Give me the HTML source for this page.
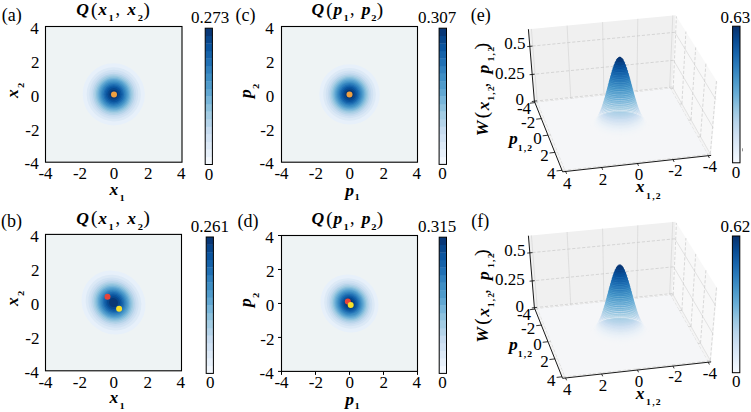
<!DOCTYPE html>
<html><head><meta charset="utf-8"><style>html,body{margin:0;padding:0;background:#fff;width:751px;height:412px;overflow:hidden}svg{display:block}</style></head><body>
<svg width="751" height="412" viewBox="0 0 751 412">
<rect width="751" height="412" fill="#fff"/>
<clipPath id="c45_26"><rect x="45.5" y="26.5" width="136.5" height="135.7"/></clipPath>
<rect x="45.5" y="26.5" width="136.5" height="135.7" fill="#eef3f4"/>
<g clip-path="url(#c45_26)">
<ellipse cx="113.75" cy="94.35" rx="31.18" ry="31" fill="#e7f0fa" transform="rotate(45 113.75 94.35)"/>
<ellipse cx="113.75" cy="94.35" rx="27.18" ry="27.02" fill="#dce9f6" transform="rotate(45 113.75 94.35)"/>
<ellipse cx="113.75" cy="94.35" rx="24.55" ry="24.4" fill="#d1e2f3" transform="rotate(45 113.75 94.35)"/>
<ellipse cx="113.75" cy="94.35" rx="22.49" ry="22.36" fill="#c6dbef" transform="rotate(45 113.75 94.35)"/>
<ellipse cx="113.75" cy="94.35" rx="20.76" ry="20.63" fill="#b4d3e9" transform="rotate(45 113.75 94.35)"/>
<ellipse cx="113.75" cy="94.35" rx="19.22" ry="19.11" fill="#a3cce3" transform="rotate(45 113.75 94.35)"/>
<ellipse cx="113.75" cy="94.35" rx="17.82" ry="17.72" fill="#8dc1dd" transform="rotate(45 113.75 94.35)"/>
<ellipse cx="113.75" cy="94.35" rx="16.51" ry="16.42" fill="#77b5d9" transform="rotate(45 113.75 94.35)"/>
<ellipse cx="113.75" cy="94.35" rx="15.27" ry="15.18" fill="#61a7d2" transform="rotate(45 113.75 94.35)"/>
<ellipse cx="113.75" cy="94.35" rx="14.06" ry="13.98" fill="#4f9bcb" transform="rotate(45 113.75 94.35)"/>
<ellipse cx="113.75" cy="94.35" rx="12.87" ry="12.79" fill="#3e8ec4" transform="rotate(45 113.75 94.35)"/>
<ellipse cx="113.75" cy="94.35" rx="11.68" ry="11.61" fill="#3080bd" transform="rotate(45 113.75 94.35)"/>
<ellipse cx="113.75" cy="94.35" rx="10.46" ry="10.4" fill="#2070b4" transform="rotate(45 113.75 94.35)"/>
<ellipse cx="113.75" cy="94.35" rx="9.19" ry="9.14" fill="#1562a9" transform="rotate(45 113.75 94.35)"/>
<ellipse cx="113.75" cy="94.35" rx="7.83" ry="7.78" fill="#0a549e" transform="rotate(45 113.75 94.35)"/>
<ellipse cx="113.75" cy="94.35" rx="6.29" ry="6.26" fill="#08468b" transform="rotate(45 113.75 94.35)"/>
<ellipse cx="113.75" cy="94.35" rx="4.38" ry="4.36" fill="#083776" transform="rotate(45 113.75 94.35)"/>
</g>
<circle cx="114" cy="94.6" r="3.0" fill="#f0a040"/>
<rect x="45.5" y="26.5" width="136.5" height="135.7" fill="none" stroke="#000" stroke-width="1.1"/>
<rect x="205.2" y="156.93" width="7.2" height="7.87" fill="#f2f7fd"/>
<rect x="205.2" y="149.36" width="7.2" height="7.87" fill="#e7f0fa"/>
<rect x="205.2" y="141.78" width="7.2" height="7.87" fill="#dce9f6"/>
<rect x="205.2" y="134.21" width="7.2" height="7.87" fill="#d1e2f3"/>
<rect x="205.2" y="126.64" width="7.2" height="7.87" fill="#c6dbef"/>
<rect x="205.2" y="119.07" width="7.2" height="7.87" fill="#b4d3e9"/>
<rect x="205.2" y="111.49" width="7.2" height="7.87" fill="#a3cce3"/>
<rect x="205.2" y="103.92" width="7.2" height="7.87" fill="#8dc1dd"/>
<rect x="205.2" y="96.35" width="7.2" height="7.87" fill="#77b5d9"/>
<rect x="205.2" y="88.78" width="7.2" height="7.87" fill="#61a7d2"/>
<rect x="205.2" y="81.21" width="7.2" height="7.87" fill="#4f9bcb"/>
<rect x="205.2" y="73.63" width="7.2" height="7.87" fill="#3e8ec4"/>
<rect x="205.2" y="66.06" width="7.2" height="7.87" fill="#3080bd"/>
<rect x="205.2" y="58.49" width="7.2" height="7.87" fill="#2070b4"/>
<rect x="205.2" y="50.92" width="7.2" height="7.87" fill="#1562a9"/>
<rect x="205.2" y="43.34" width="7.2" height="7.87" fill="#0a549e"/>
<rect x="205.2" y="35.77" width="7.2" height="7.87" fill="#08468b"/>
<rect x="205.2" y="28.2" width="7.2" height="7.87" fill="#083776"/>
<rect x="205.2" y="28.2" width="7.2" height="136.3" fill="none" stroke="#000" stroke-width="1"/>
<clipPath id="c45_234"><rect x="45.5" y="234.4" width="136" height="136.4"/></clipPath>
<rect x="45.5" y="234.4" width="136" height="136.4" fill="#eef3f4"/>
<g clip-path="url(#c45_234)">
<ellipse cx="113.5" cy="302.6" rx="33.16" ry="30.75" fill="#e7f0fa" transform="rotate(45 113.5 302.6)"/>
<ellipse cx="113.5" cy="302.6" rx="28.91" ry="26.81" fill="#dce9f6" transform="rotate(45 113.5 302.6)"/>
<ellipse cx="113.5" cy="302.6" rx="26.11" ry="24.21" fill="#d1e2f3" transform="rotate(45 113.5 302.6)"/>
<ellipse cx="113.5" cy="302.6" rx="23.92" ry="22.18" fill="#c6dbef" transform="rotate(45 113.5 302.6)"/>
<ellipse cx="113.5" cy="302.6" rx="22.07" ry="20.47" fill="#b4d3e9" transform="rotate(45 113.5 302.6)"/>
<ellipse cx="113.5" cy="302.6" rx="20.44" ry="18.95" fill="#a3cce3" transform="rotate(45 113.5 302.6)"/>
<ellipse cx="113.5" cy="302.6" rx="18.95" ry="17.57" fill="#8dc1dd" transform="rotate(45 113.5 302.6)"/>
<ellipse cx="113.5" cy="302.6" rx="17.56" ry="16.29" fill="#77b5d9" transform="rotate(45 113.5 302.6)"/>
<ellipse cx="113.5" cy="302.6" rx="16.24" ry="15.06" fill="#61a7d2" transform="rotate(45 113.5 302.6)"/>
<ellipse cx="113.5" cy="302.6" rx="14.95" ry="13.86" fill="#4f9bcb" transform="rotate(45 113.5 302.6)"/>
<ellipse cx="113.5" cy="302.6" rx="13.69" ry="12.69" fill="#3e8ec4" transform="rotate(45 113.5 302.6)"/>
<ellipse cx="113.5" cy="302.6" rx="12.42" ry="11.52" fill="#3080bd" transform="rotate(45 113.5 302.6)"/>
<ellipse cx="113.5" cy="302.6" rx="11.13" ry="10.32" fill="#2070b4" transform="rotate(45 113.5 302.6)"/>
<ellipse cx="113.5" cy="302.6" rx="9.78" ry="9.07" fill="#1562a9" transform="rotate(45 113.5 302.6)"/>
<ellipse cx="113.5" cy="302.6" rx="8.33" ry="7.72" fill="#0a549e" transform="rotate(45 113.5 302.6)"/>
<ellipse cx="113.5" cy="302.6" rx="6.69" ry="6.21" fill="#08468b" transform="rotate(45 113.5 302.6)"/>
<ellipse cx="113.5" cy="302.6" rx="4.66" ry="4.32" fill="#083776" transform="rotate(45 113.5 302.6)"/>
</g>
<circle cx="107.5" cy="296.7" r="3.0" fill="#e8443a"/>
<circle cx="119.1" cy="308.8" r="3.0" fill="#f7e02a"/>
<rect x="45.5" y="234.4" width="136" height="136.4" fill="none" stroke="#000" stroke-width="1.1"/>
<rect x="206.2" y="365.82" width="7.2" height="7.88" fill="#f2f7fd"/>
<rect x="206.2" y="358.24" width="7.2" height="7.88" fill="#e7f0fa"/>
<rect x="206.2" y="350.67" width="7.2" height="7.88" fill="#dce9f6"/>
<rect x="206.2" y="343.09" width="7.2" height="7.88" fill="#d1e2f3"/>
<rect x="206.2" y="335.51" width="7.2" height="7.88" fill="#c6dbef"/>
<rect x="206.2" y="327.93" width="7.2" height="7.88" fill="#b4d3e9"/>
<rect x="206.2" y="320.36" width="7.2" height="7.88" fill="#a3cce3"/>
<rect x="206.2" y="312.78" width="7.2" height="7.88" fill="#8dc1dd"/>
<rect x="206.2" y="305.2" width="7.2" height="7.88" fill="#77b5d9"/>
<rect x="206.2" y="297.62" width="7.2" height="7.88" fill="#61a7d2"/>
<rect x="206.2" y="290.04" width="7.2" height="7.88" fill="#4f9bcb"/>
<rect x="206.2" y="282.47" width="7.2" height="7.88" fill="#3e8ec4"/>
<rect x="206.2" y="274.89" width="7.2" height="7.88" fill="#3080bd"/>
<rect x="206.2" y="267.31" width="7.2" height="7.88" fill="#2070b4"/>
<rect x="206.2" y="259.73" width="7.2" height="7.88" fill="#1562a9"/>
<rect x="206.2" y="252.16" width="7.2" height="7.88" fill="#0a549e"/>
<rect x="206.2" y="244.58" width="7.2" height="7.88" fill="#08468b"/>
<rect x="206.2" y="237" width="7.2" height="7.88" fill="#083776"/>
<rect x="206.2" y="237" width="7.2" height="136.4" fill="none" stroke="#000" stroke-width="1"/>
<clipPath id="c281_26"><rect x="281.5" y="26.5" width="136" height="135.7"/></clipPath>
<rect x="281.5" y="26.5" width="136" height="135.7" fill="#eef3f4"/>
<g clip-path="url(#c281_26)">
<ellipse cx="349.5" cy="94.35" rx="30.25" ry="30.18" fill="#e7f0fa" transform="rotate(45 349.5 94.35)"/>
<ellipse cx="349.5" cy="94.35" rx="26.37" ry="26.31" fill="#dce9f6" transform="rotate(45 349.5 94.35)"/>
<ellipse cx="349.5" cy="94.35" rx="23.81" ry="23.76" fill="#d1e2f3" transform="rotate(45 349.5 94.35)"/>
<ellipse cx="349.5" cy="94.35" rx="21.82" ry="21.77" fill="#c6dbef" transform="rotate(45 349.5 94.35)"/>
<ellipse cx="349.5" cy="94.35" rx="20.14" ry="20.09" fill="#b4d3e9" transform="rotate(45 349.5 94.35)"/>
<ellipse cx="349.5" cy="94.35" rx="18.65" ry="18.61" fill="#a3cce3" transform="rotate(45 349.5 94.35)"/>
<ellipse cx="349.5" cy="94.35" rx="17.29" ry="17.25" fill="#8dc1dd" transform="rotate(45 349.5 94.35)"/>
<ellipse cx="349.5" cy="94.35" rx="16.02" ry="15.99" fill="#77b5d9" transform="rotate(45 349.5 94.35)"/>
<ellipse cx="349.5" cy="94.35" rx="14.81" ry="14.78" fill="#61a7d2" transform="rotate(45 349.5 94.35)"/>
<ellipse cx="349.5" cy="94.35" rx="13.64" ry="13.61" fill="#4f9bcb" transform="rotate(45 349.5 94.35)"/>
<ellipse cx="349.5" cy="94.35" rx="12.48" ry="12.46" fill="#3e8ec4" transform="rotate(45 349.5 94.35)"/>
<ellipse cx="349.5" cy="94.35" rx="11.33" ry="11.3" fill="#3080bd" transform="rotate(45 349.5 94.35)"/>
<ellipse cx="349.5" cy="94.35" rx="10.15" ry="10.13" fill="#2070b4" transform="rotate(45 349.5 94.35)"/>
<ellipse cx="349.5" cy="94.35" rx="8.92" ry="8.9" fill="#1562a9" transform="rotate(45 349.5 94.35)"/>
<ellipse cx="349.5" cy="94.35" rx="7.6" ry="7.58" fill="#0a549e" transform="rotate(45 349.5 94.35)"/>
<ellipse cx="349.5" cy="94.35" rx="6.11" ry="6.09" fill="#08468b" transform="rotate(45 349.5 94.35)"/>
<ellipse cx="349.5" cy="94.35" rx="4.25" ry="4.24" fill="#083776" transform="rotate(45 349.5 94.35)"/>
</g>
<circle cx="349.5" cy="94.6" r="3.0" fill="#f0a040"/>
<rect x="281.5" y="26.5" width="136" height="135.7" fill="none" stroke="#000" stroke-width="1.1"/>
<rect x="439.1" y="156.83" width="7.4" height="7.87" fill="#f2f7fd"/>
<rect x="439.1" y="149.27" width="7.4" height="7.87" fill="#e7f0fa"/>
<rect x="439.1" y="141.7" width="7.4" height="7.87" fill="#dce9f6"/>
<rect x="439.1" y="134.13" width="7.4" height="7.87" fill="#d1e2f3"/>
<rect x="439.1" y="126.57" width="7.4" height="7.87" fill="#c6dbef"/>
<rect x="439.1" y="119" width="7.4" height="7.87" fill="#b4d3e9"/>
<rect x="439.1" y="111.43" width="7.4" height="7.87" fill="#a3cce3"/>
<rect x="439.1" y="103.87" width="7.4" height="7.87" fill="#8dc1dd"/>
<rect x="439.1" y="96.3" width="7.4" height="7.87" fill="#77b5d9"/>
<rect x="439.1" y="88.73" width="7.4" height="7.87" fill="#61a7d2"/>
<rect x="439.1" y="81.17" width="7.4" height="7.87" fill="#4f9bcb"/>
<rect x="439.1" y="73.6" width="7.4" height="7.87" fill="#3e8ec4"/>
<rect x="439.1" y="66.03" width="7.4" height="7.87" fill="#3080bd"/>
<rect x="439.1" y="58.47" width="7.4" height="7.87" fill="#2070b4"/>
<rect x="439.1" y="50.9" width="7.4" height="7.87" fill="#1562a9"/>
<rect x="439.1" y="43.33" width="7.4" height="7.87" fill="#0a549e"/>
<rect x="439.1" y="35.77" width="7.4" height="7.87" fill="#08468b"/>
<rect x="439.1" y="28.2" width="7.4" height="7.87" fill="#083776"/>
<rect x="439.1" y="28.2" width="7.4" height="136.2" fill="none" stroke="#000" stroke-width="1"/>
<clipPath id="c281_235"><rect x="281.5" y="235.5" width="136" height="135.9"/></clipPath>
<rect x="281.5" y="235.5" width="136" height="135.9" fill="#eef3f4"/>
<g clip-path="url(#c281_235)">
<ellipse cx="349.5" cy="303.45" rx="29.89" ry="28.15" fill="#e7f0fa" transform="rotate(45 349.5 303.45)"/>
<ellipse cx="349.5" cy="303.45" rx="26.06" ry="24.55" fill="#dce9f6" transform="rotate(45 349.5 303.45)"/>
<ellipse cx="349.5" cy="303.45" rx="23.53" ry="22.17" fill="#d1e2f3" transform="rotate(45 349.5 303.45)"/>
<ellipse cx="349.5" cy="303.45" rx="21.56" ry="20.31" fill="#c6dbef" transform="rotate(45 349.5 303.45)"/>
<ellipse cx="349.5" cy="303.45" rx="19.9" ry="18.74" fill="#b4d3e9" transform="rotate(45 349.5 303.45)"/>
<ellipse cx="349.5" cy="303.45" rx="18.43" ry="17.36" fill="#a3cce3" transform="rotate(45 349.5 303.45)"/>
<ellipse cx="349.5" cy="303.45" rx="17.09" ry="16.09" fill="#8dc1dd" transform="rotate(45 349.5 303.45)"/>
<ellipse cx="349.5" cy="303.45" rx="15.83" ry="14.91" fill="#77b5d9" transform="rotate(45 349.5 303.45)"/>
<ellipse cx="349.5" cy="303.45" rx="14.64" ry="13.79" fill="#61a7d2" transform="rotate(45 349.5 303.45)"/>
<ellipse cx="349.5" cy="303.45" rx="13.48" ry="12.7" fill="#4f9bcb" transform="rotate(45 349.5 303.45)"/>
<ellipse cx="349.5" cy="303.45" rx="12.34" ry="11.62" fill="#3e8ec4" transform="rotate(45 349.5 303.45)"/>
<ellipse cx="349.5" cy="303.45" rx="11.2" ry="10.54" fill="#3080bd" transform="rotate(45 349.5 303.45)"/>
<ellipse cx="349.5" cy="303.45" rx="10.03" ry="9.45" fill="#2070b4" transform="rotate(45 349.5 303.45)"/>
<ellipse cx="349.5" cy="303.45" rx="8.81" ry="8.3" fill="#1562a9" transform="rotate(45 349.5 303.45)"/>
<ellipse cx="349.5" cy="303.45" rx="7.51" ry="7.07" fill="#0a549e" transform="rotate(45 349.5 303.45)"/>
<ellipse cx="349.5" cy="303.45" rx="6.03" ry="5.68" fill="#08468b" transform="rotate(45 349.5 303.45)"/>
<ellipse cx="349.5" cy="303.45" rx="4.2" ry="3.96" fill="#083776" transform="rotate(45 349.5 303.45)"/>
</g>
<circle cx="347.8" cy="301.5" r="3.0" fill="#e8443a"/>
<circle cx="350.7" cy="304.9" r="3.0" fill="#f7e02a"/>
<rect x="281.5" y="235.5" width="136" height="135.9" fill="none" stroke="#000" stroke-width="1.1"/>
<line x1="281.5" y1="371.4" x2="281.5" y2="374.9" stroke="#000" stroke-width="1"/>
<line x1="278" y1="235.5" x2="281.5" y2="235.5" stroke="#000" stroke-width="1"/>
<line x1="315.5" y1="371.4" x2="315.5" y2="374.9" stroke="#000" stroke-width="1"/>
<line x1="278" y1="269.48" x2="281.5" y2="269.48" stroke="#000" stroke-width="1"/>
<line x1="349.5" y1="371.4" x2="349.5" y2="374.9" stroke="#000" stroke-width="1"/>
<line x1="278" y1="303.45" x2="281.5" y2="303.45" stroke="#000" stroke-width="1"/>
<line x1="383.5" y1="371.4" x2="383.5" y2="374.9" stroke="#000" stroke-width="1"/>
<line x1="278" y1="337.42" x2="281.5" y2="337.42" stroke="#000" stroke-width="1"/>
<line x1="417.5" y1="371.4" x2="417.5" y2="374.9" stroke="#000" stroke-width="1"/>
<line x1="278" y1="371.4" x2="281.5" y2="371.4" stroke="#000" stroke-width="1"/>
<rect x="439.2" y="365.83" width="7.3" height="7.87" fill="#f2f7fd"/>
<rect x="439.2" y="358.27" width="7.3" height="7.87" fill="#e7f0fa"/>
<rect x="439.2" y="350.7" width="7.3" height="7.87" fill="#dce9f6"/>
<rect x="439.2" y="343.13" width="7.3" height="7.87" fill="#d1e2f3"/>
<rect x="439.2" y="335.57" width="7.3" height="7.87" fill="#c6dbef"/>
<rect x="439.2" y="328" width="7.3" height="7.87" fill="#b4d3e9"/>
<rect x="439.2" y="320.43" width="7.3" height="7.87" fill="#a3cce3"/>
<rect x="439.2" y="312.87" width="7.3" height="7.87" fill="#8dc1dd"/>
<rect x="439.2" y="305.3" width="7.3" height="7.87" fill="#77b5d9"/>
<rect x="439.2" y="297.73" width="7.3" height="7.87" fill="#61a7d2"/>
<rect x="439.2" y="290.17" width="7.3" height="7.87" fill="#4f9bcb"/>
<rect x="439.2" y="282.6" width="7.3" height="7.87" fill="#3e8ec4"/>
<rect x="439.2" y="275.03" width="7.3" height="7.87" fill="#3080bd"/>
<rect x="439.2" y="267.47" width="7.3" height="7.87" fill="#2070b4"/>
<rect x="439.2" y="259.9" width="7.3" height="7.87" fill="#1562a9"/>
<rect x="439.2" y="252.33" width="7.3" height="7.87" fill="#0a549e"/>
<rect x="439.2" y="244.77" width="7.3" height="7.87" fill="#08468b"/>
<rect x="439.2" y="237.2" width="7.3" height="7.87" fill="#083776"/>
<rect x="439.2" y="237.2" width="7.3" height="136.2" fill="none" stroke="#000" stroke-width="1"/>
<polygon points="672.4,87.2 534.4,101.3 528.4,29.2 675.7,15.2" fill="#f0f0f0"/>
<polygon points="672.4,87.2 711.1,155.4 717.4,82.2 675.7,15.2" fill="#f8f8f8"/>
<polygon points="672.4,87.2 534.4,101.3 562.6,171.8 711.1,155.4" fill="#f4f4f4"/>
<line x1="669.7" y1="87.4" x2="672.8" y2="15.4" stroke="#d2d2d2" stroke-width="0.6"/>
<line x1="636.9" y1="90.8" x2="637.8" y2="18.8" stroke="#d2d2d2" stroke-width="0.6"/>
<line x1="603.9" y1="94.2" x2="602.6" y2="22.1" stroke="#d2d2d2" stroke-width="0.6"/>
<line x1="570.7" y1="97.6" x2="567.1" y2="25.5" stroke="#d2d2d2" stroke-width="0.6"/>
<line x1="537.2" y1="101" x2="531.4" y2="28.9" stroke="#d2d2d2" stroke-width="0.6"/>
<line x1="672.4" y1="87" x2="534.4" y2="101.2" stroke="#c6c6c6" stroke-width="0.65" stroke-dasharray="3.2 1.8"/>
<line x1="673.6" y1="60.3" x2="532.2" y2="74.4" stroke="#c6c6c6" stroke-width="0.65" stroke-dasharray="3.2 1.8"/>
<line x1="674.9" y1="32.3" x2="529.8" y2="46.3" stroke="#c6c6c6" stroke-width="0.65" stroke-dasharray="3.2 1.8"/>
<line x1="673.2" y1="88.4" x2="676.4" y2="16.4" stroke="#c6c6c6" stroke-width="0.65" stroke-dasharray="3.2 1.8"/>
<line x1="681.9" y1="103.9" x2="685.9" y2="31.6" stroke="#c6c6c6" stroke-width="0.65" stroke-dasharray="3.2 1.8"/>
<line x1="691" y1="120" x2="695.7" y2="47.4" stroke="#c6c6c6" stroke-width="0.65" stroke-dasharray="3.2 1.8"/>
<line x1="700.5" y1="136.7" x2="705.9" y2="63.7" stroke="#c6c6c6" stroke-width="0.65" stroke-dasharray="3.2 1.8"/>
<line x1="710.3" y1="154" x2="716.5" y2="80.8" stroke="#c6c6c6" stroke-width="0.65" stroke-dasharray="3.2 1.8"/>
<line x1="672.4" y1="87" x2="711.1" y2="155.3" stroke="#d4d4d4" stroke-width="0.6"/>
<line x1="673.6" y1="60.3" x2="713.4" y2="128.2" stroke="#d4d4d4" stroke-width="0.6"/>
<line x1="674.9" y1="32.3" x2="715.9" y2="99.7" stroke="#d4d4d4" stroke-width="0.6"/>
<line x1="669.7" y1="87.4" x2="708.2" y2="155.7" stroke="#c6c6c6" stroke-width="0.65" stroke-dasharray="3.2 1.8"/>
<line x1="636.9" y1="90.8" x2="673" y2="159.6" stroke="#c6c6c6" stroke-width="0.65" stroke-dasharray="3.2 1.8"/>
<line x1="603.9" y1="94.2" x2="637.5" y2="163.6" stroke="#c6c6c6" stroke-width="0.65" stroke-dasharray="3.2 1.8"/>
<line x1="570.7" y1="97.6" x2="601.7" y2="167.5" stroke="#c6c6c6" stroke-width="0.65" stroke-dasharray="3.2 1.8"/>
<line x1="537.2" y1="101" x2="565.6" y2="171.5" stroke="#c6c6c6" stroke-width="0.65" stroke-dasharray="3.2 1.8"/>
<line x1="673.2" y1="88.4" x2="534.9" y2="102.6" stroke="#c6c6c6" stroke-width="0.65" stroke-dasharray="3.2 1.8"/>
<line x1="681.9" y1="103.9" x2="541.3" y2="118.6" stroke="#c6c6c6" stroke-width="0.65" stroke-dasharray="3.2 1.8"/>
<line x1="691" y1="120" x2="548" y2="135.2" stroke="#c6c6c6" stroke-width="0.65" stroke-dasharray="3.2 1.8"/>
<line x1="700.5" y1="136.7" x2="554.9" y2="152.4" stroke="#c6c6c6" stroke-width="0.65" stroke-dasharray="3.2 1.8"/>
<line x1="710.3" y1="154" x2="562" y2="170.3" stroke="#c6c6c6" stroke-width="0.65" stroke-dasharray="3.2 1.8"/>
<polygon points="670.4,88.6 537.7,102.2 565,169.8 707.4,154.1" fill="#f5f6f8"/>
<polygon points="585.9,130.5 586.7,131.9 587.7,133.3 589,134.7 590.5,136 592.3,137.2 594.2,138.4 596.4,139.4 598.8,140.4 601.3,141.3 604,142 606.8,142.7 609.7,143.2 612.8,143.6 615.8,143.9 618.9,144 622,144 625.1,143.9 628.2,143.6 631.1,143.2 634,142.7 636.8,142.1 639.5,141.3 642,140.5 644.3,139.5 646.4,138.4 648.3,137.3 650,136 651.5,134.7 652.7,133.4 653.7,132 654.4,130.6 654.8,129.1 655,127.6 654.9,126.2 654.6,124.7 653.9,123.3 653.1,121.9 652,120.5 650.6,119.2 649,117.9 647.2,116.7 645.2,115.6 643,114.6 640.7,113.7 638.2,112.9 635.6,112.2 632.8,111.6 630,111.1 627.1,110.7 624.1,110.5 621.1,110.3 618.1,110.3 615.2,110.5 612.2,110.7 609.3,111.1 606.5,111.6 603.8,112.2 601.2,112.9 598.8,113.7 596.5,114.6 594.3,115.6 592.4,116.7 590.7,117.9 589.1,119.1 587.8,120.4 586.8,121.8 586,123.2 585.4,124.6 585.2,126.1 585.1,127.6 585.4,129" fill="#f5f6f8"/>
<polygon points="590,128.9 590.7,130.2 591.6,131.4 592.8,132.6 594.1,133.8 595.7,134.8 597.4,135.8 599.3,136.8 601.4,137.6 603.6,138.4 606,139.1 608.5,139.6 611,140.1 613.6,140.4 616.3,140.7 619,140.8 621.8,140.8 624.5,140.7 627.2,140.4 629.8,140.1 632.3,139.6 634.8,139.1 637.1,138.4 639.3,137.7 641.3,136.8 643.2,135.9 644.9,134.9 646.4,133.8 647.7,132.7 648.7,131.5 649.6,130.3 650.2,129 650.6,127.7 650.8,126.4 650.7,125.1 650.4,123.9 649.8,122.6 649.1,121.4 648.1,120.2 646.9,119 645.5,117.9 643.9,116.9 642.2,115.9 640.3,115 638.2,114.2 636,113.5 633.7,112.8 631.3,112.3 628.8,111.9 626.2,111.6 623.6,111.3 621,111.2 618.4,111.2 615.7,111.3 613.2,111.5 610.6,111.9 608.1,112.3 605.7,112.8 603.5,113.4 601.3,114.2 599.3,115 597.4,115.9 595.7,116.8 594.2,117.9 592.9,119 591.7,120.1 590.8,121.3 590.1,122.5 589.6,123.8 589.4,125.1 589.4,126.4 589.6,127.7" fill="#f5f6f8"/>
<polygon points="592.2,127.6 592.8,128.8 593.7,129.9 594.7,131 596,132.1 597.4,133.1 599,134 600.8,134.9 602.7,135.7 604.8,136.4 607,137 609.3,137.5 611.7,137.9 614.1,138.2 616.6,138.5 619.1,138.6 621.6,138.6 624.2,138.5 626.6,138.3 629.1,137.9 631.4,137.5 633.7,137 635.9,136.4 637.9,135.7 639.8,134.9 641.5,134 643.1,133.1 644.5,132.1 645.7,131.1 646.7,130 647.5,128.8 648.1,127.7 648.4,126.5 648.6,125.3 648.5,124.1 648.2,122.9 647.7,121.7 647,120.6 646.1,119.5 645,118.4 643.7,117.4 642.3,116.4 640.6,115.5 638.9,114.7 636.9,113.9 634.9,113.2 632.7,112.7 630.5,112.2 628.2,111.8 625.8,111.5 623.4,111.3 620.9,111.1 618.5,111.1 616,111.2 613.6,111.4 611.3,111.7 609,112.1 606.7,112.6 604.6,113.2 602.6,113.9 600.7,114.6 599,115.5 597.4,116.4 596,117.3 594.8,118.3 593.7,119.4 592.9,120.5 592.2,121.7 591.8,122.8 591.5,124 591.5,125.2 591.7,126.4" fill="#f5f6f8"/>
<polygon points="593.7,126.3 594.3,127.4 595.1,128.5 596.1,129.6 597.3,130.5 598.6,131.5 600.2,132.4 601.8,133.2 603.7,133.9 605.6,134.6 607.7,135.2 609.9,135.7 612.1,136.1 614.4,136.4 616.8,136.6 619.2,136.7 621.6,136.7 623.9,136.6 626.3,136.4 628.6,136.1 630.8,135.7 632.9,135.2 635,134.6 636.9,134 638.7,133.2 640.4,132.4 641.8,131.5 643.2,130.6 644.3,129.6 645.2,128.6 646,127.5 646.6,126.4 646.9,125.3 647.1,124.1 647,123 646.7,121.9 646.3,120.8 645.6,119.7 644.7,118.6 643.7,117.6 642.5,116.6 641.1,115.7 639.5,114.9 637.9,114.1 636,113.4 634.1,112.7 632.1,112.2 629.9,111.7 627.7,111.3 625.5,111.1 623.2,110.9 620.9,110.8 618.6,110.8 616.2,110.9 614,111 611.7,111.3 609.5,111.7 607.4,112.2 605.4,112.7 603.5,113.4 601.7,114.1 600.1,114.8 598.6,115.7 597.3,116.6 596.1,117.6 595.1,118.6 594.3,119.6 593.7,120.7 593.3,121.8 593.1,123 593.1,124.1 593.3,125.2" fill="#f4f6f8"/>
<polygon points="594.8,125.1 595.4,126.2 596.2,127.2 597.1,128.2 598.3,129.1 599.6,130 601,130.9 602.6,131.6 604.4,132.4 606.3,133 608.2,133.5 610.3,134 612.5,134.4 614.7,134.7 616.9,134.9 619.2,135 621.5,135 623.7,134.9 626,134.7 628.2,134.4 630.3,134 632.4,133.6 634.3,133 636.2,132.4 637.9,131.7 639.4,130.9 640.9,130.1 642.1,129.2 643.2,128.2 644.1,127.2 644.8,126.2 645.4,125.1 645.7,124.1 645.9,123 645.8,121.9 645.5,120.8 645.1,119.8 644.5,118.7 643.6,117.7 642.6,116.8 641.5,115.8 640.2,115 638.7,114.2 637.1,113.4 635.3,112.7 633.5,112.1 631.5,111.6 629.5,111.1 627.4,110.8 625.2,110.5 623.1,110.3 620.8,110.2 618.6,110.2 616.4,110.3 614.2,110.5 612.1,110.8 610,111.1 608,111.6 606.1,112.1 604.2,112.7 602.5,113.4 601,114.1 599.5,114.9 598.3,115.8 597.1,116.7 596.2,117.7 595.4,118.7 594.8,119.7 594.5,120.8 594.3,121.9 594.2,123 594.4,124" fill="#f3f5f8"/>
<polygon points="595.8,123.9 596.4,124.9 597.1,125.9 598,126.8 599.1,127.7 600.4,128.6 601.8,129.4 603.3,130.2 605,130.8 606.8,131.5 608.7,132 610.7,132.4 612.8,132.8 614.9,133.1 617,133.3 619.2,133.4 621.4,133.4 623.6,133.3 625.8,133.1 627.9,132.8 629.9,132.5 631.9,132 633.8,131.5 635.5,130.9 637.2,130.2 638.7,129.4 640.1,128.6 641.3,127.8 642.3,126.9 643.2,125.9 643.9,124.9 644.4,123.9 644.7,122.9 644.9,121.9 644.8,120.8 644.6,119.8 644.1,118.8 643.5,117.8 642.7,116.8 641.8,115.9 640.7,115 639.4,114.2 638,113.4 636.4,112.6 634.7,112 633,111.4 631.1,110.9 629.1,110.5 627.1,110.1 625,109.9 622.9,109.7 620.8,109.6 618.7,109.6 616.5,109.7 614.4,109.8 612.4,110.1 610.4,110.5 608.4,110.9 606.6,111.4 604.8,112 603.2,112.6 601.7,113.3 600.3,114.1 599.1,115 598,115.8 597.1,116.8 596.4,117.7 595.8,118.7 595.4,119.7 595.2,120.8 595.2,121.8 595.4,122.9" fill="#f1f5f8"/>
<polygon points="596.6,122.7 597.2,123.6 597.9,124.6 598.8,125.5 599.8,126.4 601,127.2 602.4,128 603.9,128.7 605.5,129.4 607.3,130 609.1,130.5 611,130.9 613,131.3 615,131.5 617.1,131.7 619.2,131.8 621.4,131.8 623.5,131.7 625.6,131.5 627.6,131.3 629.6,130.9 631.5,130.5 633.3,130 635,129.4 636.6,128.8 638,128 639.4,127.3 640.5,126.4 641.5,125.5 642.4,124.6 643,123.7 643.5,122.7 643.9,121.7 644,120.7 643.9,119.7 643.7,118.7 643.3,117.7 642.7,116.8 641.9,115.9 641,115 639.9,114.1 638.7,113.3 637.3,112.5 635.9,111.8 634.2,111.2 632.5,110.6 630.7,110.2 628.8,109.7 626.9,109.4 624.9,109.1 622.8,109 620.8,108.9 618.7,108.9 616.7,109 614.6,109.1 612.6,109.4 610.7,109.7 608.8,110.1 607.1,110.6 605.4,111.2 603.8,111.8 602.3,112.5 601,113.3 599.8,114.1 598.8,114.9 597.9,115.8 597.2,116.7 596.6,117.7 596.3,118.7 596.1,119.7 596.1,120.7 596.3,121.7" fill="#eff3f8"/>
<polygon points="597.4,121.5 597.9,122.4 598.6,123.3 599.5,124.2 600.5,125.1 601.6,125.9 603,126.6 604.4,127.3 606,128 607.7,128.5 609.4,129 611.3,129.4 613.2,129.8 615.2,130 617.2,130.2 619.3,130.3 621.3,130.3 623.4,130.2 625.4,130 627.3,129.8 629.3,129.5 631.1,129 632.8,128.5 634.5,128 636,127.4 637.5,126.7 638.7,125.9 639.9,125.1 640.8,124.3 641.7,123.4 642.3,122.5 642.8,121.5 643.1,120.6 643.2,119.6 643.2,118.6 643,117.7 642.6,116.7 642,115.8 641.3,114.9 640.4,114 639.3,113.2 638.1,112.4 636.8,111.7 635.4,111 633.8,110.4 632.1,109.8 630.4,109.4 628.5,109 626.7,108.6 624.7,108.4 622.7,108.2 620.7,108.1 618.7,108.1 616.8,108.2 614.8,108.4 612.9,108.6 611,108.9 609.2,109.3 607.5,109.8 605.8,110.4 604.3,111 602.9,111.6 601.6,112.4 600.4,113.1 599.4,114 598.6,114.8 597.9,115.7 597.4,116.7 597,117.6 596.8,118.6 596.8,119.5 597,120.5" fill="#ecf2f8"/>
<polygon points="598,120.3 598.5,121.2 599.2,122.1 600.1,122.9 601.1,123.8 602.2,124.5 603.5,125.3 604.9,125.9 606.4,126.6 608,127.1 609.7,127.6 611.6,128 613.4,128.3 615.3,128.6 617.3,128.7 619.3,128.8 621.3,128.8 623.3,128.8 625.2,128.6 627.1,128.3 629,128 630.8,127.6 632.5,127.1 634.1,126.6 635.6,126 636.9,125.3 638.2,124.6 639.3,123.8 640.2,123 641,122.1 641.6,121.2 642.1,120.3 642.4,119.4 642.5,118.5 642.5,117.5 642.3,116.6 641.9,115.7 641.3,114.8 640.6,113.9 639.8,113 638.7,112.2 637.6,111.5 636.3,110.8 634.9,110.1 633.4,109.5 631.8,109 630.1,108.5 628.3,108.1 626.5,107.8 624.6,107.6 622.7,107.4 620.7,107.3 618.8,107.3 616.8,107.4 614.9,107.6 613.1,107.8 611.2,108.1 609.5,108.5 607.8,109 606.2,109.5 604.7,110.1 603.4,110.7 602.1,111.5 601,112.2 600,113 599.2,113.9 598.5,114.7 598,115.6 597.7,116.5 597.5,117.5 597.5,118.4 597.7,119.4" fill="#e9f0f7"/>
<polygon points="598.6,119.1 599.1,120 599.8,120.8 600.6,121.7 601.6,122.5 602.7,123.2 603.9,123.9 605.3,124.6 606.8,125.2 608.4,125.7 610,126.2 611.8,126.6 613.6,126.9 615.5,127.1 617.4,127.3 619.3,127.4 621.2,127.4 623.2,127.3 625.1,127.2 626.9,126.9 628.7,126.6 630.5,126.2 632.1,125.7 633.7,125.2 635.1,124.6 636.5,124 637.7,123.3 638.7,122.5 639.7,121.7 640.4,120.9 641,120 641.5,119.1 641.8,118.2 641.9,117.3 641.9,116.4 641.6,115.5 641.3,114.6 640.7,113.7 640,112.9 639.2,112.1 638.2,111.3 637.1,110.5 635.8,109.9 634.5,109.2 633,108.6 631.4,108.1 629.8,107.7 628.1,107.3 626.3,107 624.4,106.8 622.6,106.6 620.7,106.5 618.8,106.5 616.9,106.6 615.1,106.8 613.3,107 611.5,107.3 609.8,107.7 608.1,108.1 606.6,108.6 605.2,109.2 603.8,109.8 602.6,110.5 601.5,111.3 600.6,112 599.8,112.8 599.1,113.7 598.6,114.6 598.3,115.5 598.1,116.4 598.1,117.3 598.3,118.2" fill="#e5eef6"/>
<polygon points="599.2,117.9 599.7,118.8 600.3,119.6 601.1,120.4 602.1,121.2 603.1,121.9 604.3,122.6 605.7,123.2 607.1,123.8 608.7,124.3 610.3,124.8 612,125.2 613.8,125.5 615.6,125.7 617.4,125.9 619.3,126 621.2,126 623.1,125.9 624.9,125.7 626.7,125.5 628.5,125.2 630.2,124.8 631.8,124.4 633.3,123.8 634.7,123.3 636,122.6 637.2,121.9 638.2,121.2 639.1,120.4 639.9,119.6 640.5,118.8 640.9,117.9 641.2,117.1 641.3,116.2 641.3,115.3 641.1,114.4 640.7,113.5 640.2,112.7 639.5,111.9 638.7,111.1 637.7,110.3 636.6,109.6 635.4,108.9 634.1,108.3 632.7,107.7 631.1,107.2 629.5,106.8 627.8,106.4 626.1,106.1 624.3,105.9 622.5,105.8 620.7,105.7 618.8,105.7 617,105.8 615.2,105.9 613.4,106.1 611.7,106.4 610,106.8 608.5,107.2 607,107.7 605.5,108.3 604.2,108.9 603.1,109.6 602,110.3 601.1,111 600.3,111.8 599.7,112.7 599.2,113.5 598.9,114.4 598.7,115.3 598.7,116.1 598.9,117" fill="#e1ebf5"/>
<polygon points="599.7,116.7 600.2,117.5 600.8,118.4 601.6,119.2 602.5,119.9 603.6,120.6 604.7,121.3 606,121.9 607.4,122.5 608.9,123 610.5,123.4 612.2,123.8 613.9,124.1 615.7,124.3 617.5,124.5 619.3,124.6 621.2,124.6 623,124.5 624.8,124.3 626.5,124.1 628.3,123.8 629.9,123.4 631.5,123 633,122.5 634.3,121.9 635.6,121.3 636.7,120.7 637.8,119.9 638.6,119.2 639.4,118.4 639.9,117.6 640.4,116.7 640.7,115.9 640.8,115 640.7,114.2 640.5,113.3 640.2,112.5 639.7,111.6 639,110.8 638.2,110.1 637.3,109.3 636.2,108.6 635,108 633.7,107.4 632.3,106.8 630.9,106.3 629.3,105.9 627.6,105.6 625.9,105.3 624.2,105 622.4,104.9 620.7,104.8 618.9,104.8 617.1,104.9 615.3,105 613.6,105.3 611.9,105.5 610.3,105.9 608.7,106.3 607.3,106.8 605.9,107.3 604.6,107.9 603.5,108.6 602.5,109.3 601.6,110 600.8,110.8 600.2,111.6 599.7,112.4 599.4,113.3 599.3,114.1 599.3,115 599.4,115.9" fill="#dce8f4"/>
<polygon points="600.2,115.5 600.7,116.3 601.3,117.1 602.1,117.9 602.9,118.6 604,119.3 605.1,120 606.4,120.6 607.8,121.1 609.2,121.6 610.8,122.1 612.4,122.4 614.1,122.7 615.8,122.9 617.6,123.1 619.3,123.2 621.1,123.2 622.9,123.1 624.7,123 626.4,122.7 628,122.4 629.7,122.1 631.2,121.7 632.6,121.2 634,120.6 635.2,120 636.3,119.4 637.3,118.7 638.2,117.9 638.9,117.2 639.5,116.4 639.9,115.6 640.1,114.7 640.3,113.9 640.2,113 640,112.2 639.7,111.4 639.2,110.6 638.5,109.8 637.8,109 636.9,108.3 635.8,107.6 634.7,107 633.4,106.4 632,105.9 630.6,105.4 629.1,105 627.5,104.7 625.8,104.4 624.1,104.2 622.4,104 620.6,103.9 618.9,103.9 617.1,104 615.4,104.2 613.7,104.4 612.1,104.6 610.5,105 609,105.4 607.6,105.9 606.2,106.4 605,107 603.9,107.6 602.9,108.3 602,109 601.3,109.8 600.7,110.6 600.2,111.4 599.9,112.2 599.8,113 599.8,113.9 599.9,114.7" fill="#d7e5f3"/>
<polygon points="600.7,114.3 601.1,115.1 601.7,115.9 602.5,116.7 603.4,117.4 604.4,118.1 605.5,118.7 606.7,119.3 608,119.8 609.5,120.3 611,120.7 612.6,121.1 614.2,121.4 615.9,121.6 617.6,121.7 619.4,121.8 621.1,121.8 622.8,121.7 624.5,121.6 626.2,121.4 627.9,121.1 629.4,120.7 630.9,120.3 632.3,119.8 633.6,119.3 634.8,118.7 635.9,118.1 636.9,117.4 637.7,116.7 638.4,115.9 639,115.2 639.4,114.4 639.7,113.6 639.8,112.7 639.7,111.9 639.5,111.1 639.2,110.3 638.7,109.5 638.1,108.8 637.3,108 636.5,107.3 635.4,106.7 634.3,106 633.1,105.5 631.7,104.9 630.3,104.5 628.8,104.1 627.3,103.7 625.7,103.5 624,103.3 622.3,103.1 620.6,103 618.9,103 617.2,103.1 615.5,103.2 613.9,103.5 612.3,103.7 610.7,104.1 609.3,104.5 607.9,104.9 606.6,105.4 605.4,106 604.3,106.6 603.3,107.3 602.4,108 601.7,108.7 601.1,109.5 600.7,110.3 600.4,111.1 600.2,111.9 600.2,112.7 600.4,113.5" fill="#d2e2f2"/>
<polygon points="601.1,113.2 601.6,113.9 602.2,114.7 602.9,115.4 603.7,116.1 604.7,116.8 605.8,117.4 607,118 608.3,118.5 609.7,119 611.2,119.4 612.7,119.7 614.3,120 616,120.2 617.7,120.4 619.4,120.4 621.1,120.4 622.8,120.4 624.4,120.2 626.1,120 627.7,119.7 629.2,119.4 630.7,119 632,118.5 633.3,118 634.5,117.4 635.6,116.8 636.5,116.1 637.3,115.4 638,114.7 638.5,114 638.9,113.2 639.2,112.4 639.3,111.6 639.3,110.8 639.1,110 638.8,109.2 638.3,108.5 637.7,107.7 636.9,107 636.1,106.3 635.1,105.7 634,105.1 632.8,104.5 631.5,104 630.1,103.5 628.6,103.1 627.1,102.8 625.5,102.5 623.9,102.3 622.3,102.2 620.6,102.1 618.9,102.1 617.3,102.2 615.6,102.3 614,102.5 612.5,102.8 611,103.1 609.5,103.5 608.1,104 606.9,104.5 605.7,105 604.6,105.6 603.7,106.3 602.8,107 602.1,107.7 601.6,108.4 601.1,109.2 600.8,110 600.7,110.8 600.7,111.6 600.8,112.4" fill="#cddff1"/>
<polygon points="601.6,112 602,112.7 602.6,113.5 603.3,114.2 604.1,114.9 605.1,115.5 606.1,116.1 607.3,116.7 608.6,117.2 609.9,117.6 611.4,118 612.9,118.4 614.5,118.6 616.1,118.9 617.7,119 619.4,119.1 621,119.1 622.7,119 624.3,118.9 625.9,118.7 627.5,118.4 629,118 630.4,117.7 631.7,117.2 633,116.7 634.2,116.1 635.2,115.5 636.1,114.9 636.9,114.2 637.6,113.5 638.1,112.8 638.5,112 638.8,111.2 638.9,110.4 638.8,109.7 638.7,108.9 638.3,108.1 637.9,107.4 637.3,106.7 636.6,106 635.7,105.3 634.7,104.6 633.7,104.1 632.5,103.5 631.2,103 629.9,102.6 628.4,102.2 626.9,101.9 625.4,101.6 623.8,101.4 622.2,101.3 620.6,101.2 618.9,101.2 617.3,101.3 615.7,101.4 614.2,101.6 612.6,101.9 611.2,102.2 609.7,102.6 608.4,103 607.2,103.5 606,104 605,104.6 604,105.3 603.2,105.9 602.5,106.6 602,107.4 601.6,108.1 601.3,108.9 601.1,109.6 601.1,110.4 601.3,111.2" fill="#c6dbef"/>
<polygon points="602,110.8 602.4,111.5 603,112.2 603.6,112.9 604.5,113.6 605.4,114.2 606.4,114.8 607.6,115.4 608.8,115.9 610.2,116.3 611.6,116.7 613.1,117 614.6,117.3 616.2,117.5 617.8,117.6 619.4,117.7 621,117.7 622.6,117.6 624.2,117.5 625.8,117.3 627.3,117 628.8,116.7 630.2,116.3 631.5,115.9 632.7,115.4 633.8,114.8 634.8,114.3 635.7,113.6 636.5,113 637.2,112.3 637.7,111.5 638.1,110.8 638.3,110.1 638.4,109.3 638.4,108.5 638.2,107.8 637.9,107 637.5,106.3 636.9,105.6 636.2,104.9 635.4,104.3 634.4,103.6 633.4,103.1 632.2,102.5 631,102 629.6,101.6 628.2,101.2 626.8,100.9 625.3,100.7 623.7,100.5 622.2,100.3 620.6,100.3 619,100.3 617.4,100.3 615.8,100.5 614.3,100.7 612.8,100.9 611.3,101.2 610,101.6 608.7,102 607.4,102.5 606.3,103 605.3,103.6 604.4,104.2 603.6,104.9 602.9,105.6 602.4,106.3 602,107 601.7,107.8 601.5,108.5 601.6,109.3 601.7,110" fill="#bfd8ec"/>
<polygon points="602.4,109.6 602.8,110.3 603.3,111 604,111.7 604.8,112.4 605.7,113 606.7,113.5 607.9,114.1 609.1,114.6 610.4,115 611.8,115.4 613.2,115.7 614.7,116 616.2,116.2 617.8,116.3 619.4,116.4 621,116.4 622.6,116.3 624.1,116.2 625.7,116 627.1,115.7 628.6,115.4 629.9,115 631.2,114.6 632.4,114.1 633.5,113.6 634.5,113 635.4,112.4 636.2,111.7 636.8,111 637.3,110.3 637.7,109.6 637.9,108.9 638,108.1 638,107.4 637.8,106.7 637.5,105.9 637.1,105.2 636.5,104.5 635.8,103.9 635,103.2 634.1,102.6 633.1,102.1 631.9,101.5 630.7,101.1 629.4,100.6 628.1,100.3 626.6,100 625.2,99.7 623.6,99.5 622.1,99.4 620.5,99.3 619,99.3 617.4,99.4 615.9,99.5 614.4,99.7 612.9,100 611.5,100.3 610.2,100.6 608.9,101 607.7,101.5 606.6,102 605.6,102.6 604.7,103.2 603.9,103.8 603.3,104.5 602.8,105.2 602.4,105.9 602.1,106.6 601.9,107.4 602,108.1 602.1,108.9" fill="#b9d6eb"/>
<polygon points="602.8,108.4 603.2,109.1 603.7,109.8 604.3,110.5 605.1,111.1 606,111.7 607,112.3 608.1,112.8 609.3,113.3 610.6,113.7 611.9,114.1 613.4,114.4 614.8,114.6 616.3,114.8 617.9,114.9 619.4,115 621,115 622.5,115 624,114.8 625.5,114.6 627,114.4 628.4,114.1 629.7,113.7 631,113.3 632.1,112.8 633.2,112.3 634.2,111.7 635.1,111.1 635.8,110.5 636.4,109.8 636.9,109.1 637.3,108.4 637.5,107.7 637.6,107 637.6,106.3 637.4,105.5 637.1,104.8 636.7,104.1 636.2,103.5 635.5,102.8 634.7,102.2 633.8,101.6 632.8,101 631.7,100.5 630.5,100.1 629.2,99.7 627.9,99.3 626.5,99 625,98.8 623.6,98.6 622.1,98.4 620.5,98.4 619,98.4 617.5,98.4 616,98.6 614.5,98.7 613.1,99 611.7,99.3 610.4,99.6 609.1,100.1 608,100.5 606.9,101 605.9,101.6 605,102.2 604.3,102.8 603.6,103.4 603.1,104.1 602.7,104.8 602.5,105.5 602.3,106.2 602.3,107 602.5,107.7" fill="#b4d3e9"/>
<polygon points="603.1,107.2 603.5,107.9 604,108.6 604.7,109.2 605.4,109.9 606.3,110.4 607.3,111 608.4,111.5 609.5,112 610.8,112.4 612.1,112.7 613.5,113 614.9,113.3 616.4,113.5 617.9,113.6 619.4,113.7 620.9,113.7 622.4,113.6 623.9,113.5 625.4,113.3 626.8,113.1 628.2,112.8 629.5,112.4 630.7,112 631.9,111.5 632.9,111 633.9,110.5 634.7,109.9 635.5,109.3 636.1,108.6 636.6,107.9 636.9,107.2 637.1,106.5 637.2,105.8 637.2,105.1 637.1,104.4 636.8,103.7 636.3,103 635.8,102.4 635.1,101.7 634.4,101.1 633.5,100.6 632.5,100 631.4,99.5 630.3,99.1 629,98.7 627.7,98.3 626.3,98 624.9,97.8 623.5,97.6 622,97.5 620.5,97.4 619,97.4 617.5,97.5 616.1,97.6 614.6,97.8 613.2,98 611.9,98.3 610.6,98.7 609.4,99.1 608.2,99.5 607.2,100 606.2,100.5 605.4,101.1 604.6,101.7 604,102.4 603.5,103 603.1,103.7 602.8,104.4 602.7,105.1 602.7,105.8 602.9,106.5" fill="#aed1e7"/>
<polygon points="603.5,106 603.9,106.7 604.4,107.4 605,108 605.7,108.6 606.6,109.2 607.6,109.7 608.6,110.2 609.8,110.7 611,111.1 612.3,111.4 613.6,111.7 615,112 616.5,112.1 617.9,112.3 619.4,112.3 620.9,112.3 622.4,112.3 623.9,112.2 625.3,112 626.7,111.7 628,111.4 629.3,111.1 630.5,110.7 631.6,110.2 632.6,109.7 633.6,109.2 634.4,108.6 635.1,108 635.7,107.4 636.2,106.7 636.5,106.1 636.8,105.4 636.9,104.7 636.8,104 636.7,103.3 636.4,102.6 636,101.9 635.5,101.3 634.8,100.7 634,100.1 633.2,99.5 632.2,99 631.2,98.5 630,98.1 628.8,97.7 627.5,97.3 626.2,97 624.8,96.8 623.4,96.6 622,96.5 620.5,96.4 619,96.4 617.6,96.5 616.1,96.6 614.7,96.8 613.4,97 612,97.3 610.8,97.7 609.6,98.1 608.5,98.5 607.4,99 606.5,99.5 605.7,100.1 604.9,100.7 604.3,101.3 603.8,101.9 603.5,102.6 603.2,103.3 603.1,104 603.1,104.7 603.2,105.3" fill="#a9cfe5"/>
<polygon points="603.8,104.8 604.2,105.5 604.7,106.1 605.3,106.8 606.1,107.4 606.9,107.9 607.8,108.4 608.9,108.9 610,109.4 611.2,109.8 612.4,110.1 613.8,110.4 615.1,110.6 616.5,110.8 618,110.9 619.4,111 620.9,111 622.3,110.9 623.8,110.8 625.2,110.6 626.5,110.4 627.8,110.1 629.1,109.8 630.3,109.4 631.4,108.9 632.4,108.5 633.3,107.9 634.1,107.4 634.8,106.8 635.4,106.2 635.8,105.5 636.2,104.9 636.4,104.2 636.5,103.5 636.5,102.8 636.3,102.2 636,101.5 635.6,100.8 635.1,100.2 634.5,99.6 633.7,99 632.9,98.5 632,98 630.9,97.5 629.8,97 628.6,96.7 627.4,96.3 626.1,96 624.7,95.8 623.3,95.6 621.9,95.5 620.5,95.5 619.1,95.5 617.6,95.5 616.2,95.6 614.8,95.8 613.5,96 612.2,96.3 611,96.7 609.8,97 608.7,97.5 607.7,97.9 606.8,98.5 606,99 605.3,99.6 604.7,100.2 604.2,100.8 603.8,101.5 603.6,102.1 603.4,102.8 603.4,103.5 603.6,104.2" fill="#a4cce3"/>
<polygon points="604.2,103.6 604.5,104.3 605,104.9 605.6,105.5 606.3,106.1 607.2,106.6 608.1,107.2 609.1,107.6 610.2,108.1 611.4,108.5 612.6,108.8 613.9,109.1 615.2,109.3 616.6,109.5 618,109.6 619.4,109.7 620.9,109.7 622.3,109.6 623.7,109.5 625,109.3 626.4,109.1 627.7,108.8 628.9,108.5 630,108.1 631.1,107.7 632.1,107.2 633,106.7 633.8,106.1 634.5,105.5 635,104.9 635.5,104.3 635.8,103.7 636.1,103 636.1,102.4 636.1,101.7 636,101 635.7,100.4 635.3,99.7 634.8,99.1 634.2,98.5 633.4,98 632.6,97.4 631.7,96.9 630.7,96.5 629.6,96 628.4,95.7 627.2,95.3 625.9,95.1 624.6,94.8 623.2,94.7 621.9,94.5 620.5,94.5 619.1,94.5 617.7,94.5 616.3,94.7 614.9,94.8 613.6,95 612.4,95.3 611.2,95.6 610,96 609,96.4 608,96.9 607.1,97.4 606.3,97.9 605.6,98.5 605,99.1 604.5,99.7 604.1,100.4 603.9,101 603.8,101.7 603.8,102.3 603.9,103" fill="#9dcae1"/>
<polygon points="604.5,102.5 604.9,103.1 605.3,103.7 605.9,104.3 606.6,104.9 607.4,105.4 608.3,105.9 609.3,106.4 610.4,106.8 611.5,107.2 612.7,107.5 614,107.8 615.3,108 616.7,108.2 618.1,108.3 619.4,108.3 620.8,108.3 622.2,108.3 623.6,108.2 624.9,108 626.2,107.8 627.5,107.5 628.7,107.2 629.8,106.8 630.9,106.4 631.8,105.9 632.7,105.4 633.5,104.9 634.1,104.3 634.7,103.7 635.2,103.1 635.5,102.5 635.7,101.8 635.8,101.2 635.8,100.5 635.6,99.9 635.4,99.3 635,98.6 634.5,98 633.9,97.4 633.2,96.9 632.3,96.4 631.4,95.9 630.5,95.4 629.4,95 628.3,94.6 627.1,94.3 625.8,94.1 624.5,93.8 623.2,93.7 621.8,93.6 620.5,93.5 619.1,93.5 617.7,93.6 616.4,93.7 615.1,93.8 613.8,94 612.5,94.3 611.3,94.6 610.2,95 609.2,95.4 608.2,95.9 607.3,96.4 606.6,96.9 605.9,97.4 605.3,98 604.8,98.6 604.5,99.2 604.2,99.9 604.1,100.5 604.1,101.2 604.3,101.8" fill="#97c6df"/>
<polygon points="604.8,101.3 605.2,101.9 605.7,102.5 606.2,103 606.9,103.6 607.7,104.1 608.6,104.6 609.5,105.1 610.6,105.5 611.7,105.8 612.9,106.2 614.1,106.4 615.4,106.7 616.7,106.8 618.1,106.9 619.5,107 620.8,107 622.2,106.9 623.5,106.8 624.8,106.7 626.1,106.4 627.3,106.2 628.5,105.9 629.6,105.5 630.6,105.1 631.6,104.6 632.4,104.1 633.2,103.6 633.8,103.1 634.4,102.5 634.8,101.9 635.2,101.3 635.4,100.6 635.5,100 635.4,99.4 635.3,98.8 635,98.1 634.6,97.5 634.2,96.9 633.6,96.4 632.9,95.8 632.1,95.3 631.2,94.8 630.2,94.4 629.2,94 628.1,93.6 626.9,93.3 625.7,93 624.4,92.8 623.1,92.7 621.8,92.6 620.4,92.5 619.1,92.5 617.8,92.6 616.4,92.7 615.2,92.8 613.9,93 612.7,93.3 611.5,93.6 610.4,94 609.4,94.4 608.5,94.8 607.6,95.3 606.8,95.8 606.2,96.3 605.6,96.9 605.1,97.5 604.8,98.1 604.6,98.7 604.5,99.4 604.5,100 604.6,100.6" fill="#91c3de"/>
<polygon points="605.2,100.1 605.5,100.7 606,101.2 606.5,101.8 607.2,102.3 608,102.9 608.8,103.3 609.8,103.8 610.8,104.2 611.9,104.5 613.1,104.9 614.3,105.1 615.5,105.3 616.8,105.5 618.1,105.6 619.5,105.7 620.8,105.7 622.1,105.6 623.4,105.5 624.7,105.3 626,105.1 627.2,104.9 628.3,104.6 629.4,104.2 630.4,103.8 631.3,103.4 632.2,102.9 632.9,102.4 633.5,101.8 634.1,101.3 634.5,100.7 634.8,100.1 635,99.5 635.1,98.8 635.1,98.2 634.9,97.6 634.7,97 634.3,96.4 633.9,95.8 633.3,95.3 632.6,94.7 631.8,94.2 631,93.8 630,93.3 629,92.9 627.9,92.6 626.7,92.3 625.5,92 624.3,91.8 623,91.7 621.7,91.6 620.4,91.5 619.1,91.5 617.8,91.6 616.5,91.7 615.2,91.8 614,92 612.8,92.3 611.7,92.6 610.6,92.9 609.6,93.3 608.7,93.8 607.9,94.2 607.1,94.7 606.5,95.3 605.9,95.8 605.5,96.4 605.1,97 604.9,97.6 604.8,98.2 604.8,98.8 604.9,99.4" fill="#8abfdd"/>
<polygon points="605.5,98.9 605.8,99.4 606.3,100 606.8,100.6 607.5,101.1 608.2,101.6 609.1,102.1 610,102.5 611,102.9 612.1,103.2 613.2,103.5 614.4,103.8 615.6,104 616.9,104.2 618.2,104.3 619.5,104.3 620.8,104.3 622.1,104.3 623.3,104.2 624.6,104 625.8,103.8 627,103.6 628.1,103.2 629.2,102.9 630.2,102.5 631.1,102.1 631.9,101.6 632.6,101.1 633.2,100.6 633.8,100 634.2,99.5 634.5,98.9 634.7,98.3 634.8,97.7 634.8,97.1 634.6,96.5 634.4,95.9 634,95.3 633.5,94.7 633,94.2 632.3,93.7 631.6,93.2 630.7,92.7 629.8,92.3 628.8,91.9 627.7,91.6 626.6,91.3 625.4,91 624.2,90.8 623,90.7 621.7,90.6 620.4,90.5 619.1,90.5 617.8,90.6 616.6,90.7 615.3,90.8 614.1,91 613,91.3 611.9,91.6 610.8,91.9 609.8,92.3 608.9,92.7 608.1,93.2 607.4,93.7 606.7,94.2 606.2,94.7 605.8,95.3 605.4,95.9 605.2,96.5 605.1,97.1 605.1,97.7 605.2,98.3" fill="#82bbdb"/>
<polygon points="605.8,97.7 606.1,98.2 606.6,98.8 607.1,99.3 607.7,99.8 608.5,100.3 609.3,100.8 610.2,101.2 611.2,101.6 612.2,101.9 613.3,102.2 614.5,102.5 615.7,102.7 616.9,102.8 618.2,103 619.5,103 620.7,103 622,103 623.3,102.9 624.5,102.7 625.7,102.5 626.8,102.2 627.9,101.9 629,101.6 629.9,101.2 630.8,100.8 631.6,100.3 632.3,99.9 632.9,99.3 633.5,98.8 633.9,98.2 634.2,97.7 634.4,97.1 634.5,96.5 634.4,95.9 634.3,95.3 634.1,94.7 633.7,94.2 633.2,93.6 632.7,93.1 632,92.6 631.3,92.1 630.5,91.7 629.6,91.2 628.6,90.9 627.5,90.5 626.4,90.2 625.3,90 624.1,89.8 622.9,89.6 621.6,89.5 620.4,89.5 619.1,89.5 617.9,89.5 616.7,89.6 615.4,89.8 614.3,90 613.1,90.2 612,90.5 611,90.9 610.1,91.2 609.2,91.6 608.4,92.1 607.7,92.6 607,93.1 606.5,93.6 606.1,94.2 605.8,94.7 605.5,95.3 605.4,95.9 605.4,96.5 605.6,97.1" fill="#7cb7da"/>
<polygon points="606.1,96.5 606.4,97 606.8,97.6 607.4,98.1 608,98.6 608.7,99.1 609.5,99.5 610.4,99.9 611.4,100.3 612.4,100.6 613.5,100.9 614.6,101.2 615.8,101.4 617,101.5 618.2,101.6 619.5,101.7 620.7,101.7 622,101.6 623.2,101.5 624.4,101.4 625.6,101.2 626.7,100.9 627.8,100.6 628.8,100.3 629.7,99.9 630.6,99.5 631.4,99.1 632,98.6 632.6,98.1 633.2,97.6 633.6,97 633.9,96.5 634,95.9 634.1,95.3 634.1,94.7 634,94.2 633.7,93.6 633.4,93.1 632.9,92.5 632.4,92 631.8,91.5 631,91 630.2,90.6 629.3,90.2 628.4,89.8 627.4,89.5 626.3,89.2 625.2,89 624,88.8 622.8,88.6 621.6,88.5 620.4,88.5 619.2,88.5 617.9,88.5 616.7,88.6 615.5,88.8 614.4,89 613.3,89.2 612.2,89.5 611.2,89.8 610.3,90.2 609.4,90.6 608.6,91 607.9,91.5 607.3,92 606.8,92.5 606.4,93 606.1,93.6 605.9,94.2 605.8,94.7 605.8,95.3 605.9,95.9" fill="#75b4d8"/>
<polygon points="606.4,95.2 606.7,95.8 607.1,96.3 607.7,96.8 608.3,97.3 609,97.8 609.8,98.2 610.6,98.6 611.6,99 612.6,99.3 613.6,99.6 614.7,99.9 615.9,100 617.1,100.2 618.3,100.3 619.5,100.3 620.7,100.3 621.9,100.3 623.1,100.2 624.3,100.1 625.4,99.9 626.5,99.6 627.6,99.3 628.6,99 629.5,98.6 630.3,98.2 631.1,97.8 631.8,97.3 632.4,96.8 632.9,96.3 633.2,95.8 633.5,95.3 633.7,94.7 633.8,94.1 633.8,93.6 633.7,93 633.4,92.5 633.1,91.9 632.7,91.4 632.1,90.9 631.5,90.4 630.8,89.9 630,89.5 629.1,89.1 628.2,88.8 627.2,88.5 626.2,88.2 625.1,87.9 623.9,87.7 622.8,87.6 621.6,87.5 620.4,87.5 619.2,87.5 618,87.5 616.8,87.6 615.6,87.7 614.5,87.9 613.4,88.2 612.4,88.4 611.4,88.8 610.5,89.1 609.6,89.5 608.9,89.9 608.2,90.4 607.6,90.9 607.1,91.4 606.7,91.9 606.4,92.5 606.2,93 606.1,93.6 606.1,94.1 606.2,94.7" fill="#6fb0d7"/>
<polygon points="606.7,94 607,94.6 607.4,95.1 607.9,95.6 608.5,96.1 609.2,96.5 610,96.9 610.8,97.3 611.7,97.7 612.7,98 613.8,98.3 614.8,98.5 616,98.7 617.1,98.9 618.3,99 619.5,99 620.7,99 621.9,99 623,98.9 624.2,98.7 625.3,98.5 626.4,98.3 627.4,98 628.4,97.7 629.3,97.3 630.1,97 630.8,96.5 631.5,96.1 632.1,95.6 632.6,95.1 632.9,94.6 633.2,94 633.4,93.5 633.5,93 633.5,92.4 633.3,91.9 633.1,91.3 632.8,90.8 632.4,90.3 631.8,89.8 631.2,89.3 630.5,88.9 629.8,88.4 628.9,88.1 628,87.7 627,87.4 626,87.1 624.9,86.9 623.8,86.7 622.7,86.6 621.5,86.5 620.4,86.4 619.2,86.4 618,86.5 616.9,86.6 615.7,86.7 614.6,86.9 613.6,87.1 612.5,87.4 611.6,87.7 610.7,88.1 609.9,88.4 609.1,88.9 608.4,89.3 607.9,89.8 607.4,90.3 607,90.8 606.7,91.3 606.5,91.9 606.4,92.4 606.4,92.9 606.5,93.5" fill="#68acd5"/>
<polygon points="607,92.8 607.3,93.3 607.7,93.9 608.2,94.3 608.8,94.8 609.5,95.2 610.2,95.7 611,96 611.9,96.4 612.9,96.7 613.9,97 615,97.2 616.1,97.4 617.2,97.5 618.3,97.6 619.5,97.7 620.7,97.7 621.8,97.6 623,97.5 624.1,97.4 625.2,97.2 626.2,97 627.2,96.7 628.2,96.4 629,96.1 629.8,95.7 630.6,95.3 631.2,94.8 631.8,94.4 632.3,93.9 632.6,93.4 632.9,92.8 633.1,92.3 633.2,91.8 633.1,91.2 633,90.7 632.8,90.2 632.5,89.7 632.1,89.2 631.6,88.7 631,88.2 630.3,87.8 629.5,87.4 628.7,87 627.8,86.7 626.9,86.4 625.9,86.1 624.8,85.9 623.7,85.7 622.6,85.5 621.5,85.5 620.3,85.4 619.2,85.4 618,85.5 616.9,85.5 615.8,85.7 614.7,85.9 613.7,86.1 612.7,86.3 611.8,86.7 610.9,87 610.1,87.4 609.4,87.8 608.7,88.2 608.1,88.7 607.7,89.2 607.3,89.7 607,90.2 606.8,90.7 606.7,91.2 606.7,91.8 606.8,92.3" fill="#63a8d3"/>
<polygon points="607.3,91.6 607.6,92.1 608,92.6 608.5,93.1 609,93.5 609.7,94 610.4,94.4 611.2,94.8 612.1,95.1 613.1,95.4 614,95.7 615.1,95.9 616.1,96.1 617.2,96.2 618.4,96.3 619.5,96.3 620.6,96.3 621.8,96.3 622.9,96.2 624,96.1 625,95.9 626.1,95.7 627,95.4 628,95.1 628.8,94.8 629.6,94.4 630.3,94 631,93.6 631.5,93.1 632,92.6 632.3,92.1 632.6,91.6 632.8,91.1 632.9,90.6 632.8,90.1 632.7,89.5 632.5,89 632.2,88.5 631.8,88 631.3,87.6 630.7,87.1 630,86.7 629.3,86.3 628.5,85.9 627.6,85.6 626.7,85.3 625.7,85 624.7,84.8 623.6,84.6 622.6,84.5 621.4,84.4 620.3,84.4 619.2,84.4 618.1,84.4 617,84.5 615.9,84.6 614.9,84.8 613.8,85 612.9,85.3 612,85.6 611.1,85.9 610.3,86.3 609.6,86.7 609,87.1 608.4,87.6 607.9,88 607.6,88.5 607.3,89 607.1,89.5 607,90.1 607,90.6 607.1,91.1" fill="#5da5d1"/>
<polygon points="607.6,90.4 607.9,90.9 608.3,91.4 608.7,91.8 609.3,92.3 609.9,92.7 610.7,93.1 611.4,93.5 612.3,93.8 613.2,94.1 614.2,94.3 615.2,94.6 616.2,94.7 617.3,94.9 618.4,95 619.5,95 620.6,95 621.7,95 622.8,94.9 623.9,94.7 624.9,94.6 625.9,94.3 626.9,94.1 627.8,93.8 628.6,93.5 629.4,93.1 630.1,92.7 630.7,92.3 631.2,91.8 631.7,91.4 632,90.9 632.3,90.4 632.5,89.9 632.5,89.4 632.5,88.9 632.4,88.4 632.2,87.9 631.9,87.4 631.5,86.9 631,86.5 630.4,86 629.8,85.6 629.1,85.2 628.3,84.9 627.4,84.5 626.5,84.2 625.6,84 624.6,83.8 623.5,83.6 622.5,83.5 621.4,83.4 620.3,83.3 619.2,83.3 618.1,83.4 617.1,83.5 616,83.6 615,83.8 614,84 613,84.2 612.1,84.5 611.3,84.8 610.5,85.2 609.8,85.6 609.2,86 608.7,86.4 608.2,86.9 607.8,87.4 607.6,87.9 607.4,88.4 607.3,88.9 607.3,89.4 607.4,89.9" fill="#58a1cf"/>
<polygon points="607.9,89.2 608.2,89.7 608.6,90.1 609,90.6 609.6,91 610.2,91.4 610.9,91.8 611.7,92.2 612.5,92.5 613.4,92.8 614.3,93 615.3,93.2 616.3,93.4 617.4,93.5 618.4,93.6 619.5,93.7 620.6,93.7 621.7,93.6 622.7,93.5 623.8,93.4 624.8,93.2 625.8,93 626.7,92.8 627.6,92.5 628.4,92.2 629.1,91.8 629.8,91.4 630.4,91 630.9,90.6 631.4,90.1 631.7,89.7 632,89.2 632.2,88.7 632.2,88.2 632.2,87.7 632.1,87.2 631.9,86.7 631.6,86.2 631.2,85.8 630.7,85.3 630.2,84.9 629.6,84.5 628.9,84.1 628.1,83.8 627.3,83.5 626.4,83.2 625.4,82.9 624.5,82.7 623.5,82.6 622.4,82.4 621.4,82.3 620.3,82.3 619.2,82.3 618.2,82.3 617.1,82.4 616.1,82.6 615.1,82.7 614.1,82.9 613.2,83.2 612.3,83.5 611.5,83.8 610.8,84.1 610.1,84.5 609.5,84.9 608.9,85.3 608.5,85.8 608.1,86.2 607.9,86.7 607.7,87.2 607.6,87.7 607.6,88.2 607.7,88.7" fill="#529dcc"/>
<polygon points="608.2,88 608.5,88.4 608.8,88.9 609.3,89.3 609.8,89.7 610.4,90.1 611.1,90.5 611.9,90.9 612.7,91.2 613.5,91.5 614.5,91.7 615.4,91.9 616.4,92.1 617.4,92.2 618.5,92.3 619.5,92.3 620.6,92.3 621.6,92.3 622.7,92.2 623.7,92.1 624.7,91.9 625.6,91.7 626.5,91.5 627.4,91.2 628.2,90.9 628.9,90.5 629.6,90.2 630.1,89.8 630.7,89.3 631.1,88.9 631.4,88.4 631.7,88 631.8,87.5 631.9,87 631.9,86.5 631.8,86 631.6,85.6 631.3,85.1 630.9,84.7 630.5,84.2 629.9,83.8 629.3,83.4 628.6,83 627.9,82.7 627.1,82.4 626.2,82.1 625.3,81.9 624.3,81.7 623.4,81.5 622.4,81.4 621.3,81.3 620.3,81.3 619.2,81.3 618.2,81.3 617.2,81.4 616.2,81.5 615.2,81.7 614.3,81.9 613.4,82.1 612.5,82.4 611.7,82.7 611,83 610.3,83.4 609.7,83.8 609.2,84.2 608.8,84.6 608.4,85.1 608.2,85.6 608,86 607.9,86.5 607.9,87 608,87.5" fill="#4d99ca"/>
<polygon points="608.5,86.7 608.8,87.2 609.1,87.6 609.6,88.1 610.1,88.5 610.7,88.9 611.3,89.2 612.1,89.6 612.9,89.9 613.7,90.1 614.6,90.4 615.5,90.6 616.5,90.7 617.5,90.9 618.5,90.9 619.5,91 620.6,91 621.6,90.9 622.6,90.9 623.6,90.7 624.5,90.6 625.5,90.4 626.3,90.1 627.2,89.9 627.9,89.6 628.7,89.2 629.3,88.9 629.9,88.5 630.4,88.1 630.8,87.6 631.1,87.2 631.4,86.7 631.5,86.3 631.6,85.8 631.6,85.3 631.5,84.9 631.3,84.4 631,84 630.6,83.5 630.2,83.1 629.7,82.7 629.1,82.3 628.4,82 627.7,81.6 626.9,81.3 626,81.1 625.2,80.8 624.2,80.6 623.3,80.5 622.3,80.3 621.3,80.3 620.3,80.2 619.3,80.2 618.2,80.3 617.2,80.3 616.3,80.5 615.3,80.6 614.4,80.8 613.5,81 612.7,81.3 611.9,81.6 611.2,81.9 610.6,82.3 610,82.7 609.5,83.1 609.1,83.5 608.7,84 608.5,84.4 608.3,84.9 608.2,85.3 608.2,85.8 608.3,86.3" fill="#4896c8"/>
<polygon points="608.8,85.5 609.1,86 609.4,86.4 609.8,86.8 610.3,87.2 610.9,87.6 611.6,87.9 612.3,88.3 613,88.6 613.9,88.8 614.7,89 615.6,89.2 616.6,89.4 617.5,89.5 618.5,89.6 619.5,89.6 620.5,89.6 621.5,89.6 622.5,89.5 623.5,89.4 624.4,89.2 625.3,89.1 626.2,88.8 627,88.6 627.7,88.3 628.4,87.9 629,87.6 629.6,87.2 630.1,86.8 630.5,86.4 630.8,86 631.1,85.5 631.2,85.1 631.3,84.6 631.3,84.2 631.2,83.7 631,83.3 630.7,82.8 630.3,82.4 629.9,82 629.4,81.6 628.8,81.2 628.2,80.9 627.5,80.5 626.7,80.2 625.9,80 625,79.8 624.1,79.6 623.2,79.4 622.2,79.3 621.2,79.2 620.3,79.2 619.3,79.2 618.3,79.2 617.3,79.3 616.4,79.4 615.4,79.6 614.5,79.8 613.7,80 612.9,80.2 612.1,80.5 611.4,80.9 610.8,81.2 610.2,81.6 609.8,82 609.3,82.4 609,82.8 608.8,83.2 608.6,83.7 608.5,84.1 608.5,84.6 608.6,85.1" fill="#4191c6"/>
<polygon points="609.1,84.3 609.3,84.7 609.7,85.1 610.1,85.5 610.6,85.9 611.2,86.3 611.8,86.6 612.5,86.9 613.2,87.2 614,87.5 614.9,87.7 615.7,87.9 616.7,88.1 617.6,88.2 618.6,88.3 619.5,88.3 620.5,88.3 621.5,88.3 622.4,88.2 623.4,88.1 624.3,87.9 625.2,87.7 626,87.5 626.8,87.2 627.5,87 628.2,86.6 628.8,86.3 629.3,85.9 629.8,85.5 630.2,85.1 630.5,84.7 630.8,84.3 630.9,83.9 631,83.4 631,83 630.9,82.5 630.7,82.1 630.4,81.7 630.1,81.2 629.6,80.8 629.1,80.5 628.6,80.1 627.9,79.8 627.2,79.5 626.5,79.2 625.7,78.9 624.9,78.7 624,78.5 623.1,78.4 622.1,78.2 621.2,78.2 620.2,78.1 619.3,78.1 618.3,78.2 617.4,78.2 616.5,78.4 615.6,78.5 614.7,78.7 613.9,78.9 613.1,79.2 612.3,79.4 611.7,79.8 611.1,80.1 610.5,80.5 610,80.8 609.6,81.2 609.3,81.7 609.1,82.1 608.9,82.5 608.8,83 608.8,83.4 608.9,83.8" fill="#3d8dc4"/>
<polygon points="609.4,83 609.6,83.5 610,83.9 610.4,84.3 610.8,84.6 611.4,85 612,85.3 612.7,85.6 613.4,85.9 614.2,86.2 615,86.4 615.9,86.6 616.8,86.7 617.7,86.8 618.6,86.9 619.5,86.9 620.5,86.9 621.4,86.9 622.4,86.8 623.3,86.7 624.1,86.6 625,86.4 625.8,86.2 626.6,85.9 627.3,85.6 627.9,85.3 628.5,85 629.1,84.6 629.5,84.3 629.9,83.9 630.2,83.5 630.4,83.1 630.6,82.6 630.7,82.2 630.6,81.8 630.5,81.3 630.4,80.9 630.1,80.5 629.8,80.1 629.4,79.7 628.9,79.3 628.3,79 627.7,78.7 627,78.4 626.3,78.1 625.5,77.8 624.7,77.6 623.9,77.4 623,77.3 622.1,77.2 621.2,77.1 620.2,77.1 619.3,77.1 618.4,77.1 617.4,77.2 616.5,77.3 615.7,77.4 614.8,77.6 614,77.8 613.3,78.1 612.6,78.4 611.9,78.7 611.3,79 610.8,79.3 610.3,79.7 609.9,80.1 609.6,80.5 609.4,80.9 609.2,81.3 609.1,81.8 609.1,82.2 609.2,82.6" fill="#3989c1"/>
<polygon points="609.7,81.8 609.9,82.2 610.3,82.6 610.6,83 611.1,83.4 611.6,83.7 612.2,84 612.9,84.3 613.6,84.6 614.3,84.8 615.1,85 616,85.2 616.8,85.4 617.7,85.5 618.6,85.6 619.5,85.6 620.5,85.6 621.4,85.6 622.3,85.5 623.2,85.4 624,85.2 624.8,85 625.6,84.8 626.4,84.6 627.1,84.3 627.7,84 628.3,83.7 628.8,83.4 629.2,83 629.6,82.6 629.9,82.2 630.1,81.8 630.3,81.4 630.3,81 630.3,80.6 630.2,80.2 630,79.8 629.8,79.3 629.5,79 629.1,78.6 628.6,78.2 628.1,77.9 627.5,77.6 626.8,77.3 626.1,77 625.4,76.8 624.6,76.6 623.7,76.4 622.9,76.2 622,76.1 621.1,76.1 620.2,76 619.3,76 618.4,76.1 617.5,76.1 616.6,76.2 615.8,76.4 615,76.6 614.2,76.8 613.5,77 612.8,77.3 612.1,77.6 611.5,77.9 611,78.2 610.6,78.6 610.2,79 609.9,79.3 609.7,79.7 609.5,80.2 609.4,80.6 609.4,81 609.5,81.4" fill="#3585bf"/>
<polygon points="610,80.6 610.2,81 610.5,81.4 610.9,81.7 611.4,82.1 611.9,82.4 612.5,82.7 613.1,83 613.8,83.3 614.5,83.5 615.3,83.7 616.1,83.9 616.9,84 617.8,84.1 618.7,84.2 619.6,84.2 620.4,84.2 621.3,84.2 622.2,84.1 623.1,84 623.9,83.9 624.7,83.7 625.4,83.5 626.2,83.3 626.8,83 627.5,82.7 628,82.4 628.5,82.1 628.9,81.7 629.3,81.4 629.6,81 629.8,80.6 629.9,80.2 630,79.8 630,79.4 629.9,79 629.7,78.6 629.5,78.2 629.2,77.8 628.8,77.4 628.3,77.1 627.8,76.8 627.2,76.5 626.6,76.2 625.9,75.9 625.2,75.7 624.4,75.5 623.6,75.3 622.8,75.2 621.9,75.1 621.1,75 620.2,75 619.3,75 618.4,75 617.6,75.1 616.7,75.2 615.9,75.3 615.1,75.5 614.4,75.7 613.6,75.9 613,76.2 612.4,76.5 611.8,76.8 611.3,77.1 610.9,77.4 610.5,77.8 610.2,78.2 610,78.6 609.8,79 609.8,79.4 609.8,79.8 609.8,80.2" fill="#3080bd"/>
<polygon points="610.3,79.3 610.5,79.7 610.8,80.1 611.2,80.4 611.6,80.8 612.1,81.1 612.7,81.4 613.3,81.7 614,81.9 614.7,82.2 615.4,82.4 616.2,82.5 617,82.7 617.9,82.8 618.7,82.8 619.6,82.9 620.4,82.9 621.3,82.8 622.1,82.8 623,82.7 623.8,82.5 624.5,82.4 625.3,82.2 626,81.9 626.6,81.7 627.2,81.4 627.8,81.1 628.2,80.8 628.7,80.4 629,80.1 629.3,79.7 629.5,79.3 629.6,79 629.7,78.6 629.7,78.2 629.6,77.8 629.4,77.4 629.2,77 628.9,76.7 628.5,76.3 628.1,76 627.6,75.7 627,75.4 626.4,75.1 625.7,74.8 625,74.6 624.3,74.4 623.5,74.3 622.7,74.1 621.9,74 621,74 620.2,73.9 619.3,73.9 618.5,74 617.7,74 616.8,74.1 616,74.3 615.3,74.4 614.5,74.6 613.8,74.8 613.2,75.1 612.6,75.4 612,75.7 611.6,76 611.1,76.3 610.8,76.7 610.5,77 610.3,77.4 610.1,77.8 610.1,78.2 610.1,78.6 610.2,79" fill="#2c7cba"/>
<polygon points="610.6,78.1 610.8,78.5 611.1,78.8 611.5,79.2 611.9,79.5 612.4,79.8 612.9,80.1 613.5,80.4 614.2,80.6 614.8,80.8 615.6,81 616.3,81.2 617.1,81.3 617.9,81.4 618.7,81.5 619.6,81.5 620.4,81.5 621.2,81.5 622,81.4 622.8,81.3 623.6,81.2 624.4,81 625.1,80.8 625.8,80.6 626.4,80.4 627,80.1 627.5,79.8 628,79.5 628.4,79.2 628.7,78.8 629,78.5 629.2,78.1 629.3,77.7 629.4,77.4 629.3,77 629.3,76.6 629.1,76.2 628.9,75.9 628.6,75.5 628.2,75.2 627.8,74.8 627.3,74.5 626.8,74.3 626.2,74 625.5,73.7 624.9,73.5 624.1,73.3 623.4,73.2 622.6,73.1 621.8,73 621,72.9 620.2,72.9 619.3,72.9 618.5,72.9 617.7,73 616.9,73.1 616.2,73.2 615.4,73.3 614.7,73.5 614,73.7 613.4,74 612.8,74.2 612.3,74.5 611.8,74.8 611.4,75.2 611.1,75.5 610.8,75.9 610.6,76.2 610.5,76.6 610.4,77 610.4,77.3 610.5,77.7" fill="#2777b8"/>
<polygon points="610.9,76.9 611.2,77.2 611.4,77.5 611.8,77.9 612.2,78.2 612.6,78.5 613.2,78.8 613.7,79 614.4,79.3 615,79.5 615.7,79.7 616.4,79.8 617.2,79.9 618,80 618.8,80.1 619.6,80.1 620.4,80.1 621.2,80.1 622,80 622.7,79.9 623.5,79.8 624.2,79.7 624.9,79.5 625.5,79.3 626.2,79 626.7,78.8 627.2,78.5 627.7,78.2 628.1,77.9 628.4,77.6 628.6,77.2 628.8,76.9 629,76.5 629,76.1 629,75.8 628.9,75.4 628.8,75.1 628.6,74.7 628.3,74.4 627.9,74 627.5,73.7 627,73.4 626.5,73.1 625.9,72.9 625.3,72.7 624.7,72.5 624,72.3 623.3,72.1 622.5,72 621.7,71.9 620.9,71.8 620.2,71.8 619.4,71.8 618.6,71.8 617.8,71.9 617,72 616.3,72.1 615.6,72.3 614.9,72.4 614.2,72.7 613.6,72.9 613.1,73.1 612.6,73.4 612.1,73.7 611.7,74 611.4,74.4 611.1,74.7 610.9,75 610.8,75.4 610.7,75.8 610.7,76.1 610.8,76.5" fill="#2373b6"/>
<polygon points="611.3,75.6 611.5,75.9 611.7,76.3 612.1,76.6 612.5,76.9 612.9,77.2 613.4,77.5 614,77.7 614.6,77.9 615.2,78.1 615.9,78.3 616.6,78.5 617.3,78.6 618,78.7 618.8,78.7 619.6,78.8 620.4,78.8 621.1,78.7 621.9,78.7 622.6,78.6 623.3,78.5 624,78.3 624.7,78.1 625.3,77.9 625.9,77.7 626.5,77.5 626.9,77.2 627.4,76.9 627.7,76.6 628.1,76.3 628.3,75.9 628.5,75.6 628.6,75.3 628.7,74.9 628.7,74.6 628.6,74.2 628.4,73.9 628.2,73.5 628,73.2 627.6,72.9 627.2,72.6 626.8,72.3 626.3,72 625.7,71.8 625.1,71.6 624.5,71.4 623.8,71.2 623.1,71 622.4,70.9 621.7,70.8 620.9,70.8 620.1,70.8 619.4,70.7 618.6,70.8 617.9,70.8 617.1,70.9 616.4,71 615.7,71.2 615.1,71.4 614.4,71.6 613.9,71.8 613.3,72 612.8,72.3 612.4,72.6 612,72.9 611.7,73.2 611.4,73.5 611.2,73.9 611.1,74.2 611.1,74.6 611.1,74.9 611.1,75.3" fill="#1f6eb3"/>
<polygon points="611.6,74.3 611.8,74.7 612.1,75 612.4,75.3 612.8,75.6 613.2,75.9 613.7,76.1 614.2,76.4 614.8,76.6 615.4,76.8 616,76.9 616.7,77.1 617.4,77.2 618.1,77.3 618.8,77.3 619.6,77.4 620.3,77.4 621.1,77.3 621.8,77.3 622.5,77.2 623.2,77.1 623.9,76.9 624.5,76.8 625.1,76.6 625.7,76.4 626.2,76.1 626.7,75.9 627.1,75.6 627.4,75.3 627.7,75 628,74.7 628.2,74.4 628.3,74 628.3,73.7 628.3,73.4 628.2,73 628.1,72.7 627.9,72.4 627.6,72.1 627.3,71.7 626.9,71.5 626.5,71.2 626,70.9 625.5,70.7 624.9,70.5 624.3,70.3 623.7,70.1 623,70 622.3,69.9 621.6,69.8 620.9,69.7 620.1,69.7 619.4,69.7 618.7,69.7 617.9,69.8 617.2,69.9 616.5,70 615.9,70.1 615.2,70.3 614.6,70.5 614.1,70.7 613.6,70.9 613.1,71.2 612.7,71.5 612.3,71.7 612,72 611.8,72.4 611.6,72.7 611.5,73 611.4,73.3 611.4,73.7 611.5,74" fill="#1c6ab0"/>
<polygon points="611.9,73.1 612.1,73.4 612.4,73.7 612.7,74 613,74.3 613.5,74.5 613.9,74.8 614.4,75 615,75.2 615.6,75.4 616.2,75.6 616.8,75.7 617.5,75.8 618.2,75.9 618.9,76 619.6,76 620.3,76 621,76 621.7,75.9 622.4,75.8 623.1,75.7 623.7,75.6 624.3,75.4 624.9,75.2 625.4,75 625.9,74.8 626.4,74.5 626.8,74.3 627.1,74 627.4,73.7 627.6,73.4 627.8,73.1 627.9,72.8 628,72.5 628,72.1 627.9,71.8 627.8,71.5 627.6,71.2 627.3,70.9 627,70.6 626.6,70.3 626.2,70.1 625.8,69.8 625.3,69.6 624.7,69.4 624.1,69.2 623.5,69 622.9,68.9 622.2,68.8 621.5,68.7 620.8,68.7 620.1,68.6 619.4,68.6 618.7,68.7 618,68.7 617.3,68.8 616.7,68.9 616,69 615.4,69.2 614.9,69.4 614.3,69.6 613.8,69.8 613.4,70.1 613,70.3 612.6,70.6 612.3,70.9 612.1,71.2 611.9,71.5 611.8,71.8 611.7,72.1 611.7,72.5 611.8,72.8" fill="#1966ad"/>
<polygon points="612.3,71.8 612.5,72.1 612.7,72.4 613,72.7 613.3,73 613.7,73.2 614.2,73.5 614.7,73.7 615.2,73.9 615.7,74 616.3,74.2 617,74.3 617.6,74.4 618.3,74.5 618.9,74.6 619.6,74.6 620.3,74.6 621,74.6 621.6,74.5 622.3,74.4 622.9,74.3 623.5,74.2 624.1,74 624.7,73.9 625.2,73.7 625.6,73.5 626.1,73.2 626.5,73 626.8,72.7 627.1,72.4 627.3,72.1 627.5,71.8 627.6,71.5 627.6,71.2 627.6,70.9 627.5,70.6 627.4,70.3 627.2,70 627,69.7 626.7,69.5 626.3,69.2 625.9,68.9 625.5,68.7 625,68.5 624.5,68.3 623.9,68.1 623.3,68 622.7,67.8 622.1,67.7 621.4,67.7 620.8,67.6 620.1,67.6 619.4,67.6 618.8,67.6 618.1,67.7 617.4,67.7 616.8,67.8 616.2,68 615.6,68.1 615.1,68.3 614.6,68.5 614.1,68.7 613.7,68.9 613.3,69.2 612.9,69.5 612.7,69.7 612.4,70 612.3,70.3 612.2,70.6 612.1,70.9 612.1,71.2 612.2,71.5" fill="#1562a9"/>
<polygon points="612.6,70.6 612.8,70.9 613,71.1 613.3,71.4 613.7,71.6 614,71.9 614.4,72.1 614.9,72.3 615.4,72.5 615.9,72.7 616.5,72.8 617.1,72.9 617.7,73 618.3,73.1 619,73.2 619.6,73.2 620.3,73.2 620.9,73.2 621.5,73.1 622.2,73 622.8,72.9 623.3,72.8 623.9,72.7 624.4,72.5 624.9,72.3 625.4,72.1 625.8,71.9 626.1,71.6 626.4,71.4 626.7,71.1 626.9,70.9 627.1,70.6 627.2,70.3 627.2,70 627.2,69.7 627.2,69.4 627,69.1 626.9,68.8 626.6,68.6 626.3,68.3 626,68.1 625.6,67.8 625.2,67.6 624.8,67.4 624.3,67.2 623.7,67 623.2,66.9 622.6,66.8 622,66.7 621.4,66.6 620.7,66.6 620.1,66.5 619.4,66.5 618.8,66.6 618.2,66.6 617.6,66.7 617,66.8 616.4,66.9 615.8,67 615.3,67.2 614.8,67.4 614.4,67.6 613.9,67.8 613.6,68.1 613.3,68.3 613,68.6 612.8,68.8 612.6,69.1 612.5,69.4 612.5,69.7 612.5,70 612.5,70.3" fill="#125da6"/>
<polygon points="613,69.3 613.2,69.6 613.4,69.8 613.7,70.1 614,70.3 614.3,70.5 614.7,70.8 615.2,71 615.6,71.1 616.1,71.3 616.7,71.4 617.2,71.6 617.8,71.6 618.4,71.7 619,71.8 619.6,71.8 620.2,71.8 620.8,71.8 621.4,71.7 622,71.6 622.6,71.6 623.2,71.4 623.7,71.3 624.2,71.1 624.6,71 625.1,70.8 625.5,70.6 625.8,70.3 626.1,70.1 626.3,69.8 626.5,69.6 626.7,69.3 626.8,69 626.8,68.8 626.8,68.5 626.8,68.2 626.7,67.9 626.5,67.7 626.3,67.4 626,67.2 625.7,66.9 625.3,66.7 624.9,66.5 624.5,66.3 624,66.1 623.5,66 623,65.8 622.4,65.7 621.9,65.6 621.3,65.5 620.7,65.5 620.1,65.5 619.5,65.5 618.9,65.5 618.3,65.5 617.7,65.6 617.1,65.7 616.5,65.8 616,66 615.5,66.1 615.1,66.3 614.6,66.5 614.3,66.7 613.9,66.9 613.6,67.2 613.4,67.4 613.2,67.7 613,67.9 612.9,68.2 612.8,68.5 612.9,68.8 612.9,69" fill="#0e59a2"/>
<polygon points="613.4,68 613.6,68.3 613.8,68.5 614,68.8 614.3,69 614.6,69.2 615,69.4 615.4,69.6 615.9,69.8 616.3,69.9 616.9,70 617.4,70.1 617.9,70.2 618.5,70.3 619,70.3 619.6,70.4 620.2,70.4 620.8,70.3 621.3,70.3 621.9,70.2 622.4,70.1 623,70 623.5,69.9 623.9,69.8 624.4,69.6 624.8,69.4 625.1,69.2 625.5,69 625.7,68.8 626,68.5 626.2,68.3 626.3,68 626.4,67.8 626.4,67.5 626.4,67.3 626.4,67 626.3,66.7 626.1,66.5 625.9,66.3 625.6,66 625.3,65.8 625,65.6 624.6,65.4 624.2,65.2 623.8,65 623.3,64.9 622.8,64.8 622.3,64.7 621.7,64.6 621.2,64.5 620.6,64.5 620,64.4 619.5,64.4 618.9,64.5 618.3,64.5 617.8,64.6 617.3,64.7 616.7,64.8 616.2,64.9 615.8,65 615.3,65.2 614.9,65.4 614.6,65.6 614.2,65.8 614,66 613.7,66.3 613.5,66.5 613.4,66.7 613.3,67 613.2,67.3 613.3,67.5 613.3,67.8" fill="#0b559f"/>
<polygon points="613.8,66.8 614,67 614.2,67.2 614.4,67.4 614.7,67.7 615,67.9 615.3,68 615.7,68.2 616.1,68.4 616.6,68.5 617,68.6 617.5,68.7 618,68.8 618.6,68.9 619.1,68.9 619.6,68.9 620.2,68.9 620.7,68.9 621.2,68.9 621.8,68.8 622.3,68.7 622.8,68.6 623.2,68.5 623.7,68.4 624.1,68.2 624.4,68 624.8,67.9 625.1,67.7 625.3,67.4 625.6,67.2 625.7,67 625.9,66.8 626,66.5 626,66.3 626,66 625.9,65.8 625.8,65.6 625.7,65.3 625.5,65.1 625.3,64.9 625,64.7 624.7,64.5 624.3,64.3 623.9,64.1 623.5,64 623.1,63.8 622.6,63.7 622.1,63.6 621.6,63.5 621.1,63.5 620.6,63.4 620,63.4 619.5,63.4 619,63.4 618.4,63.5 617.9,63.5 617.4,63.6 616.9,63.7 616.5,63.8 616,64 615.6,64.1 615.2,64.3 614.9,64.5 614.6,64.7 614.3,64.9 614.1,65.1 613.9,65.3 613.8,65.6 613.7,65.8 613.7,66 613.7,66.3 613.7,66.5" fill="#08509b"/>
<polygon points="614.2,65.5 614.4,65.7 614.6,65.9 614.8,66.1 615,66.3 615.3,66.5 615.6,66.7 616,66.8 616.4,67 616.8,67.1 617.2,67.2 617.7,67.3 618.2,67.4 618.7,67.4 619.1,67.5 619.6,67.5 620.1,67.5 620.6,67.5 621.1,67.4 621.6,67.4 622.1,67.3 622.5,67.2 623,67.1 623.4,67 623.8,66.8 624.1,66.7 624.4,66.5 624.7,66.3 624.9,66.1 625.2,65.9 625.3,65.7 625.4,65.5 625.5,65.3 625.6,65 625.5,64.8 625.5,64.6 625.4,64.4 625.3,64.1 625.1,63.9 624.9,63.7 624.6,63.5 624.3,63.4 624,63.2 623.6,63 623.3,62.9 622.8,62.8 622.4,62.6 622,62.6 621.5,62.5 621,62.4 620.5,62.4 620,62.4 619.5,62.4 619,62.4 618.5,62.4 618,62.5 617.6,62.6 617.1,62.6 616.7,62.8 616.3,62.9 615.9,63 615.6,63.2 615.3,63.4 615,63.5 614.7,63.7 614.5,63.9 614.4,64.1 614.2,64.4 614.1,64.6 614.1,64.8 614.1,65 614.2,65.3" fill="#084c95"/>
<polygon points="614.7,64.2 614.8,64.4 615,64.6 615.2,64.8 615.4,65 615.7,65.1 616,65.3 616.3,65.4 616.7,65.6 617,65.7 617.4,65.8 617.9,65.9 618.3,65.9 618.7,66 619.2,66 619.7,66 620.1,66 620.6,66 621,66 621.5,65.9 621.9,65.9 622.3,65.8 622.7,65.7 623.1,65.6 623.4,65.4 623.7,65.3 624,65.1 624.3,65 624.5,64.8 624.7,64.6 624.9,64.4 625,64.2 625,64 625.1,63.8 625.1,63.6 625,63.4 624.9,63.2 624.8,63 624.6,62.8 624.4,62.6 624.2,62.4 623.9,62.3 623.6,62.1 623.3,61.9 623,61.8 622.6,61.7 622.2,61.6 621.8,61.5 621.3,61.4 620.9,61.4 620.4,61.4 620,61.3 619.5,61.3 619.1,61.4 618.6,61.4 618.2,61.4 617.8,61.5 617.4,61.6 617,61.7 616.6,61.8 616.2,61.9 615.9,62.1 615.6,62.3 615.4,62.4 615.1,62.6 615,62.8 614.8,63 614.7,63.2 614.6,63.4 614.6,63.6 614.6,63.8 614.6,64" fill="#08488e"/>
<polygon points="615.2,62.9 615.3,63.1 615.5,63.3 615.6,63.4 615.9,63.6 616.1,63.7 616.4,63.9 616.7,64 617,64.1 617.3,64.2 617.7,64.3 618.1,64.4 618.4,64.5 618.8,64.5 619.3,64.5 619.7,64.6 620.1,64.6 620.5,64.5 620.9,64.5 621.3,64.5 621.7,64.4 622.1,64.3 622.4,64.2 622.8,64.1 623.1,64 623.4,63.9 623.6,63.7 623.8,63.6 624,63.4 624.2,63.3 624.4,63.1 624.5,62.9 624.5,62.7 624.6,62.5 624.5,62.3 624.5,62.2 624.4,62 624.3,61.8 624.2,61.6 624,61.5 623.8,61.3 623.5,61.2 623.3,61 623,60.9 622.7,60.8 622.3,60.7 622,60.6 621.6,60.5 621.2,60.4 620.8,60.4 620.4,60.3 620,60.3 619.6,60.3 619.1,60.3 618.7,60.4 618.3,60.4 618,60.5 617.6,60.6 617.2,60.7 616.9,60.8 616.6,60.9 616.3,61 616,61.2 615.8,61.3 615.6,61.5 615.4,61.6 615.3,61.8 615.2,62 615.1,62.2 615.1,62.3 615.1,62.5 615.1,62.7" fill="#084488"/>
<polygon points="615.8,61.6 615.9,61.8 616,61.9 616.1,62.1 616.3,62.2 616.5,62.3 616.8,62.5 617,62.6 617.3,62.7 617.6,62.8 617.9,62.9 618.3,62.9 618.6,63 619,63 619.3,63 619.7,63.1 620,63.1 620.4,63 620.8,63 621.1,63 621.5,62.9 621.8,62.9 622.1,62.8 622.4,62.7 622.7,62.6 622.9,62.5 623.1,62.3 623.4,62.2 623.5,62.1 623.7,61.9 623.8,61.8 623.9,61.6 623.9,61.4 624,61.3 624,61.1 623.9,61 623.9,60.8 623.8,60.6 623.6,60.5 623.5,60.3 623.3,60.2 623.1,60.1 622.8,59.9 622.6,59.8 622.3,59.7 622,59.6 621.7,59.5 621.4,59.5 621,59.4 620.7,59.4 620.3,59.4 619.9,59.3 619.6,59.3 619.2,59.4 618.9,59.4 618.5,59.4 618.2,59.5 617.9,59.5 617.5,59.6 617.2,59.7 617,59.8 616.7,59.9 616.5,60.1 616.3,60.2 616.1,60.3 616,60.5 615.8,60.6 615.7,60.8 615.7,61 615.7,61.1 615.7,61.3 615.7,61.4" fill="#083e81"/>
<polygon points="616.4,60.3 616.5,60.4 616.6,60.5 616.7,60.7 616.9,60.8 617.1,60.9 617.3,61 617.5,61.1 617.7,61.2 618,61.3 618.2,61.3 618.5,61.4 618.8,61.4 619.1,61.5 619.4,61.5 619.7,61.5 620,61.5 620.3,61.5 620.6,61.5 620.9,61.4 621.2,61.4 621.5,61.3 621.7,61.3 622,61.2 622.2,61.1 622.4,61 622.6,60.9 622.8,60.8 622.9,60.7 623.1,60.5 623.2,60.4 623.2,60.3 623.3,60.2 623.3,60 623.3,59.9 623.3,59.7 623.2,59.6 623.1,59.5 623,59.4 622.9,59.2 622.7,59.1 622.6,59 622.4,58.9 622.1,58.8 621.9,58.7 621.7,58.6 621.4,58.6 621.1,58.5 620.8,58.5 620.5,58.4 620.2,58.4 619.9,58.4 619.6,58.4 619.3,58.4 619,58.4 618.7,58.5 618.4,58.5 618.2,58.6 617.9,58.6 617.6,58.7 617.4,58.8 617.2,58.9 617,59 616.8,59.1 616.7,59.2 616.6,59.4 616.5,59.5 616.4,59.6 616.3,59.7 616.3,59.9 616.3,60 616.3,60.2" fill="#083a7a"/>
<polygon points="617.2,59 617.2,59.1 617.3,59.2 617.4,59.3 617.5,59.3 617.7,59.4 617.8,59.5 618,59.6 618.2,59.7 618.4,59.7 618.6,59.8 618.8,59.8 619,59.9 619.3,59.9 619.5,59.9 619.7,59.9 620,59.9 620.2,59.9 620.4,59.9 620.7,59.9 620.9,59.8 621.1,59.8 621.3,59.7 621.5,59.7 621.7,59.6 621.8,59.5 622,59.4 622.1,59.3 622.2,59.3 622.3,59.2 622.4,59.1 622.5,59 622.5,58.9 622.5,58.8 622.5,58.6 622.5,58.5 622.4,58.4 622.4,58.3 622.3,58.2 622.2,58.1 622.1,58.1 621.9,58 621.8,57.9 621.6,57.8 621.4,57.7 621.2,57.7 621,57.6 620.8,57.6 620.6,57.5 620.4,57.5 620.1,57.5 619.9,57.5 619.7,57.5 619.4,57.5 619.2,57.5 619,57.5 618.7,57.6 618.5,57.6 618.3,57.7 618.1,57.7 618,57.8 617.8,57.9 617.6,58 617.5,58.1 617.4,58.1 617.3,58.2 617.2,58.3 617.2,58.4 617.1,58.5 617.1,58.6 617.1,58.8 617.1,58.9" fill="#083674"/>
<polygon points="618.3,57.6 618.3,57.7 618.4,57.7 618.4,57.8 618.5,57.8 618.6,57.9 618.7,57.9 618.8,58 618.9,58 619,58 619.1,58.1 619.2,58.1 619.4,58.1 619.5,58.1 619.6,58.1 619.8,58.1 619.9,58.1 620,58.1 620.2,58.1 620.3,58.1 620.4,58.1 620.5,58.1 620.7,58 620.8,58 620.9,58 621,57.9 621,57.9 621.1,57.8 621.2,57.8 621.2,57.7 621.3,57.7 621.3,57.6 621.3,57.5 621.4,57.5 621.4,57.4 621.3,57.4 621.3,57.3 621.3,57.2 621.2,57.2 621.2,57.1 621.1,57.1 621,57 620.9,57 620.8,56.9 620.7,56.9 620.6,56.9 620.5,56.8 620.4,56.8 620.3,56.8 620.1,56.8 620,56.8 619.9,56.8 619.7,56.8 619.6,56.8 619.4,56.8 619.3,56.8 619.2,56.8 619.1,56.8 619,56.9 618.8,56.9 618.7,56.9 618.6,57 618.6,57 618.5,57.1 618.4,57.1 618.4,57.2 618.3,57.2 618.3,57.3 618.3,57.4 618.2,57.4 618.2,57.5 618.3,57.5" fill="#08326e"/>
<polygon points="591.8,127.9 592.5,129 593.3,130.2 594.4,131.3 595.7,132.4 597.1,133.4 598.8,134.3 600.6,135.2 602.5,136 604.6,136.7 606.8,137.4 609.1,137.9 611.6,138.3 614,138.6 616.6,138.9 619.1,139 621.7,139 624.2,138.9 626.7,138.6 629.2,138.3 631.6,137.9 633.9,137.4 636.1,136.8 638.1,136 640,135.3 641.8,134.4 643.4,133.4 644.8,132.4 646,131.4 647,130.2 647.8,129.1 648.4,127.9 648.8,126.7 648.9,125.5 648.9,124.3 648.6,123.1 648.1,121.9 647.4,120.7 646.4,119.6 645.3,118.5 644,117.5 642.5,116.5 640.9,115.6 639.1,114.8 637.1,114 635.1,113.3 632.9,112.7 630.6,112.2 628.3,111.8 625.9,111.5 623.4,111.3 620.9,111.2 618.5,111.2 616,111.3 613.6,111.5 611.2,111.8 608.8,112.2 606.6,112.7 604.4,113.3 602.4,114 600.5,114.7 598.7,115.6 597.1,116.5 595.7,117.4 594.5,118.5 593.4,119.6 592.5,120.7 591.9,121.8 591.4,123 591.2,124.2 591.2,125.4 591.4,126.7" fill="none" stroke="#f5f6f8" stroke-width="0.7" stroke-opacity="0.85"/>
<polygon points="594.9,125 595.5,126 596.3,127 597.2,128 598.4,129 599.7,129.9 601.1,130.7 602.7,131.5 604.5,132.2 606.3,132.8 608.3,133.4 610.4,133.8 612.5,134.2 614.7,134.5 616.9,134.7 619.2,134.8 621.5,134.8 623.7,134.7 626,134.5 628.1,134.2 630.3,133.8 632.3,133.4 634.3,132.8 636.1,132.2 637.8,131.5 639.4,130.7 640.8,129.9 642,129 643.1,128.1 644,127.1 644.7,126 645.3,125 645.6,123.9 645.7,122.9 645.7,121.8 645.4,120.7 645,119.7 644.3,118.6 643.5,117.6 642.5,116.7 641.4,115.7 640.1,114.9 638.6,114.1 637,113.3 635.3,112.6 633.4,112 631.5,111.5 629.5,111.1 627.4,110.7 625.2,110.4 623,110.3 620.8,110.2 618.6,110.2 616.4,110.2 614.2,110.4 612.1,110.7 610,111.1 608,111.5 606.1,112 604.3,112.6 602.6,113.3 601.1,114 599.6,114.8 598.4,115.7 597.3,116.6 596.3,117.6 595.5,118.6 595,119.6 594.6,120.7 594.4,121.7 594.4,122.8 594.6,123.9" fill="none" stroke="#f3f5f8" stroke-width="0.7" stroke-opacity="0.85"/>
<polygon points="597,122.2 597.5,123.1 598.2,124.1 599.1,125 600.1,125.8 601.3,126.6 602.6,127.4 604.1,128.1 605.7,128.8 607.4,129.4 609.2,129.9 611.1,130.3 613.1,130.6 615.1,130.9 617.2,131.1 619.3,131.2 621.3,131.2 623.4,131.1 625.5,130.9 627.5,130.6 629.4,130.3 631.3,129.9 633.1,129.4 634.8,128.8 636.3,128.2 637.8,127.4 639.1,126.7 640.2,125.9 641.2,125 642.1,124.1 642.7,123.2 643.2,122.2 643.5,121.2 643.7,120.2 643.6,119.3 643.4,118.3 643,117.3 642.4,116.4 641.6,115.4 640.7,114.6 639.7,113.7 638.5,112.9 637.1,112.2 635.6,111.5 634,110.9 632.3,110.3 630.6,109.8 628.7,109.4 626.8,109.1 624.8,108.8 622.8,108.7 620.8,108.6 618.7,108.6 616.7,108.7 614.7,108.8 612.7,109.1 610.8,109.4 609,109.8 607.2,110.3 605.6,110.8 604,111.5 602.6,112.1 601.3,112.9 600.1,113.7 599.1,114.5 598.2,115.4 597.5,116.3 597,117.3 596.6,118.2 596.4,119.2 596.4,120.2 596.6,121.2" fill="none" stroke="#eef3f8" stroke-width="0.7" stroke-opacity="0.85"/>
<polygon points="598.5,119.4 599,120.3 599.7,121.2 600.5,122 601.4,122.8 602.6,123.6 603.8,124.3 605.2,125 606.7,125.6 608.3,126.1 610,126.6 611.7,127 613.6,127.3 615.4,127.5 617.4,127.7 619.3,127.8 621.2,127.8 623.2,127.7 625.1,127.5 627,127.3 628.8,127 630.5,126.6 632.2,126.1 633.8,125.6 635.2,125 636.6,124.3 637.8,123.6 638.9,122.8 639.8,122 640.6,121.2 641.2,120.3 641.7,119.4 641.9,118.5 642.1,117.6 642,116.7 641.8,115.8 641.4,114.9 640.9,114 640.2,113.1 639.3,112.3 638.4,111.5 637.2,110.8 636,110.1 634.6,109.5 633.1,108.9 631.5,108.4 629.9,107.9 628.1,107.5 626.3,107.2 624.5,107 622.6,106.8 620.7,106.8 618.8,106.8 616.9,106.8 615,107 613.2,107.2 611.4,107.5 609.7,107.9 608.1,108.3 606.5,108.9 605.1,109.4 603.7,110.1 602.5,110.8 601.4,111.5 600.4,112.3 599.6,113.1 599,114 598.5,114.9 598.2,115.8 598,116.7 598,117.6 598.2,118.5" fill="none" stroke="#e6eef7" stroke-width="0.7" stroke-opacity="0.85"/>
<polygon points="599.8,116.7 600.2,117.5 600.9,118.3 601.6,119.1 602.5,119.9 603.6,120.6 604.8,121.2 606.1,121.9 607.5,122.4 609,122.9 610.5,123.4 612.2,123.7 613.9,124 615.7,124.3 617.5,124.4 619.3,124.5 621.2,124.5 623,124.4 624.8,124.3 626.5,124.1 628.2,123.8 629.9,123.4 631.5,123 632.9,122.5 634.3,121.9 635.6,121.3 636.7,120.6 637.7,119.9 638.6,119.1 639.3,118.3 639.9,117.5 640.4,116.7 640.6,115.8 640.8,115 640.7,114.1 640.5,113.3 640.2,112.4 639.7,111.6 639,110.8 638.2,110 637.3,109.3 636.2,108.6 635,107.9 633.7,107.3 632.3,106.8 630.8,106.3 629.3,105.9 627.6,105.5 625.9,105.2 624.2,105 622.4,104.9 620.7,104.8 618.9,104.8 617.1,104.9 615.3,105 613.6,105.2 611.9,105.5 610.3,105.9 608.8,106.3 607.3,106.8 605.9,107.3 604.7,107.9 603.5,108.6 602.5,109.3 601.6,110 600.8,110.8 600.2,111.6 599.7,112.4 599.4,113.2 599.3,114.1 599.3,115 599.4,115.8" fill="none" stroke="#dce8f4" stroke-width="0.7" stroke-opacity="0.85"/>
<polygon points="600.9,113.9 601.3,114.7 601.9,115.5 602.6,116.2 603.5,116.9 604.5,117.6 605.6,118.2 606.8,118.8 608.1,119.4 609.6,119.8 611.1,120.2 612.6,120.6 614.3,120.9 615.9,121.1 617.6,121.2 619.4,121.3 621.1,121.3 622.8,121.2 624.5,121.1 626.2,120.9 627.8,120.6 629.3,120.3 630.8,119.9 632.2,119.4 633.5,118.9 634.7,118.3 635.8,117.6 636.8,117 637.6,116.3 638.3,115.5 638.8,114.7 639.2,114 639.5,113.2 639.6,112.3 639.6,111.5 639.4,110.7 639.1,109.9 638.6,109.2 638,108.4 637.2,107.7 636.3,107 635.3,106.3 634.2,105.7 633,105.1 631.7,104.6 630.2,104.2 628.8,103.8 627.2,103.4 625.6,103.1 624,102.9 622.3,102.8 620.6,102.7 618.9,102.7 617.2,102.8 615.6,102.9 613.9,103.1 612.3,103.4 610.8,103.7 609.4,104.1 608,104.6 606.7,105.1 605.5,105.7 604.4,106.3 603.4,106.9 602.6,107.6 601.9,108.4 601.3,109.1 600.8,109.9 600.5,110.7 600.4,111.5 600.4,112.3 600.6,113.1" fill="none" stroke="#cfe1f1" stroke-width="0.7" stroke-opacity="0.85"/>
<polygon points="601.8,111.2 602.3,111.9 602.8,112.7 603.5,113.4 604.3,114 605.3,114.7 606.3,115.3 607.5,115.8 608.7,116.3 610.1,116.8 611.5,117.2 613,117.5 614.5,117.8 616.1,118 617.8,118.1 619.4,118.2 621,118.2 622.7,118.1 624.3,118 625.8,117.8 627.4,117.5 628.8,117.2 630.2,116.8 631.6,116.3 632.8,115.8 633.9,115.3 635,114.7 635.9,114.1 636.7,113.4 637.3,112.7 637.8,112 638.2,111.2 638.5,110.5 638.6,109.7 638.5,108.9 638.4,108.2 638.1,107.4 637.6,106.7 637,106 636.3,105.3 635.5,104.6 634.5,104 633.5,103.4 632.3,102.9 631,102.4 629.7,101.9 628.3,101.6 626.8,101.3 625.3,101 623.8,100.8 622.2,100.7 620.6,100.6 619,100.6 617.4,100.7 615.8,100.8 614.2,101 612.7,101.2 611.3,101.6 609.9,101.9 608.6,102.4 607.3,102.9 606.2,103.4 605.2,104 604.3,104.6 603.5,105.2 602.8,105.9 602.2,106.7 601.8,107.4 601.5,108.1 601.4,108.9 601.4,109.7 601.6,110.4" fill="none" stroke="#c2daed" stroke-width="0.7" stroke-opacity="0.85"/>
<polygon points="602.7,108.5 603.1,109.2 603.7,109.9 604.3,110.5 605.1,111.2 606,111.8 607,112.3 608.1,112.8 609.3,113.3 610.6,113.7 611.9,114.1 613.3,114.4 614.8,114.7 616.3,114.9 617.9,115 619.4,115.1 621,115.1 622.5,115 624,114.9 625.5,114.7 627,114.4 628.4,114.1 629.7,113.8 631,113.3 632.2,112.9 633.2,112.3 634.2,111.8 635.1,111.2 635.8,110.5 636.4,109.9 636.9,109.2 637.3,108.5 637.5,107.8 637.6,107 637.6,106.3 637.4,105.6 637.1,104.9 636.7,104.2 636.2,103.5 635.5,102.8 634.7,102.2 633.8,101.6 632.8,101.1 631.7,100.6 630.5,100.1 629.2,99.7 627.9,99.3 626.5,99 625,98.8 623.6,98.6 622.1,98.5 620.5,98.4 619,98.4 617.5,98.5 616,98.6 614.5,98.8 613.1,99 611.7,99.3 610.4,99.7 609.1,100.1 608,100.6 606.9,101.1 605.9,101.6 605,102.2 604.3,102.8 603.6,103.5 603.1,104.2 602.7,104.9 602.5,105.6 602.3,106.3 602.3,107 602.5,107.7" fill="none" stroke="#b4d3e9" stroke-width="0.7" stroke-opacity="0.85"/>
<polygon points="603.6,105.7 604,106.4 604.5,107 605.1,107.7 605.8,108.3 606.7,108.8 607.6,109.4 608.7,109.9 609.8,110.3 611,110.7 612.3,111.1 613.7,111.4 615.1,111.6 616.5,111.8 617.9,111.9 619.4,112 620.9,112 622.4,111.9 623.8,111.8 625.3,111.6 626.6,111.4 628,111.1 629.2,110.7 630.4,110.3 631.5,109.9 632.6,109.4 633.5,108.9 634.3,108.3 635,107.7 635.6,107.1 636.1,106.4 636.4,105.7 636.7,105.1 636.8,104.4 636.7,103.7 636.6,103 636.3,102.3 635.9,101.6 635.4,101 634.7,100.4 634,99.8 633.1,99.2 632.1,98.7 631.1,98.2 630,97.8 628.8,97.4 627.5,97.1 626.2,96.8 624.8,96.5 623.4,96.4 621.9,96.2 620.5,96.2 619,96.2 617.6,96.2 616.2,96.4 614.8,96.5 613.4,96.8 612.1,97.1 610.8,97.4 609.7,97.8 608.5,98.2 607.5,98.7 606.6,99.2 605.8,99.8 605,100.4 604.4,101 603.9,101.6 603.5,102.3 603.3,103 603.2,103.7 603.2,104.3 603.3,105" fill="none" stroke="#a8cee4" stroke-width="0.7" stroke-opacity="0.85"/>
<polygon points="604.4,103 604.7,103.6 605.2,104.2 605.8,104.8 606.5,105.4 607.3,105.9 608.2,106.4 609.2,106.9 610.3,107.3 611.5,107.7 612.7,108 614,108.3 615.3,108.5 616.7,108.7 618,108.8 619.4,108.9 620.8,108.9 622.2,108.8 623.6,108.7 625,108.6 626.3,108.3 627.6,108 628.8,107.7 629.9,107.3 631,106.9 631.9,106.4 632.8,105.9 633.6,105.4 634.3,104.8 634.8,104.2 635.3,103.6 635.6,103 635.9,102.3 635.9,101.7 635.9,101 635.8,100.4 635.5,99.7 635.1,99.1 634.6,98.5 634,97.9 633.3,97.3 632.5,96.8 631.6,96.3 630.6,95.9 629.5,95.4 628.3,95.1 627.1,94.7 625.9,94.5 624.5,94.3 623.2,94.1 621.8,94 620.5,93.9 619.1,93.9 617.7,94 616.3,94.1 615,94.3 613.7,94.5 612.5,94.7 611.3,95.1 610.1,95.4 609.1,95.8 608.1,96.3 607.2,96.8 606.4,97.3 605.7,97.9 605.2,98.5 604.7,99.1 604.3,99.7 604.1,100.4 604,101 604,101.7 604.1,102.3" fill="none" stroke="#9ac8e0" stroke-width="0.7" stroke-opacity="0.85"/>
<polygon points="605.1,100.2 605.5,100.8 605.9,101.4 606.5,102 607.2,102.5 607.9,103 608.8,103.5 609.7,103.9 610.8,104.3 611.9,104.7 613,105 614.2,105.3 615.5,105.5 616.8,105.7 618.1,105.8 619.5,105.8 620.8,105.8 622.1,105.8 623.4,105.7 624.7,105.5 626,105.3 627.2,105 628.3,104.7 629.4,104.3 630.4,103.9 631.3,103.5 632.2,103 632.9,102.5 633.6,102 634.1,101.4 634.5,100.8 634.9,100.2 635.1,99.6 635.2,99 635.1,98.4 635,97.7 634.7,97.1 634.4,96.5 633.9,96 633.3,95.4 632.6,94.9 631.8,94.4 631,93.9 630,93.5 629,93.1 627.9,92.7 626.8,92.4 625.6,92.1 624.3,91.9 623,91.8 621.7,91.7 620.4,91.6 619.1,91.6 617.8,91.7 616.5,91.8 615.2,91.9 614,92.1 612.8,92.4 611.7,92.7 610.6,93.1 609.6,93.4 608.7,93.9 607.8,94.4 607.1,94.9 606.4,95.4 605.9,95.9 605.4,96.5 605.1,97.1 604.9,97.7 604.8,98.3 604.8,99 604.9,99.6" fill="none" stroke="#8abfdd" stroke-width="0.7" stroke-opacity="0.85"/>
<polygon points="605.8,97.4 606.2,98 606.6,98.5 607.2,99.1 607.8,99.6 608.5,100.1 609.3,100.5 610.2,101 611.2,101.3 612.3,101.7 613.4,102 614.5,102.2 615.7,102.4 617,102.6 618.2,102.7 619.5,102.8 620.7,102.8 622,102.7 623.3,102.6 624.5,102.4 625.7,102.2 626.8,102 627.9,101.7 628.9,101.4 629.9,101 630.8,100.6 631.6,100.1 632.3,99.6 632.9,99.1 633.4,98.6 633.8,98 634.1,97.4 634.3,96.9 634.4,96.3 634.4,95.7 634.2,95.1 634,94.5 633.6,94 633.2,93.4 632.6,92.9 632,92.4 631.2,91.9 630.4,91.5 629.5,91 628.5,90.7 627.5,90.3 626.4,90 625.3,89.8 624.1,89.6 622.9,89.4 621.6,89.3 620.4,89.3 619.1,89.3 617.9,89.3 616.7,89.4 615.5,89.6 614.3,89.8 613.2,90 612.1,90.3 611.1,90.7 610.1,91 609.2,91.4 608.4,91.9 607.7,92.4 607.1,92.9 606.6,93.4 606.1,93.9 605.8,94.5 605.6,95.1 605.5,95.7 605.5,96.3 605.6,96.8" fill="none" stroke="#7ab6d9" stroke-width="0.7" stroke-opacity="0.85"/>
<polygon points="606.5,94.6 606.9,95.2 607.3,95.7 607.8,96.2 608.4,96.7 609.1,97.2 609.9,97.6 610.7,98 611.7,98.3 612.6,98.7 613.7,99 614.8,99.2 615.9,99.4 617.1,99.5 618.3,99.6 619.5,99.7 620.7,99.7 621.9,99.6 623.1,99.5 624.2,99.4 625.4,99.2 626.4,99 627.5,98.7 628.5,98.4 629.4,98 630.2,97.6 631,97.2 631.6,96.7 632.2,96.2 632.7,95.7 633.1,95.2 633.4,94.7 633.6,94.1 633.6,93.6 633.6,93 633.5,92.4 633.3,91.9 632.9,91.4 632.5,90.8 632,90.3 631.4,89.9 630.7,89.4 629.9,89 629,88.6 628.1,88.2 627.1,87.9 626.1,87.7 625,87.4 623.9,87.2 622.7,87.1 621.5,87 620.4,86.9 619.2,86.9 618,87 616.8,87.1 615.7,87.2 614.6,87.4 613.5,87.6 612.5,87.9 611.5,88.2 610.6,88.6 609.8,89 609,89.4 608.3,89.9 607.7,90.3 607.2,90.8 606.8,91.3 606.5,91.9 606.3,92.4 606.2,93 606.2,93.5 606.3,94.1" fill="none" stroke="#6aaed6" stroke-width="0.7" stroke-opacity="0.85"/>
<polygon points="607.2,91.8 607.5,92.4 607.9,92.9 608.4,93.3 609,93.8 609.7,94.2 610.4,94.6 611.2,95 612.1,95.3 613,95.6 614,95.9 615.1,96.1 616.1,96.3 617.2,96.5 618.4,96.6 619.5,96.6 620.6,96.6 621.8,96.6 622.9,96.5 624,96.3 625.1,96.1 626.1,95.9 627.1,95.7 628,95.4 628.9,95 629.7,94.6 630.4,94.2 631,93.8 631.6,93.3 632,92.9 632.4,92.4 632.7,91.9 632.8,91.3 632.9,90.8 632.9,90.3 632.8,89.8 632.6,89.3 632.2,88.7 631.8,88.3 631.3,87.8 630.8,87.3 630.1,86.9 629.4,86.5 628.5,86.1 627.7,85.8 626.7,85.5 625.7,85.2 624.7,85 623.7,84.8 622.6,84.7 621.5,84.6 620.3,84.6 619.2,84.6 618.1,84.6 617,84.7 615.9,84.8 614.8,85 613.8,85.2 612.8,85.5 611.9,85.8 611.1,86.1 610.3,86.5 609.6,86.9 608.9,87.3 608.4,87.8 607.9,88.2 607.5,88.7 607.2,89.2 607,89.8 606.9,90.3 606.9,90.8 607,91.3" fill="none" stroke="#5fa6d1" stroke-width="0.7" stroke-opacity="0.85"/>
<polygon points="607.9,89 608.2,89.5 608.6,90 609,90.4 609.6,90.9 610.2,91.3 610.9,91.7 611.7,92 612.5,92.3 613.4,92.6 614.3,92.9 615.3,93.1 616.3,93.3 617.4,93.4 618.4,93.5 619.5,93.5 620.6,93.5 621.7,93.5 622.7,93.4 623.8,93.3 624.8,93.1 625.7,92.9 626.7,92.6 627.5,92.3 628.4,92 629.1,91.7 629.8,91.3 630.4,90.9 630.9,90.4 631.3,90 631.7,89.5 632,89 632.1,88.6 632.2,88.1 632.2,87.6 632.1,87.1 631.9,86.6 631.6,86.1 631.2,85.7 630.7,85.2 630.2,84.8 629.5,84.4 628.8,84 628.1,83.7 627.2,83.3 626.4,83.1 625.4,82.8 624.4,82.6 623.4,82.4 622.4,82.3 621.4,82.2 620.3,82.2 619.2,82.2 618.2,82.2 617.1,82.3 616.1,82.4 615.1,82.6 614.1,82.8 613.2,83.1 612.4,83.3 611.5,83.7 610.8,84 610.1,84.4 609.5,84.8 609,85.2 608.5,85.6 608.2,86.1 607.9,86.6 607.7,87.1 607.6,87.6 607.6,88.1 607.7,88.5" fill="none" stroke="#529dcc" stroke-width="0.7" stroke-opacity="0.85"/>
<polygon points="608.6,86.2 608.9,86.7 609.2,87.1 609.7,87.5 610.2,87.9 610.8,88.3 611.4,88.7 612.1,89 612.9,89.3 613.8,89.6 614.6,89.8 615.6,90 616.5,90.2 617.5,90.3 618.5,90.4 619.5,90.4 620.5,90.4 621.6,90.4 622.6,90.3 623.5,90.2 624.5,90 625.4,89.8 626.3,89.6 627.1,89.3 627.9,89 628.6,88.7 629.2,88.3 629.8,87.9 630.3,87.5 630.7,87.1 631,86.7 631.2,86.2 631.4,85.8 631.5,85.3 631.4,84.8 631.3,84.4 631.2,83.9 630.9,83.5 630.5,83 630.1,82.6 629.6,82.2 629,81.8 628.3,81.5 627.6,81.2 626.8,80.9 626,80.6 625.1,80.4 624.2,80.2 623.2,80 622.3,79.9 621.3,79.8 620.3,79.8 619.3,79.8 618.3,79.8 617.3,79.9 616.3,80 615.4,80.2 614.5,80.4 613.6,80.6 612.8,80.9 612,81.2 611.3,81.5 610.7,81.8 610.1,82.2 609.6,82.6 609.2,83 608.8,83.5 608.6,83.9 608.4,84.4 608.3,84.8 608.3,85.3 608.4,85.8" fill="none" stroke="#4594c7" stroke-width="0.7" stroke-opacity="0.85"/>
<polygon points="609.3,83.4 609.6,83.8 609.9,84.2 610.3,84.6 610.8,85 611.3,85.3 611.9,85.7 612.6,86 613.4,86.3 614.1,86.5 615,86.7 615.8,86.9 616.7,87.1 617.7,87.2 618.6,87.3 619.5,87.3 620.5,87.3 621.4,87.3 622.4,87.2 623.3,87.1 624.2,86.9 625,86.7 625.9,86.5 626.6,86.3 627.3,86 628,85.7 628.6,85.4 629.1,85 629.6,84.6 630,84.2 630.3,83.8 630.5,83.4 630.7,83 630.7,82.5 630.7,82.1 630.6,81.7 630.4,81.2 630.2,80.8 629.8,80.4 629.4,80 628.9,79.6 628.4,79.3 627.8,79 627.1,78.7 626.4,78.4 625.6,78.1 624.8,77.9 623.9,77.7 623,77.6 622.1,77.5 621.2,77.4 620.2,77.4 619.3,77.4 618.4,77.4 617.4,77.5 616.5,77.6 615.6,77.7 614.8,77.9 614,78.1 613.2,78.4 612.5,78.7 611.8,79 611.2,79.3 610.7,79.6 610.2,80 609.8,80.4 609.5,80.8 609.3,81.2 609.1,81.7 609,82.1 609.1,82.5 609.1,83" fill="none" stroke="#3a8ac2" stroke-width="0.7" stroke-opacity="0.85"/>
<polygon points="610,80.5 610.2,80.9 610.6,81.3 610.9,81.7 611.4,82 611.9,82.4 612.5,82.7 613.1,83 613.8,83.2 614.5,83.4 615.3,83.7 616.1,83.8 616.9,84 617.8,84.1 618.7,84.1 619.6,84.2 620.4,84.2 621.3,84.1 622.2,84.1 623.1,84 623.9,83.8 624.7,83.7 625.4,83.5 626.2,83.2 626.8,83 627.4,82.7 628,82.4 628.5,82 628.9,81.7 629.3,81.3 629.6,80.9 629.8,80.5 629.9,80.1 630,79.7 630,79.3 629.9,78.9 629.7,78.5 629.5,78.1 629.2,77.8 628.8,77.4 628.3,77.1 627.8,76.7 627.2,76.4 626.6,76.1 625.9,75.9 625.2,75.6 624.4,75.4 623.6,75.3 622.8,75.1 621.9,75 621.1,75 620.2,74.9 619.3,74.9 618.4,75 617.6,75 616.7,75.1 615.9,75.3 615.1,75.4 614.4,75.6 613.7,75.9 613,76.1 612.4,76.4 611.8,76.7 611.3,77.1 610.9,77.4 610.5,77.8 610.2,78.1 610,78.5 609.8,78.9 609.8,79.3 609.8,79.7 609.9,80.1" fill="none" stroke="#3080bd" stroke-width="0.7" stroke-opacity="0.85"/>
<polygon points="610.7,77.7 611,78 611.2,78.4 611.6,78.7 612,79 612.5,79.3 613,79.6 613.6,79.9 614.2,80.1 614.9,80.4 615.6,80.5 616.4,80.7 617.1,80.8 617.9,80.9 618.7,81 619.6,81 620.4,81 621.2,81 622,80.9 622.8,80.8 623.6,80.7 624.3,80.5 625,80.4 625.7,80.1 626.3,79.9 626.9,79.6 627.4,79.4 627.9,79 628.3,78.7 628.6,78.4 628.9,78 629.1,77.7 629.2,77.3 629.2,76.9 629.2,76.6 629.1,76.2 629,75.8 628.8,75.5 628.5,75.1 628.1,74.8 627.7,74.5 627.2,74.2 626.7,73.9 626.1,73.6 625.5,73.4 624.8,73.2 624.1,73 623.3,72.8 622.6,72.7 621.8,72.6 621,72.5 620.2,72.5 619.4,72.5 618.5,72.5 617.7,72.6 617,72.7 616.2,72.8 615.5,73 614.8,73.2 614.1,73.4 613.5,73.6 612.9,73.9 612.4,74.1 611.9,74.5 611.5,74.8 611.2,75.1 610.9,75.5 610.7,75.8 610.6,76.2 610.5,76.6 610.5,76.9 610.6,77.3" fill="none" stroke="#2575b7" stroke-width="0.7" stroke-opacity="0.85"/>
<polygon points="611.5,74.8 611.7,75.1 611.9,75.4 612.3,75.7 612.7,76 613.1,76.3 613.6,76.6 614.1,76.8 614.7,77 615.3,77.2 616,77.4 616.7,77.6 617.4,77.7 618.1,77.8 618.8,77.8 619.6,77.9 620.3,77.9 621.1,77.8 621.8,77.8 622.6,77.7 623.3,77.6 623.9,77.4 624.6,77.2 625.2,77 625.8,76.8 626.3,76.6 626.8,76.3 627.2,76 627.5,75.7 627.9,75.4 628.1,75.1 628.3,74.8 628.4,74.5 628.4,74.1 628.4,73.8 628.4,73.4 628.2,73.1 628,72.8 627.7,72.5 627.4,72.1 627,71.9 626.6,71.6 626.1,71.3 625.6,71.1 625,70.9 624.4,70.7 623.7,70.5 623,70.4 622.3,70.2 621.6,70.1 620.9,70.1 620.1,70.1 619.4,70.1 618.6,70.1 617.9,70.1 617.2,70.2 616.5,70.3 615.8,70.5 615.2,70.7 614.6,70.9 614,71.1 613.5,71.3 613,71.6 612.6,71.8 612.2,72.1 611.9,72.4 611.6,72.8 611.5,73.1 611.3,73.4 611.3,73.8 611.3,74.1 611.4,74.4" fill="none" stroke="#1d6cb1" stroke-width="0.7" stroke-opacity="0.85"/>
<polygon points="612.3,71.9 612.5,72.2 612.7,72.5 613,72.7 613.3,73 613.7,73.3 614.2,73.5 614.7,73.7 615.2,73.9 615.7,74.1 616.3,74.3 616.9,74.4 617.6,74.5 618.3,74.6 618.9,74.6 619.6,74.7 620.3,74.7 621,74.6 621.6,74.6 622.3,74.5 622.9,74.4 623.5,74.3 624.1,74.1 624.7,73.9 625.2,73.7 625.7,73.5 626.1,73.3 626.5,73 626.8,72.8 627.1,72.5 627.3,72.2 627.5,71.9 627.6,71.6 627.6,71.3 627.6,71 627.5,70.7 627.4,70.4 627.2,70.1 627,69.8 626.7,69.5 626.3,69.2 625.9,69 625.5,68.8 625,68.5 624.5,68.3 623.9,68.2 623.3,68 622.7,67.9 622.1,67.8 621.4,67.7 620.8,67.6 620.1,67.6 619.4,67.6 618.7,67.6 618.1,67.7 617.4,67.8 616.8,67.9 616.2,68 615.6,68.2 615.1,68.3 614.5,68.5 614.1,68.8 613.6,69 613.3,69.2 612.9,69.5 612.6,69.8 612.4,70.1 612.3,70.4 612.1,70.7 612.1,71 612.1,71.3 612.2,71.6" fill="none" stroke="#1562a9" stroke-width="0.7" stroke-opacity="0.85"/>
<polygon points="613.1,69 613.3,69.2 613.5,69.5 613.8,69.7 614.1,70 614.4,70.2 614.8,70.4 615.2,70.6 615.7,70.8 616.2,70.9 616.7,71.1 617.3,71.2 617.8,71.3 618.4,71.3 619,71.4 619.6,71.4 620.2,71.4 620.8,71.4 621.4,71.3 622,71.3 622.6,71.2 623.1,71.1 623.6,70.9 624.1,70.8 624.6,70.6 625,70.4 625.4,70.2 625.7,70 626,69.7 626.2,69.5 626.4,69.2 626.6,69 626.7,68.7 626.7,68.4 626.7,68.2 626.7,67.9 626.5,67.6 626.4,67.4 626.2,67.1 625.9,66.9 625.6,66.6 625.2,66.4 624.9,66.2 624.4,66 624,65.8 623.5,65.7 622.9,65.5 622.4,65.4 621.8,65.3 621.2,65.3 620.7,65.2 620.1,65.2 619.5,65.2 618.9,65.2 618.3,65.3 617.7,65.3 617.1,65.4 616.6,65.5 616.1,65.7 615.6,65.8 615.1,66 614.7,66.2 614.3,66.4 614,66.6 613.7,66.9 613.5,67.1 613.3,67.4 613.1,67.6 613,67.9 613,68.2 613,68.4 613,68.7" fill="none" stroke="#0e58a2" stroke-width="0.7" stroke-opacity="0.85"/>
<polygon points="614.1,66 614.2,66.2 614.4,66.5 614.6,66.7 614.9,66.9 615.2,67.1 615.5,67.2 615.9,67.4 616.3,67.6 616.7,67.7 617.2,67.8 617.6,67.9 618.1,68 618.6,68.1 619.1,68.1 619.6,68.1 620.2,68.1 620.7,68.1 621.2,68.1 621.7,68 622.2,67.9 622.6,67.8 623.1,67.7 623.5,67.6 623.9,67.4 624.2,67.2 624.6,67.1 624.9,66.9 625.1,66.7 625.3,66.5 625.5,66.2 625.6,66 625.7,65.8 625.7,65.6 625.7,65.3 625.7,65.1 625.6,64.9 625.4,64.6 625.3,64.4 625,64.2 624.8,64 624.5,63.8 624.1,63.7 623.8,63.5 623.4,63.3 622.9,63.2 622.5,63.1 622,63 621.5,62.9 621,62.9 620.5,62.8 620,62.8 619.5,62.8 619,62.8 618.5,62.9 618,62.9 617.5,63 617,63.1 616.6,63.2 616.2,63.3 615.8,63.5 615.4,63.7 615.1,63.8 614.8,64 614.6,64.2 614.3,64.4 614.2,64.6 614,64.9 614,65.1 613.9,65.3 613.9,65.6 614,65.8" fill="none" stroke="#084e98" stroke-width="0.7" stroke-opacity="0.85"/>
<polygon points="615.1,63 615.3,63.2 615.4,63.4 615.6,63.6 615.8,63.7 616,63.9 616.3,64 616.6,64.2 616.9,64.3 617.3,64.4 617.7,64.5 618,64.6 618.4,64.6 618.8,64.7 619.2,64.7 619.7,64.7 620.1,64.7 620.5,64.7 620.9,64.7 621.3,64.6 621.7,64.6 622.1,64.5 622.4,64.4 622.8,64.3 623.1,64.2 623.4,64 623.7,63.9 623.9,63.7 624.1,63.6 624.3,63.4 624.4,63.2 624.5,63.1 624.6,62.9 624.6,62.7 624.6,62.5 624.6,62.3 624.5,62.1 624.4,61.9 624.2,61.8 624,61.6 623.8,61.4 623.6,61.3 623.3,61.1 623,61 622.7,60.9 622.3,60.8 622,60.7 621.6,60.6 621.2,60.5 620.8,60.5 620.4,60.5 620,60.4 619.6,60.4 619.1,60.5 618.7,60.5 618.3,60.5 617.9,60.6 617.6,60.7 617.2,60.8 616.9,60.9 616.5,61 616.3,61.1 616,61.3 615.8,61.4 615.5,61.6 615.4,61.8 615.2,61.9 615.1,62.1 615.1,62.3 615,62.5 615,62.7 615.1,62.9" fill="none" stroke="#084488" stroke-width="0.7" stroke-opacity="0.85"/>
<polygon points="616.5,60 616.6,60.2 616.7,60.3 616.8,60.4 617,60.5 617.2,60.6 617.4,60.7 617.6,60.8 617.8,60.9 618,61 618.3,61 618.6,61.1 618.8,61.1 619.1,61.2 619.4,61.2 619.7,61.2 620,61.2 620.3,61.2 620.6,61.2 620.9,61.1 621.1,61.1 621.4,61 621.7,61 621.9,60.9 622.1,60.8 622.3,60.7 622.5,60.6 622.7,60.5 622.8,60.4 622.9,60.3 623,60.2 623.1,60 623.2,59.9 623.2,59.8 623.2,59.6 623.1,59.5 623.1,59.4 623,59.3 622.9,59.1 622.8,59 622.6,58.9 622.5,58.8 622.3,58.7 622.1,58.6 621.8,58.5 621.6,58.4 621.3,58.4 621.1,58.3 620.8,58.3 620.5,58.2 620.2,58.2 619.9,58.2 619.6,58.2 619.3,58.2 619,58.2 618.8,58.3 618.5,58.3 618.2,58.4 618,58.4 617.7,58.5 617.5,58.6 617.3,58.7 617.1,58.8 617,58.9 616.8,59 616.7,59.1 616.6,59.3 616.5,59.4 616.5,59.5 616.4,59.6 616.5,59.8 616.5,59.9" fill="none" stroke="#083979" stroke-width="0.7" stroke-opacity="0.85"/>
<line x1="711.1" y1="155.4" x2="562.6" y2="171.8" stroke="#000" stroke-width="0.9"/>
<line x1="534.4" y1="101.3" x2="562.6" y2="171.8" stroke="#000" stroke-width="0.9"/>
<line x1="534.4" y1="101.3" x2="528.4" y2="29.2" stroke="#000" stroke-width="0.9"/>
<line x1="708.2" y1="155.7" x2="709.4" y2="158" stroke="#000" stroke-width="0.8"/>
<line x1="673" y1="159.6" x2="674.1" y2="161.9" stroke="#000" stroke-width="0.8"/>
<line x1="637.5" y1="163.6" x2="638.5" y2="165.8" stroke="#000" stroke-width="0.8"/>
<line x1="601.7" y1="167.5" x2="602.7" y2="169.8" stroke="#000" stroke-width="0.8"/>
<line x1="565.6" y1="171.5" x2="566.6" y2="173.8" stroke="#000" stroke-width="0.8"/>
<line x1="534.9" y1="102.6" x2="529.9" y2="103.2" stroke="#000" stroke-width="0.8"/>
<line x1="541.3" y1="118.6" x2="536.2" y2="119.2" stroke="#000" stroke-width="0.8"/>
<line x1="548" y1="135.2" x2="542.7" y2="135.8" stroke="#000" stroke-width="0.8"/>
<line x1="554.9" y1="152.4" x2="549.5" y2="153" stroke="#000" stroke-width="0.8"/>
<line x1="562" y1="170.3" x2="556.6" y2="170.9" stroke="#000" stroke-width="0.8"/>
<line x1="531.8" y1="101.5" x2="536.9" y2="100.9" stroke="#000" stroke-width="0.8"/>
<line x1="529.6" y1="74.7" x2="534.7" y2="74.2" stroke="#000" stroke-width="0.8"/>
<line x1="527.2" y1="46.6" x2="532.5" y2="46.1" stroke="#000" stroke-width="0.8"/>
<polygon points="672.4,293.7 534.4,307.8 528.4,235.7 675.7,221.7" fill="#f0f0f0"/>
<polygon points="672.4,293.7 711.1,361.9 717.4,288.7 675.7,221.7" fill="#f8f8f8"/>
<polygon points="672.4,293.7 534.4,307.8 562.6,378.3 711.1,361.9" fill="#f4f4f4"/>
<line x1="669.7" y1="293.9" x2="672.8" y2="221.9" stroke="#d2d2d2" stroke-width="0.6"/>
<line x1="636.9" y1="297.3" x2="637.8" y2="225.3" stroke="#d2d2d2" stroke-width="0.6"/>
<line x1="603.9" y1="300.7" x2="602.6" y2="228.6" stroke="#d2d2d2" stroke-width="0.6"/>
<line x1="570.7" y1="304.1" x2="567.1" y2="232" stroke="#d2d2d2" stroke-width="0.6"/>
<line x1="537.2" y1="307.5" x2="531.4" y2="235.4" stroke="#d2d2d2" stroke-width="0.6"/>
<line x1="672.4" y1="293.5" x2="534.4" y2="307.7" stroke="#c6c6c6" stroke-width="0.65" stroke-dasharray="3.2 1.8"/>
<line x1="673.6" y1="266.8" x2="532.2" y2="280.9" stroke="#c6c6c6" stroke-width="0.65" stroke-dasharray="3.2 1.8"/>
<line x1="674.9" y1="238.8" x2="529.8" y2="252.8" stroke="#c6c6c6" stroke-width="0.65" stroke-dasharray="3.2 1.8"/>
<line x1="673.2" y1="294.9" x2="676.4" y2="222.9" stroke="#c6c6c6" stroke-width="0.65" stroke-dasharray="3.2 1.8"/>
<line x1="681.9" y1="310.4" x2="685.9" y2="238.1" stroke="#c6c6c6" stroke-width="0.65" stroke-dasharray="3.2 1.8"/>
<line x1="691" y1="326.5" x2="695.7" y2="253.9" stroke="#c6c6c6" stroke-width="0.65" stroke-dasharray="3.2 1.8"/>
<line x1="700.5" y1="343.2" x2="705.9" y2="270.2" stroke="#c6c6c6" stroke-width="0.65" stroke-dasharray="3.2 1.8"/>
<line x1="710.3" y1="360.5" x2="716.5" y2="287.3" stroke="#c6c6c6" stroke-width="0.65" stroke-dasharray="3.2 1.8"/>
<line x1="672.4" y1="293.5" x2="711.1" y2="361.8" stroke="#d4d4d4" stroke-width="0.6"/>
<line x1="673.6" y1="266.8" x2="713.4" y2="334.7" stroke="#d4d4d4" stroke-width="0.6"/>
<line x1="674.9" y1="238.8" x2="715.9" y2="306.2" stroke="#d4d4d4" stroke-width="0.6"/>
<line x1="669.7" y1="293.9" x2="708.2" y2="362.2" stroke="#c6c6c6" stroke-width="0.65" stroke-dasharray="3.2 1.8"/>
<line x1="636.9" y1="297.3" x2="673" y2="366.1" stroke="#c6c6c6" stroke-width="0.65" stroke-dasharray="3.2 1.8"/>
<line x1="603.9" y1="300.7" x2="637.5" y2="370.1" stroke="#c6c6c6" stroke-width="0.65" stroke-dasharray="3.2 1.8"/>
<line x1="570.7" y1="304.1" x2="601.7" y2="374" stroke="#c6c6c6" stroke-width="0.65" stroke-dasharray="3.2 1.8"/>
<line x1="537.2" y1="307.5" x2="565.6" y2="378" stroke="#c6c6c6" stroke-width="0.65" stroke-dasharray="3.2 1.8"/>
<line x1="673.2" y1="294.9" x2="534.9" y2="309.1" stroke="#c6c6c6" stroke-width="0.65" stroke-dasharray="3.2 1.8"/>
<line x1="681.9" y1="310.4" x2="541.3" y2="325.1" stroke="#c6c6c6" stroke-width="0.65" stroke-dasharray="3.2 1.8"/>
<line x1="691" y1="326.5" x2="548" y2="341.7" stroke="#c6c6c6" stroke-width="0.65" stroke-dasharray="3.2 1.8"/>
<line x1="700.5" y1="343.2" x2="554.9" y2="358.9" stroke="#c6c6c6" stroke-width="0.65" stroke-dasharray="3.2 1.8"/>
<line x1="710.3" y1="360.5" x2="562" y2="376.8" stroke="#c6c6c6" stroke-width="0.65" stroke-dasharray="3.2 1.8"/>
<polygon points="670.4,295.1 537.7,308.7 565,376.3 707.4,360.6" fill="#f5f6f8"/>
<polygon points="585.9,337 586.7,338.4 587.7,339.8 589,341.2 590.5,342.5 592.3,343.7 594.2,344.9 596.4,345.9 598.8,346.9 601.3,347.8 604,348.6 606.8,349.2 609.8,349.7 612.8,350.1 615.8,350.4 618.9,350.5 622,350.5 625.1,350.4 628.2,350.1 631.1,349.7 634,349.2 636.8,348.6 639.5,347.8 642,347 644.3,346 646.4,344.9 648.3,343.8 650,342.6 651.5,341.3 652.7,339.9 653.7,338.5 654.4,337.1 654.8,335.6 655,334.1 654.9,332.7 654.6,331.2 653.9,329.8 653.1,328.4 652,327 650.6,325.7 649,324.4 647.2,323.3 645.2,322.2 643,321.1 640.7,320.2 638.2,319.4 635.6,318.7 632.8,318.1 630,317.6 627.1,317.2 624.1,317 621.1,316.8 618.1,316.8 615.2,317 612.2,317.2 609.3,317.6 606.5,318.1 603.8,318.7 601.2,319.4 598.8,320.2 596.5,321.1 594.3,322.1 592.4,323.2 590.7,324.4 589.1,325.6 587.8,326.9 586.8,328.3 586,329.7 585.4,331.2 585.2,332.6 585.1,334.1 585.4,335.5" fill="#f5f6f8"/>
<polygon points="590,335.5 590.7,336.7 591.6,338 592.8,339.1 594.1,340.3 595.7,341.4 597.4,342.4 599.3,343.3 601.4,344.2 603.6,344.9 606,345.6 608.5,346.1 611,346.6 613.6,347 616.3,347.2 619,347.3 621.8,347.3 624.5,347.2 627.2,347 629.8,346.6 632.3,346.2 634.8,345.6 637.1,345 639.3,344.2 641.3,343.3 643.2,342.4 644.9,341.4 646.4,340.3 647.7,339.2 648.7,338 649.6,336.8 650.2,335.5 650.6,334.3 650.8,333 650.7,331.7 650.4,330.4 649.8,329.1 649.1,327.9 648.1,326.7 646.9,325.5 645.5,324.4 643.9,323.4 642.2,322.4 640.3,321.5 638.2,320.7 636,320 633.7,319.4 631.3,318.8 628.8,318.4 626.2,318.1 623.6,317.9 621,317.8 618.4,317.7 615.7,317.9 613.2,318.1 610.6,318.4 608.1,318.8 605.7,319.3 603.5,320 601.3,320.7 599.3,321.5 597.4,322.4 595.7,323.4 594.2,324.4 592.9,325.5 591.7,326.6 590.8,327.8 590.1,329.1 589.6,330.3 589.4,331.6 589.4,332.9 589.6,334.2" fill="#f5f6f8"/>
<polygon points="592.2,334.2 592.8,335.3 593.7,336.5 594.7,337.6 596,338.6 597.4,339.6 599,340.5 600.8,341.4 602.7,342.2 604.8,342.9 607,343.5 609.3,344 611.7,344.5 614.1,344.8 616.6,345 619.1,345.1 621.6,345.1 624.2,345 626.6,344.8 629.1,344.5 631.4,344.1 633.7,343.6 635.9,342.9 637.9,342.2 639.8,341.5 641.5,340.6 643.1,339.7 644.5,338.7 645.7,337.6 646.7,336.5 647.5,335.4 648.1,334.2 648.4,333 648.6,331.8 648.5,330.6 648.2,329.4 647.7,328.3 647,327.1 646.1,326 645,324.9 643.7,323.9 642.3,322.9 640.6,322 638.9,321.2 636.9,320.5 634.9,319.8 632.7,319.2 630.5,318.7 628.2,318.3 625.8,318 623.4,317.8 620.9,317.7 618.5,317.7 616,317.8 613.6,318 611.3,318.3 609,318.7 606.7,319.2 604.6,319.8 602.6,320.4 600.7,321.2 599,322 597.4,322.9 596,323.9 594.8,324.9 593.7,326 592.9,327.1 592.2,328.2 591.8,329.4 591.5,330.6 591.5,331.8 591.8,333" fill="#f5f6f8"/>
<polygon points="593.7,332.9 594.3,334 595.1,335.1 596.1,336.1 597.3,337.1 598.6,338.1 600.2,338.9 601.8,339.8 603.7,340.5 605.6,341.2 607.7,341.8 609.9,342.2 612.1,342.6 614.4,342.9 616.8,343.2 619.2,343.3 621.6,343.3 623.9,343.2 626.3,343 628.6,342.7 630.8,342.3 632.9,341.8 635,341.2 636.9,340.5 638.7,339.8 640.4,339 641.8,338.1 643.2,337.2 644.3,336.2 645.2,335.1 646,334 646.6,332.9 646.9,331.8 647,330.7 647,329.6 646.7,328.4 646.3,327.3 645.6,326.2 644.7,325.2 643.7,324.2 642.5,323.2 641.1,322.3 639.5,321.4 637.9,320.7 636,319.9 634.1,319.3 632.1,318.8 629.9,318.3 627.7,317.9 625.5,317.6 623.2,317.4 620.9,317.3 618.6,317.3 616.2,317.4 614,317.6 611.7,317.9 609.5,318.3 607.4,318.7 605.4,319.3 603.5,319.9 601.8,320.6 600.1,321.4 598.6,322.3 597.3,323.2 596.1,324.1 595.1,325.1 594.3,326.2 593.7,327.3 593.3,328.4 593.1,329.5 593.1,330.7 593.3,331.8" fill="#f4f6f8"/>
<polygon points="594.8,331.7 595.4,332.7 596.2,333.8 597.1,334.7 598.3,335.7 599.6,336.6 601,337.4 602.6,338.2 604.4,338.9 606.3,339.6 608.2,340.1 610.3,340.6 612.5,341 614.7,341.3 616.9,341.5 619.2,341.6 621.5,341.6 623.7,341.5 626,341.3 628.2,341 630.3,340.6 632.4,340.1 634.3,339.6 636.2,339 637.9,338.3 639.4,337.5 640.9,336.6 642.1,335.7 643.2,334.8 644.1,333.8 644.8,332.8 645.4,331.7 645.7,330.7 645.8,329.6 645.8,328.5 645.5,327.4 645.1,326.4 644.5,325.3 643.6,324.3 642.6,323.3 641.5,322.4 640.2,321.6 638.7,320.7 637.1,320 635.3,319.3 633.5,318.7 631.5,318.2 629.5,317.7 627.4,317.4 625.2,317.1 623.1,316.9 620.8,316.8 618.6,316.8 616.4,316.9 614.2,317.1 612.1,317.3 610,317.7 608,318.1 606.1,318.7 604.2,319.3 602.5,320 601,320.7 599.5,321.5 598.3,322.4 597.1,323.3 596.2,324.3 595.4,325.3 594.8,326.3 594.5,327.4 594.3,328.5 594.3,329.5 594.4,330.6" fill="#f3f5f8"/>
<polygon points="595.8,330.5 596.4,331.5 597.1,332.5 598,333.4 599.1,334.3 600.4,335.2 601.8,336 603.3,336.8 605,337.4 606.8,338 608.7,338.6 610.7,339 612.8,339.4 614.9,339.7 617,339.9 619.2,340 621.4,340 623.6,339.9 625.8,339.7 627.9,339.4 629.9,339.1 631.9,338.6 633.8,338.1 635.5,337.5 637.2,336.8 638.7,336 640.1,335.2 641.3,334.4 642.3,333.5 643.2,332.5 643.9,331.5 644.4,330.5 644.7,329.5 644.8,328.5 644.8,327.4 644.6,326.4 644.1,325.4 643.5,324.4 642.7,323.4 641.8,322.5 640.7,321.6 639.4,320.7 638,320 636.4,319.2 634.7,318.6 633,318 631.1,317.5 629.1,317.1 627.1,316.7 625,316.5 622.9,316.3 620.8,316.2 618.7,316.2 616.5,316.3 614.4,316.4 612.4,316.7 610.4,317.1 608.4,317.5 606.6,318 604.8,318.6 603.2,319.2 601.7,319.9 600.3,320.7 599.1,321.6 598,322.4 597.1,323.4 596.4,324.3 595.8,325.3 595.4,326.3 595.2,327.4 595.2,328.4 595.4,329.5" fill="#f1f5f8"/>
<polygon points="596.6,329.3 597.2,330.3 597.9,331.2 598.8,332.1 599.8,333 601,333.8 602.4,334.6 603.9,335.3 605.5,336 607.3,336.6 609.1,337.1 611,337.5 613,337.9 615.1,338.2 617.1,338.3 619.2,338.4 621.4,338.4 623.5,338.3 625.6,338.2 627.6,337.9 629.6,337.5 631.5,337.1 633.3,336.6 635,336 636.6,335.4 638,334.7 639.4,333.9 640.5,333 641.5,332.2 642.4,331.2 643,330.3 643.5,329.3 643.9,328.3 644,327.3 643.9,326.3 643.7,325.3 643.3,324.4 642.7,323.4 641.9,322.5 641,321.6 639.9,320.7 638.7,319.9 637.3,319.1 635.9,318.5 634.2,317.8 632.5,317.3 630.7,316.8 628.8,316.4 626.9,316 624.9,315.8 622.8,315.6 620.8,315.5 618.7,315.5 616.7,315.6 614.6,315.8 612.6,316 610.7,316.3 608.8,316.7 607.1,317.2 605.4,317.8 603.8,318.4 602.3,319.1 601,319.9 599.8,320.7 598.8,321.5 597.9,322.4 597.2,323.4 596.6,324.3 596.3,325.3 596.1,326.3 596.1,327.3 596.3,328.3" fill="#eff3f8"/>
<polygon points="597.4,328.1 597.9,329 598.6,330 599.5,330.9 600.5,331.7 601.6,332.5 603,333.3 604.4,334 606,334.6 607.7,335.2 609.4,335.7 611.3,336.1 613.2,336.4 615.2,336.7 617.2,336.8 619.3,336.9 621.3,336.9 623.4,336.9 625.4,336.7 627.3,336.4 629.3,336.1 631.1,335.7 632.8,335.2 634.5,334.6 636,334 637.5,333.3 638.7,332.5 639.9,331.7 640.8,330.9 641.7,330 642.3,329.1 642.8,328.1 643.1,327.2 643.2,326.2 643.2,325.3 642.9,324.3 642.5,323.3 642,322.4 641.2,321.5 640.4,320.6 639.3,319.8 638.1,319 636.8,318.3 635.4,317.6 633.8,317 632.1,316.5 630.4,316 628.5,315.6 626.7,315.3 624.7,315 622.7,314.9 620.7,314.8 618.7,314.8 616.8,314.9 614.8,315 612.9,315.3 611,315.6 609.2,316 607.5,316.4 605.8,317 604.3,317.6 602.9,318.3 601.6,319 600.4,319.8 599.4,320.6 598.6,321.5 597.9,322.4 597.4,323.3 597,324.3 596.9,325.2 596.8,326.2 597,327.1" fill="#ecf2f8"/>
<polygon points="598,326.9 598.6,327.8 599.2,328.7 600.1,329.6 601.1,330.4 602.2,331.2 603.5,331.9 604.9,332.6 606.4,333.2 608,333.8 609.7,334.2 611.6,334.6 613.4,335 615.3,335.2 617.3,335.4 619.3,335.5 621.3,335.5 623.3,335.4 625.2,335.2 627.1,335 629,334.7 630.8,334.3 632.5,333.8 634.1,333.2 635.6,332.6 636.9,332 638.2,331.2 639.3,330.4 640.2,329.6 641,328.8 641.6,327.9 642.1,327 642.4,326 642.5,325.1 642.5,324.2 642.3,323.2 641.9,322.3 641.3,321.4 640.6,320.5 639.8,319.7 638.7,318.9 637.6,318.1 636.3,317.4 634.9,316.8 633.4,316.2 631.8,315.6 630.1,315.2 628.3,314.8 626.5,314.5 624.6,314.2 622.7,314.1 620.7,314 618.8,314 616.8,314.1 614.9,314.2 613.1,314.5 611.3,314.8 609.5,315.2 607.8,315.6 606.2,316.2 604.7,316.7 603.4,317.4 602.1,318.1 601,318.9 600,319.7 599.2,320.5 598.5,321.4 598,322.3 597.7,323.2 597.5,324.1 597.5,325.1 597.7,326" fill="#e9f0f7"/>
<polygon points="598.7,325.8 599.1,326.6 599.8,327.5 600.6,328.3 601.6,329.1 602.7,329.9 603.9,330.6 605.3,331.3 606.8,331.9 608.4,332.4 610,332.9 611.8,333.2 613.6,333.6 615.5,333.8 617.4,334 619.3,334.1 621.2,334.1 623.2,334 625.1,333.8 626.9,333.6 628.7,333.3 630.5,332.9 632.1,332.4 633.7,331.9 635.1,331.3 636.4,330.6 637.7,329.9 638.7,329.2 639.6,328.4 640.4,327.5 641,326.7 641.5,325.8 641.8,324.9 641.9,324 641.9,323.1 641.6,322.2 641.3,321.3 640.7,320.4 640,319.5 639.2,318.7 638.2,317.9 637.1,317.2 635.8,316.5 634.5,315.9 633,315.3 631.4,314.8 629.8,314.3 628.1,314 626.3,313.7 624.4,313.4 622.6,313.3 620.7,313.2 618.8,313.2 616.9,313.3 615.1,313.4 613.3,313.7 611.5,314 609.8,314.3 608.2,314.8 606.6,315.3 605.2,315.9 603.8,316.5 602.6,317.2 601.5,317.9 600.6,318.7 599.8,319.5 599.1,320.4 598.6,321.2 598.3,322.1 598.2,323 598.2,323.9 598.3,324.9" fill="#e5eef6"/>
<polygon points="599.2,324.6 599.7,325.4 600.3,326.3 601.1,327.1 602.1,327.9 603.1,328.6 604.4,329.3 605.7,329.9 607.1,330.5 608.7,331 610.3,331.5 612,331.9 613.8,332.2 615.6,332.4 617.4,332.6 619.3,332.7 621.2,332.7 623.1,332.6 624.9,332.4 626.7,332.2 628.5,331.9 630.2,331.5 631.8,331.1 633.3,330.5 634.7,330 636,329.3 637.2,328.6 638.2,327.9 639.1,327.1 639.9,326.3 640.5,325.5 640.9,324.6 641.2,323.7 641.3,322.9 641.3,322 641.1,321.1 640.7,320.2 640.2,319.4 639.5,318.5 638.7,317.8 637.7,317 636.6,316.3 635.4,315.6 634.1,315 632.7,314.4 631.1,313.9 629.5,313.5 627.8,313.1 626.1,312.8 624.3,312.6 622.5,312.5 620.7,312.4 618.8,312.4 617,312.4 615.2,312.6 613.4,312.8 611.7,313.1 610,313.5 608.5,313.9 607,314.4 605.6,315 604.3,315.6 603.1,316.3 602,317 601.1,317.7 600.3,318.5 599.7,319.3 599.2,320.2 598.9,321.1 598.7,321.9 598.7,322.8 598.9,323.7" fill="#e1ebf5"/>
<polygon points="599.7,323.4 600.2,324.3 600.8,325.1 601.6,325.9 602.5,326.6 603.6,327.3 604.7,328 606,328.6 607.4,329.2 609,329.7 610.5,330.1 612.2,330.5 613.9,330.8 615.7,331 617.5,331.2 619.3,331.3 621.2,331.3 623,331.2 624.8,331 626.5,330.8 628.3,330.5 629.9,330.1 631.5,329.7 632.9,329.2 634.3,328.6 635.6,328 636.7,327.4 637.8,326.6 638.6,325.9 639.4,325.1 639.9,324.3 640.4,323.5 640.7,322.6 640.8,321.7 640.7,320.9 640.5,320 640.2,319.2 639.7,318.3 639,317.5 638.2,316.8 637.3,316 636.2,315.3 635,314.7 633.7,314.1 632.3,313.5 630.9,313 629.3,312.6 627.6,312.3 625.9,312 624.2,311.8 622.4,311.6 620.7,311.5 618.9,311.5 617.1,311.6 615.3,311.7 613.6,312 611.9,312.2 610.3,312.6 608.7,313 607.3,313.5 605.9,314.1 604.6,314.7 603.5,315.3 602.5,316 601.6,316.7 600.8,317.5 600.2,318.3 599.7,319.1 599.4,320 599.3,320.8 599.3,321.7 599.4,322.6" fill="#dce8f4"/>
<polygon points="600.2,322.3 600.7,323.1 601.3,323.9 602.1,324.6 603,325.4 604,326.1 605.1,326.7 606.4,327.3 607.8,327.9 609.2,328.4 610.8,328.8 612.4,329.2 614.1,329.4 615.8,329.7 617.6,329.8 619.3,329.9 621.1,329.9 622.9,329.8 624.7,329.7 626.4,329.5 628,329.2 629.7,328.8 631.2,328.4 632.6,327.9 634,327.3 635.2,326.7 636.3,326.1 637.3,325.4 638.2,324.7 638.9,323.9 639.5,323.1 639.9,322.3 640.1,321.5 640.3,320.6 640.2,319.8 640,318.9 639.7,318.1 639.2,317.3 638.5,316.5 637.8,315.8 636.9,315 635.8,314.4 634.7,313.7 633.4,313.1 632,312.6 630.6,312.1 629.1,311.7 627.5,311.4 625.8,311.1 624.1,310.9 622.4,310.7 620.6,310.7 618.9,310.7 617.1,310.7 615.4,310.9 613.7,311.1 612.1,311.4 610.5,311.7 609,312.1 607.6,312.6 606.3,313.1 605,313.7 603.9,314.3 602.9,315 602,315.7 601.3,316.5 600.7,317.3 600.2,318.1 599.9,318.9 599.8,319.7 599.8,320.6 599.9,321.4" fill="#d7e5f3"/>
<polygon points="600.7,321.1 601.2,321.9 601.7,322.7 602.5,323.4 603.4,324.1 604.4,324.8 605.5,325.4 606.7,326 608,326.6 609.5,327 611,327.5 612.6,327.8 614.2,328.1 615.9,328.3 617.6,328.5 619.4,328.5 621.1,328.5 622.8,328.5 624.5,328.3 626.2,328.1 627.9,327.8 629.4,327.5 630.9,327.1 632.3,326.6 633.6,326 634.8,325.5 635.9,324.8 636.9,324.1 637.7,323.4 638.4,322.7 639,321.9 639.4,321.1 639.7,320.3 639.8,319.5 639.7,318.7 639.5,317.9 639.2,317.1 638.7,316.3 638.1,315.5 637.3,314.8 636.5,314.1 635.4,313.4 634.3,312.8 633.1,312.2 631.7,311.7 630.3,311.2 628.8,310.8 627.3,310.5 625.7,310.2 624,310 622.3,309.9 620.6,309.8 618.9,309.8 617.2,309.9 615.5,310 613.9,310.2 612.3,310.5 610.7,310.8 609.3,311.2 607.9,311.7 606.6,312.2 605.4,312.8 604.3,313.4 603.3,314 602.4,314.7 601.7,315.5 601.1,316.2 600.7,317 600.4,317.8 600.2,318.6 600.2,319.5 600.4,320.3" fill="#d2e2f2"/>
<polygon points="601.1,319.9 601.6,320.7 602.2,321.4 602.9,322.2 603.7,322.9 604.7,323.5 605.8,324.2 607,324.7 608.3,325.3 609.7,325.7 611.2,326.1 612.7,326.5 614.3,326.8 616,327 617.7,327.1 619.4,327.2 621.1,327.2 622.8,327.1 624.4,327 626.1,326.8 627.7,326.5 629.2,326.1 630.7,325.7 632,325.3 633.3,324.8 634.5,324.2 635.5,323.6 636.5,322.9 637.3,322.2 638,321.5 638.5,320.7 638.9,319.9 639.2,319.2 639.3,318.4 639.3,317.6 639.1,316.8 638.8,316 638.3,315.2 637.7,314.5 636.9,313.8 636.1,313.1 635.1,312.4 634,311.8 632.8,311.3 631.5,310.7 630.1,310.3 628.6,309.9 627.1,309.6 625.5,309.3 623.9,309.1 622.3,309 620.6,308.9 618.9,308.9 617.3,309 615.6,309.1 614,309.3 612.5,309.6 611,309.9 609.5,310.3 608.2,310.7 606.9,311.2 605.7,311.8 604.6,312.4 603.7,313 602.8,313.7 602.1,314.4 601.6,315.2 601.1,316 600.8,316.7 600.7,317.5 600.7,318.3 600.9,319.1" fill="#cddff1"/>
<polygon points="601.6,318.8 602,319.5 602.6,320.2 603.3,321 604.1,321.6 605.1,322.3 606.1,322.9 607.3,323.5 608.6,324 610,324.4 611.4,324.8 612.9,325.2 614.5,325.4 616.1,325.6 617.7,325.8 619.4,325.8 621,325.8 622.7,325.8 624.3,325.6 625.9,325.4 627.5,325.2 629,324.8 630.4,324.4 631.7,324 633,323.5 634.1,322.9 635.2,322.3 636.1,321.7 636.9,321 637.6,320.3 638.1,319.5 638.5,318.8 638.8,318 638.9,317.2 638.8,316.5 638.6,315.7 638.3,314.9 637.9,314.2 637.3,313.4 636.5,312.7 635.7,312.1 634.7,311.4 633.7,310.8 632.5,310.3 631.2,309.8 629.9,309.4 628.4,309 626.9,308.7 625.4,308.4 623.8,308.2 622.2,308.1 620.6,308 619,308 617.3,308.1 615.7,308.2 614.2,308.4 612.6,308.6 611.2,309 609.7,309.3 608.4,309.8 607.2,310.3 606,310.8 605,311.4 604,312 603.2,312.7 602.5,313.4 602,314.1 601.6,314.9 601.3,315.6 601.1,316.4 601.1,317.2 601.3,318" fill="#c6dbef"/>
<polygon points="602,317.6 602.4,318.3 603,319 603.6,319.7 604.5,320.4 605.4,321 606.4,321.6 607.6,322.2 608.8,322.7 610.2,323.1 611.6,323.5 613.1,323.8 614.6,324.1 616.2,324.3 617.8,324.4 619.4,324.5 621,324.5 622.6,324.4 624.2,324.3 625.8,324.1 627.3,323.8 628.8,323.5 630.2,323.1 631.5,322.7 632.7,322.2 633.8,321.6 634.8,321.1 635.7,320.4 636.5,319.8 637.2,319.1 637.7,318.3 638.1,317.6 638.3,316.9 638.4,316.1 638.4,315.3 638.2,314.6 637.9,313.8 637.5,313.1 636.9,312.4 636.2,311.7 635.3,311.1 634.4,310.4 633.4,309.9 632.2,309.3 631,308.8 629.6,308.4 628.2,308 626.8,307.7 625.3,307.5 623.7,307.3 622.2,307.1 620.6,307.1 619,307.1 617.4,307.1 615.8,307.3 614.3,307.5 612.8,307.7 611.3,308 610,308.4 608.7,308.8 607.4,309.3 606.3,309.8 605.3,310.4 604.4,311 603.6,311.7 602.9,312.4 602.4,313.1 602,313.8 601.7,314.6 601.6,315.3 601.6,316.1 601.7,316.8" fill="#bfd8ec"/>
<polygon points="602.4,316.4 602.8,317.1 603.3,317.8 604,318.5 604.8,319.2 605.7,319.8 606.7,320.4 607.9,320.9 609.1,321.4 610.4,321.8 611.8,322.2 613.2,322.5 614.7,322.8 616.2,323 617.8,323.1 619.4,323.2 621,323.2 622.6,323.1 624.1,323 625.7,322.8 627.1,322.5 628.6,322.2 629.9,321.8 631.2,321.4 632.4,320.9 633.5,320.4 634.5,319.8 635.4,319.2 636.2,318.5 636.8,317.9 637.3,317.2 637.7,316.4 637.9,315.7 638,315 638,314.2 637.8,313.5 637.5,312.8 637.1,312 636.5,311.3 635.8,310.7 635,310 634.1,309.4 633.1,308.9 631.9,308.3 630.7,307.9 629.4,307.5 628.1,307.1 626.6,306.8 625.2,306.5 623.6,306.3 622.1,306.2 620.5,306.1 619,306.1 617.4,306.2 615.9,306.3 614.4,306.5 612.9,306.8 611.5,307.1 610.2,307.4 608.9,307.9 607.7,308.3 606.6,308.9 605.6,309.4 604.7,310 603.9,310.7 603.3,311.3 602.8,312 602.4,312.7 602.1,313.5 602,314.2 602,314.9 602.1,315.7" fill="#b9d6eb"/>
<polygon points="602.8,315.2 603.2,316 603.7,316.6 604.4,317.3 605.1,317.9 606,318.5 607,319.1 608.1,319.6 609.3,320.1 610.6,320.5 611.9,320.9 613.4,321.2 614.8,321.5 616.3,321.7 617.9,321.8 619.4,321.8 621,321.9 622.5,321.8 624,321.7 625.5,321.5 627,321.2 628.4,320.9 629.7,320.5 631,320.1 632.1,319.6 633.2,319.1 634.2,318.6 635.1,318 635.8,317.3 636.4,316.7 636.9,316 637.3,315.3 637.5,314.6 637.6,313.8 637.6,313.1 637.4,312.4 637.1,311.7 636.7,311 636.1,310.3 635.5,309.6 634.7,309 633.8,308.4 632.8,307.9 631.7,307.4 630.5,306.9 629.2,306.5 627.9,306.1 626.5,305.8 625,305.6 623.6,305.4 622.1,305.3 620.5,305.2 619,305.2 617.5,305.3 616,305.4 614.5,305.6 613.1,305.8 611.7,306.1 610.4,306.5 609.1,306.9 608,307.4 606.9,307.9 605.9,308.4 605.1,309 604.3,309.6 603.7,310.3 603.1,310.9 602.7,311.6 602.5,312.4 602.3,313.1 602.3,313.8 602.5,314.5" fill="#b4d3e9"/>
<polygon points="603.1,314.1 603.5,314.8 604,315.4 604.7,316.1 605.4,316.7 606.3,317.3 607.3,317.8 608.4,318.4 609.5,318.8 610.8,319.2 612.1,319.6 613.5,319.9 614.9,320.1 616.4,320.3 617.9,320.5 619.4,320.5 620.9,320.5 622.4,320.5 623.9,320.3 625.4,320.2 626.8,319.9 628.2,319.6 629.5,319.2 630.7,318.8 631.9,318.4 632.9,317.9 633.9,317.3 634.7,316.7 635.4,316.1 636.1,315.5 636.5,314.8 636.9,314.1 637.1,313.4 637.2,312.7 637.2,312 637,311.3 636.8,310.6 636.3,309.9 635.8,309.2 635.1,308.6 634.4,308 633.5,307.4 632.5,306.9 631.4,306.4 630.2,305.9 629,305.5 627.7,305.2 626.3,304.9 624.9,304.6 623.5,304.5 622,304.3 620.5,304.3 619,304.3 617.5,304.3 616.1,304.5 614.6,304.6 613.2,304.9 611.9,305.2 610.6,305.5 609.4,305.9 608.2,306.4 607.2,306.9 606.2,307.4 605.4,308 604.6,308.6 604,309.2 603.5,309.9 603.1,310.6 602.8,311.3 602.7,312 602.7,312.7 602.9,313.4" fill="#aed1e7"/>
<polygon points="603.5,312.9 603.9,313.6 604.4,314.2 605,314.9 605.8,315.5 606.6,316.1 607.6,316.6 608.6,317.1 609.8,317.5 611,317.9 612.3,318.3 613.6,318.6 615,318.8 616.5,319 617.9,319.1 619.4,319.2 620.9,319.2 622.4,319.1 623.9,319 625.3,318.8 626.7,318.6 628,318.3 629.3,318 630.5,317.6 631.6,317.1 632.6,316.6 633.6,316.1 634.4,315.5 635.1,314.9 635.7,314.3 636.2,313.6 636.5,312.9 636.8,312.2 636.9,311.6 636.8,310.9 636.7,310.2 636.4,309.5 636,308.8 635.5,308.2 634.8,307.5 634,307 633.2,306.4 632.2,305.9 631.2,305.4 630,304.9 628.8,304.5 627.5,304.2 626.2,303.9 624.8,303.7 623.4,303.5 622,303.4 620.5,303.3 619,303.3 617.6,303.4 616.1,303.5 614.7,303.7 613.4,303.9 612.1,304.2 610.8,304.5 609.6,304.9 608.5,305.4 607.5,305.8 606.5,306.4 605.7,306.9 605,307.5 604.3,308.2 603.8,308.8 603.5,309.5 603.2,310.1 603.1,310.8 603.1,311.5 603.2,312.2" fill="#a9cfe5"/>
<polygon points="603.8,311.7 604.2,312.4 604.7,313 605.3,313.7 606.1,314.2 606.9,314.8 607.8,315.3 608.9,315.8 610,316.3 611.2,316.7 612.4,317 613.8,317.3 615.1,317.5 616.5,317.7 618,317.8 619.4,317.9 620.9,317.9 622.3,317.8 623.8,317.7 625.2,317.5 626.5,317.3 627.8,317 629.1,316.7 630.3,316.3 631.4,315.8 632.4,315.3 633.3,314.8 634.1,314.3 634.8,313.7 635.4,313.1 635.8,312.4 636.2,311.8 636.4,311.1 636.5,310.4 636.5,309.7 636.3,309.1 636,308.4 635.6,307.7 635.1,307.1 634.5,306.5 633.7,305.9 632.9,305.4 632,304.8 630.9,304.4 629.8,303.9 628.6,303.6 627.4,303.2 626.1,302.9 624.7,302.7 623.3,302.5 621.9,302.4 620.5,302.4 619.1,302.4 617.6,302.4 616.2,302.5 614.8,302.7 613.5,302.9 612.2,303.2 611,303.5 609.8,303.9 608.7,304.4 607.7,304.8 606.8,305.3 606,305.9 605.3,306.5 604.7,307.1 604.2,307.7 603.8,308.4 603.6,309 603.4,309.7 603.4,310.4 603.6,311.1" fill="#a4cce3"/>
<polygon points="604.2,310.6 604.5,311.2 605,311.8 605.6,312.4 606.4,313 607.2,313.6 608.1,314.1 609.1,314.6 610.2,315 611.4,315.4 612.6,315.7 613.9,316 615.2,316.2 616.6,316.4 618,316.5 619.4,316.6 620.9,316.6 622.3,316.5 623.7,316.4 625,316.2 626.4,316 627.7,315.7 628.9,315.4 630,315 631.1,314.6 632.1,314.1 633,313.6 633.8,313 634.5,312.5 635,311.8 635.5,311.2 635.8,310.6 636,309.9 636.1,309.3 636.1,308.6 636,307.9 635.7,307.3 635.3,306.7 634.8,306 634.2,305.4 633.4,304.9 632.6,304.3 631.7,303.8 630.7,303.4 629.6,302.9 628.4,302.6 627.2,302.2 625.9,302 624.6,301.7 623.2,301.6 621.9,301.5 620.5,301.4 619.1,301.4 617.7,301.5 616.3,301.6 615,301.7 613.6,302 612.4,302.2 611.2,302.6 610,302.9 609,303.4 608,303.8 607.1,304.3 606.3,304.9 605.6,305.4 605,306 604.5,306.6 604.2,307.3 603.9,307.9 603.8,308.6 603.8,309.2 603.9,309.9" fill="#9dcae1"/>
<polygon points="604.5,309.4 604.9,310 605.4,310.6 605.9,311.2 606.6,311.8 607.4,312.3 608.3,312.8 609.3,313.3 610.4,313.7 611.5,314.1 612.8,314.4 614,314.7 615.3,314.9 616.7,315.1 618.1,315.2 619.4,315.3 620.8,315.3 622.2,315.2 623.6,315.1 624.9,314.9 626.2,314.7 627.5,314.4 628.7,314.1 629.8,313.7 630.9,313.3 631.8,312.8 632.7,312.3 633.5,311.8 634.1,311.2 634.7,310.6 635.2,310 635.5,309.4 635.7,308.8 635.8,308.1 635.8,307.5 635.6,306.8 635.4,306.2 635,305.6 634.5,305 633.9,304.4 633.2,303.8 632.3,303.3 631.4,302.8 630.5,302.4 629.4,301.9 628.2,301.6 627.1,301.3 625.8,301 624.5,300.8 623.2,300.6 621.8,300.5 620.5,300.4 619.1,300.4 617.7,300.5 616.4,300.6 615.1,300.8 613.8,301 612.5,301.2 611.4,301.6 610.2,301.9 609.2,302.3 608.2,302.8 607.3,303.3 606.6,303.8 605.9,304.4 605.3,304.9 604.8,305.6 604.5,306.2 604.2,306.8 604.1,307.5 604.1,308.1 604.3,308.7" fill="#97c6df"/>
<polygon points="604.8,308.2 605.2,308.8 605.7,309.4 606.2,310 606.9,310.6 607.7,311.1 608.6,311.6 609.6,312 610.6,312.4 611.7,312.8 612.9,313.1 614.1,313.4 615.4,313.6 616.7,313.8 618.1,313.9 619.5,314 620.8,314 622.2,313.9 623.5,313.8 624.8,313.6 626.1,313.4 627.3,313.1 628.5,312.8 629.6,312.4 630.6,312 631.6,311.6 632.4,311.1 633.2,310.6 633.8,310 634.4,309.4 634.8,308.8 635.1,308.2 635.4,307.6 635.4,307 635.4,306.3 635.3,305.7 635,305.1 634.6,304.5 634.2,303.9 633.6,303.3 632.9,302.8 632.1,302.3 631.2,301.8 630.2,301.3 629.2,300.9 628.1,300.6 626.9,300.3 625.7,300 624.4,299.8 623.1,299.6 621.8,299.5 620.4,299.5 619.1,299.5 617.8,299.5 616.4,299.6 615.2,299.8 613.9,300 612.7,300.3 611.5,300.6 610.4,300.9 609.4,301.3 608.5,301.8 607.6,302.2 606.8,302.8 606.2,303.3 605.6,303.9 605.2,304.5 604.8,305.1 604.6,305.7 604.5,306.3 604.5,307 604.6,307.6" fill="#91c3de"/>
<polygon points="605.2,307 605.5,307.6 606,308.2 606.5,308.8 607.2,309.3 608,309.8 608.8,310.3 609.8,310.8 610.8,311.2 611.9,311.5 613.1,311.8 614.3,312.1 615.5,312.3 616.8,312.5 618.1,312.6 619.5,312.6 620.8,312.6 622.1,312.6 623.4,312.5 624.7,312.3 626,312.1 627.2,311.8 628.3,311.5 629.4,311.2 630.4,310.8 631.3,310.3 632.1,309.8 632.9,309.3 633.5,308.8 634.1,308.2 634.5,307.6 634.8,307 635,306.4 635.1,305.8 635.1,305.2 634.9,304.6 634.7,304 634.3,303.4 633.8,302.8 633.3,302.2 632.6,301.7 631.8,301.2 630.9,300.7 630,300.3 629,299.9 627.9,299.6 626.7,299.3 625.5,299 624.3,298.8 623,298.6 621.7,298.5 620.4,298.5 619.1,298.5 617.8,298.5 616.5,298.6 615.3,298.8 614,299 612.8,299.3 611.7,299.6 610.6,299.9 609.6,300.3 608.7,300.7 607.9,301.2 607.1,301.7 606.5,302.2 605.9,302.8 605.5,303.4 605.1,304 604.9,304.6 604.8,305.2 604.8,305.8 604.9,306.4" fill="#8abfdd"/>
<polygon points="605.5,305.8 605.8,306.4 606.3,307 606.8,307.6 607.5,308.1 608.2,308.6 609.1,309.1 610,309.5 611,309.9 612.1,310.2 613.2,310.5 614.4,310.8 615.6,311 616.9,311.2 618.2,311.3 619.5,311.3 620.8,311.3 622.1,311.3 623.3,311.2 624.6,311 625.8,310.8 627,310.5 628.1,310.2 629.2,309.9 630.2,309.5 631.1,309.1 631.9,308.6 632.6,308.1 633.2,307.6 633.8,307 634.2,306.5 634.5,305.9 634.7,305.3 634.8,304.7 634.8,304.1 634.6,303.5 634.4,302.9 634,302.3 633.5,301.7 633,301.2 632.3,300.7 631.6,300.2 630.7,299.7 629.8,299.3 628.8,298.9 627.7,298.6 626.6,298.3 625.4,298 624.2,297.8 623,297.6 621.7,297.5 620.4,297.5 619.1,297.5 617.8,297.5 616.6,297.6 615.4,297.8 614.1,298 613,298.3 611.9,298.5 610.8,298.9 609.9,299.3 608.9,299.7 608.1,300.2 607.4,300.6 606.8,301.2 606.2,301.7 605.8,302.3 605.4,302.9 605.2,303.4 605.1,304 605.1,304.6 605.2,305.3" fill="#82bbdb"/>
<polygon points="605.8,304.7 606.1,305.2 606.6,305.8 607.1,306.3 607.7,306.9 608.5,307.3 609.3,307.8 610.2,308.2 611.2,308.6 612.2,308.9 613.3,309.2 614.5,309.5 615.7,309.7 616.9,309.9 618.2,310 619.5,310 620.7,310 622,310 623.3,309.9 624.5,309.7 625.7,309.5 626.8,309.3 627.9,309 629,308.6 629.9,308.2 630.8,307.8 631.6,307.4 632.3,306.9 632.9,306.3 633.5,305.8 633.9,305.3 634.2,304.7 634.4,304.1 634.4,303.5 634.4,302.9 634.3,302.3 634,301.8 633.7,301.2 633.2,300.6 632.7,300.1 632,299.6 631.3,299.1 630.5,298.7 629.6,298.3 628.6,297.9 627.5,297.5 626.4,297.2 625.3,297 624.1,296.8 622.9,296.7 621.7,296.6 620.4,296.5 619.1,296.5 617.9,296.5 616.7,296.6 615.4,296.8 614.3,297 613.1,297.2 612.1,297.5 611,297.9 610.1,298.2 609.2,298.7 608.4,299.1 607.7,299.6 607,300.1 606.5,300.6 606.1,301.2 605.8,301.7 605.5,302.3 605.4,302.9 605.4,303.5 605.6,304.1" fill="#7cb7da"/>
<polygon points="606.1,303.5 606.4,304 606.9,304.6 607.4,305.1 608,305.6 608.7,306.1 609.5,306.5 610.4,306.9 611.4,307.3 612.4,307.7 613.5,308 614.6,308.2 615.8,308.4 617,308.6 618.2,308.7 619.5,308.7 620.7,308.7 622,308.7 623.2,308.6 624.4,308.4 625.6,308.2 626.7,308 627.7,307.7 628.8,307.3 629.7,307 630.6,306.5 631.3,306.1 632,305.6 632.6,305.1 633.1,304.6 633.5,304.1 633.8,303.5 634,302.9 634.1,302.4 634.1,301.8 634,301.2 633.7,300.6 633.4,300.1 632.9,299.5 632.4,299 631.8,298.5 631,298.1 630.2,297.6 629.3,297.2 628.4,296.8 627.4,296.5 626.3,296.2 625.2,296 624,295.8 622.8,295.7 621.6,295.6 620.4,295.5 619.2,295.5 617.9,295.6 616.7,295.7 615.5,295.8 614.4,296 613.3,296.2 612.2,296.5 611.2,296.8 610.3,297.2 609.4,297.6 608.6,298 607.9,298.5 607.3,299 606.8,299.5 606.4,300.1 606.1,300.6 605.9,301.2 605.8,301.8 605.8,302.3 605.9,302.9" fill="#75b4d8"/>
<polygon points="606.4,302.3 606.7,302.8 607.1,303.4 607.7,303.9 608.3,304.4 609,304.8 609.8,305.3 610.6,305.7 611.6,306 612.6,306.4 613.6,306.7 614.7,306.9 615.9,307.1 617.1,307.2 618.3,307.3 619.5,307.4 620.7,307.4 621.9,307.3 623.1,307.2 624.3,307.1 625.4,306.9 626.5,306.7 627.6,306.4 628.6,306.1 629.5,305.7 630.3,305.3 631.1,304.9 631.8,304.4 632.4,303.9 632.8,303.4 633.2,302.9 633.5,302.3 633.7,301.8 633.8,301.2 633.8,300.6 633.7,300.1 633.4,299.5 633.1,299 632.6,298.4 632.1,297.9 631.5,297.5 630.8,297 630,296.6 629.1,296.2 628.2,295.8 627.2,295.5 626.2,295.2 625.1,295 623.9,294.8 622.8,294.7 621.6,294.6 620.4,294.5 619.2,294.5 618,294.6 616.8,294.6 615.6,294.8 614.5,295 613.4,295.2 612.4,295.5 611.4,295.8 610.5,296.2 609.6,296.6 608.9,297 608.2,297.4 607.6,297.9 607.1,298.4 606.7,299 606.4,299.5 606.2,300.1 606.1,300.6 606.1,301.2 606.2,301.7" fill="#6fb0d7"/>
<polygon points="606.7,301.1 607,301.6 607.4,302.2 607.9,302.7 608.5,303.1 609.2,303.6 610,304 610.8,304.4 611.8,304.8 612.7,305.1 613.8,305.4 614.9,305.6 616,305.8 617.1,305.9 618.3,306 619.5,306.1 620.7,306.1 621.9,306 623,305.9 624.2,305.8 625.3,305.6 626.4,305.4 627.4,305.1 628.4,304.8 629.3,304.4 630.1,304 630.8,303.6 631.5,303.1 632.1,302.7 632.5,302.2 632.9,301.7 633.2,301.1 633.4,300.6 633.5,300 633.5,299.5 633.3,298.9 633.1,298.4 632.8,297.9 632.4,297.4 631.8,296.9 631.2,296.4 630.5,295.9 629.8,295.5 628.9,295.1 628,294.8 627,294.5 626,294.2 624.9,294 623.8,293.8 622.7,293.6 621.5,293.5 620.4,293.5 619.2,293.5 618,293.5 616.9,293.6 615.7,293.8 614.6,294 613.6,294.2 612.6,294.5 611.6,294.8 610.7,295.1 609.9,295.5 609.1,295.9 608.5,296.4 607.9,296.8 607.4,297.3 607,297.9 606.7,298.4 606.5,298.9 606.4,299.5 606.4,300 606.5,300.6" fill="#68acd5"/>
<polygon points="607,299.9 607.3,300.4 607.7,300.9 608.2,301.4 608.8,301.9 609.5,302.3 610.2,302.8 611,303.1 611.9,303.5 612.9,303.8 613.9,304.1 615,304.3 616.1,304.5 617.2,304.6 618.3,304.7 619.5,304.8 620.7,304.8 621.8,304.7 623,304.6 624.1,304.5 625.2,304.3 626.2,304.1 627.2,303.8 628.2,303.5 629,303.1 629.8,302.8 630.6,302.4 631.2,301.9 631.8,301.4 632.3,301 632.6,300.4 632.9,299.9 633.1,299.4 633.2,298.9 633.1,298.3 633,297.8 632.8,297.3 632.5,296.8 632.1,296.3 631.6,295.8 631,295.3 630.3,294.9 629.5,294.5 628.7,294.1 627.8,293.7 626.9,293.4 625.9,293.2 624.8,293 623.7,292.8 622.6,292.6 621.5,292.5 620.3,292.5 619.2,292.5 618.1,292.5 616.9,292.6 615.8,292.8 614.7,292.9 613.7,293.2 612.7,293.4 611.8,293.7 610.9,294.1 610.1,294.5 609.4,294.9 608.7,295.3 608.1,295.8 607.7,296.2 607.3,296.7 607,297.3 606.8,297.8 606.7,298.3 606.7,298.9 606.8,299.4" fill="#63a8d3"/>
<polygon points="607.3,298.7 607.6,299.2 608,299.7 608.5,300.2 609.1,300.7 609.7,301.1 610.4,301.5 611.3,301.9 612.1,302.2 613.1,302.5 614,302.8 615.1,303 616.2,303.2 617.3,303.3 618.4,303.4 619.5,303.5 620.6,303.5 621.8,303.4 622.9,303.3 624,303.2 625,303 626.1,302.8 627,302.5 628,302.2 628.8,301.9 629.6,301.5 630.3,301.1 630.9,300.7 631.5,300.2 632,299.7 632.3,299.2 632.6,298.7 632.8,298.2 632.9,297.7 632.8,297.2 632.7,296.7 632.5,296.1 632.2,295.6 631.8,295.1 631.3,294.7 630.7,294.2 630,293.8 629.3,293.4 628.5,293 627.6,292.7 626.7,292.4 625.7,292.1 624.7,291.9 623.6,291.8 622.6,291.6 621.4,291.5 620.3,291.5 619.2,291.5 618.1,291.5 617,291.6 615.9,291.8 614.9,291.9 613.9,292.1 612.9,292.4 612,292.7 611.1,293 610.3,293.4 609.6,293.8 609,294.2 608.4,294.7 607.9,295.1 607.6,295.6 607.3,296.1 607.1,296.6 607,297.2 607,297.7 607.1,298.2" fill="#5da5d1"/>
<polygon points="607.6,297.5 607.9,298 608.3,298.5 608.8,299 609.3,299.4 610,299.8 610.7,300.2 611.5,300.6 612.3,300.9 613.2,301.2 614.2,301.5 615.2,301.7 616.2,301.9 617.3,302 618.4,302.1 619.5,302.1 620.6,302.1 621.7,302.1 622.8,302 623.9,301.9 624.9,301.7 625.9,301.5 626.9,301.2 627.8,300.9 628.6,300.6 629.4,300.2 630.1,299.8 630.7,299.4 631.2,299 631.7,298.5 632,298 632.3,297.5 632.5,297 632.5,296.5 632.5,296 632.4,295.5 632.2,295 631.9,294.5 631.5,294 631,293.6 630.4,293.1 629.8,292.7 629.1,292.3 628.3,292 627.4,291.7 626.5,291.4 625.6,291.1 624.6,290.9 623.5,290.7 622.5,290.6 621.4,290.5 620.3,290.5 619.2,290.5 618.1,290.5 617.1,290.6 616,290.7 615,290.9 614,291.1 613,291.4 612.2,291.7 611.3,292 610.6,292.3 609.9,292.7 609.2,293.1 608.7,293.6 608.2,294 607.9,294.5 607.6,295 607.4,295.5 607.3,296 607.3,296.5 607.4,297" fill="#58a1cf"/>
<polygon points="607.9,296.3 608.2,296.8 608.6,297.3 609,297.7 609.6,298.2 610.2,298.6 610.9,299 611.7,299.3 612.5,299.6 613.4,299.9 614.3,300.2 615.3,300.4 616.3,300.6 617.4,300.7 618.4,300.8 619.5,300.8 620.6,300.8 621.7,300.8 622.7,300.7 623.8,300.6 624.8,300.4 625.8,300.2 626.7,299.9 627.6,299.6 628.4,299.3 629.1,299 629.8,298.6 630.4,298.2 630.9,297.7 631.4,297.3 631.7,296.8 632,296.3 632.1,295.8 632.2,295.4 632.2,294.9 632.1,294.4 631.9,293.9 631.6,293.4 631.2,292.9 630.7,292.5 630.2,292.1 629.6,291.7 628.9,291.3 628.1,290.9 627.3,290.6 626.4,290.3 625.4,290.1 624.5,289.9 623.5,289.7 622.4,289.6 621.4,289.5 620.3,289.5 619.2,289.5 618.2,289.5 617.1,289.6 616.1,289.7 615.1,289.9 614.1,290.1 613.2,290.3 612.3,290.6 611.5,290.9 610.8,291.3 610.1,291.6 609.5,292.1 609,292.5 608.5,292.9 608.1,293.4 607.9,293.9 607.7,294.4 607.6,294.8 607.6,295.3 607.7,295.8" fill="#529dcc"/>
<polygon points="608.2,295.1 608.5,295.6 608.8,296.1 609.3,296.5 609.8,296.9 610.4,297.3 611.1,297.7 611.9,298 612.7,298.3 613.5,298.6 614.5,298.9 615.4,299.1 616.4,299.2 617.4,299.4 618.5,299.5 619.5,299.5 620.6,299.5 621.6,299.5 622.7,299.4 623.7,299.2 624.7,299.1 625.6,298.9 626.5,298.6 627.4,298.4 628.2,298 628.9,297.7 629.6,297.3 630.1,296.9 630.7,296.5 631.1,296.1 631.4,295.6 631.7,295.1 631.8,294.7 631.9,294.2 631.9,293.7 631.8,293.2 631.6,292.7 631.3,292.3 630.9,291.8 630.5,291.4 629.9,291 629.3,290.6 628.6,290.2 627.9,289.9 627.1,289.6 626.2,289.3 625.3,289 624.3,288.8 623.4,288.7 622.4,288.6 621.3,288.5 620.3,288.4 619.2,288.4 618.2,288.5 617.2,288.6 616.2,288.7 615.2,288.8 614.3,289 613.4,289.3 612.5,289.6 611.7,289.9 611,290.2 610.3,290.6 609.7,291 609.2,291.4 608.8,291.8 608.4,292.3 608.2,292.7 608,293.2 607.9,293.7 607.9,294.2 608,294.7" fill="#4d99ca"/>
<polygon points="608.5,293.9 608.8,294.4 609.1,294.8 609.6,295.3 610.1,295.7 610.7,296.1 611.3,296.4 612.1,296.7 612.9,297.1 613.7,297.3 614.6,297.6 615.5,297.8 616.5,297.9 617.5,298.1 618.5,298.1 619.5,298.2 620.6,298.2 621.6,298.1 622.6,298.1 623.6,297.9 624.5,297.8 625.5,297.6 626.3,297.3 627.2,297.1 627.9,296.8 628.7,296.4 629.3,296.1 629.9,295.7 630.4,295.3 630.8,294.8 631.1,294.4 631.4,293.9 631.5,293.5 631.6,293 631.6,292.5 631.5,292.1 631.3,291.6 631,291.1 630.6,290.7 630.2,290.3 629.7,289.9 629.1,289.5 628.4,289.1 627.7,288.8 626.9,288.5 626,288.2 625.2,288 624.2,287.8 623.3,287.7 622.3,287.5 621.3,287.5 620.3,287.4 619.3,287.4 618.3,287.5 617.3,287.5 616.3,287.7 615.3,287.8 614.4,288 613.5,288.2 612.7,288.5 611.9,288.8 611.2,289.1 610.6,289.5 610,289.9 609.5,290.3 609.1,290.7 608.7,291.1 608.5,291.6 608.3,292.1 608.2,292.5 608.2,293 608.3,293.5" fill="#4896c8"/>
<polygon points="608.8,292.7 609.1,293.2 609.4,293.6 609.8,294 610.3,294.4 610.9,294.8 611.6,295.1 612.3,295.5 613,295.8 613.9,296 614.7,296.3 615.6,296.5 616.6,296.6 617.6,296.7 618.5,296.8 619.5,296.9 620.5,296.9 621.5,296.8 622.5,296.7 623.5,296.6 624.4,296.5 625.3,296.3 626.2,296 627,295.8 627.7,295.5 628.4,295.1 629,294.8 629.6,294.4 630.1,294 630.5,293.6 630.8,293.2 631.1,292.7 631.2,292.3 631.3,291.8 631.3,291.4 631.2,290.9 631,290.5 630.7,290 630.3,289.6 629.9,289.2 629.4,288.8 628.8,288.4 628.2,288.1 627.5,287.7 626.7,287.5 625.9,287.2 625,287 624.1,286.8 623.2,286.6 622.2,286.5 621.2,286.4 620.3,286.4 619.3,286.4 618.3,286.4 617.3,286.5 616.4,286.6 615.4,286.8 614.6,287 613.7,287.2 612.9,287.5 612.1,287.7 611.5,288.1 610.8,288.4 610.3,288.8 609.8,289.2 609.4,289.6 609,290 608.8,290.5 608.6,290.9 608.5,291.4 608.5,291.8 608.6,292.3" fill="#4191c6"/>
<polygon points="609.1,291.5 609.4,291.9 609.7,292.4 610.1,292.8 610.6,293.2 611.2,293.5 611.8,293.9 612.5,294.2 613.2,294.5 614,294.7 614.9,294.9 615.8,295.1 616.7,295.3 617.6,295.4 618.6,295.5 619.5,295.5 620.5,295.5 621.5,295.5 622.4,295.4 623.4,295.3 624.3,295.1 625.1,295 626,294.7 626.8,294.5 627.5,294.2 628.2,293.9 628.8,293.5 629.3,293.2 629.8,292.8 630.2,292.4 630.5,292 630.7,291.5 630.9,291.1 631,290.6 630.9,290.2 630.8,289.8 630.7,289.3 630.4,288.9 630.1,288.5 629.6,288.1 629.1,287.7 628.6,287.3 627.9,287 627.2,286.7 626.5,286.4 625.7,286.1 624.9,285.9 624,285.7 623.1,285.6 622.2,285.5 621.2,285.4 620.2,285.4 619.3,285.4 618.3,285.4 617.4,285.5 616.5,285.6 615.6,285.7 614.7,285.9 613.9,286.1 613.1,286.4 612.4,286.7 611.7,287 611.1,287.3 610.5,287.7 610,288.1 609.6,288.5 609.3,288.9 609.1,289.3 608.9,289.7 608.8,290.2 608.8,290.6 608.9,291.1" fill="#3d8dc4"/>
<polygon points="609.4,290.3 609.7,290.7 610,291.1 610.4,291.5 610.9,291.9 611.4,292.2 612,292.6 612.7,292.9 613.4,293.2 614.2,293.4 615,293.6 615.9,293.8 616.8,294 617.7,294.1 618.6,294.2 619.5,294.2 620.5,294.2 621.4,294.2 622.4,294.1 623.3,294 624.1,293.8 625,293.6 625.8,293.4 626.6,293.2 627.3,292.9 627.9,292.6 628.5,292.3 629.1,291.9 629.5,291.5 629.9,291.1 630.2,290.7 630.4,290.3 630.6,289.9 630.6,289.5 630.6,289 630.5,288.6 630.4,288.2 630.1,287.8 629.8,287.4 629.4,287 628.9,286.6 628.3,286.2 627.7,285.9 627,285.6 626.3,285.3 625.5,285.1 624.7,284.9 623.9,284.7 623,284.6 622.1,284.4 621.2,284.4 620.2,284.3 619.3,284.3 618.4,284.4 617.5,284.4 616.6,284.6 615.7,284.7 614.8,284.9 614,285.1 613.3,285.3 612.6,285.6 611.9,285.9 611.3,286.2 610.8,286.6 610.3,287 609.9,287.3 609.6,287.7 609.4,288.2 609.2,288.6 609.1,289 609.1,289.4 609.2,289.9" fill="#3989c1"/>
<polygon points="609.7,289.1 609.9,289.5 610.3,289.9 610.7,290.3 611.1,290.6 611.6,291 612.2,291.3 612.9,291.6 613.6,291.9 614.4,292.1 615.1,292.3 616,292.5 616.8,292.6 617.7,292.8 618.6,292.8 619.6,292.9 620.5,292.9 621.4,292.8 622.3,292.8 623.2,292.6 624,292.5 624.8,292.3 625.6,292.1 626.4,291.9 627.1,291.6 627.7,291.3 628.3,291 628.8,290.6 629.2,290.3 629.6,289.9 629.9,289.5 630.1,289.1 630.3,288.7 630.3,288.3 630.3,287.8 630.2,287.4 630,287 629.8,286.6 629.5,286.2 629.1,285.9 628.6,285.5 628.1,285.2 627.5,284.8 626.8,284.5 626.1,284.3 625.4,284 624.6,283.8 623.7,283.7 622.9,283.5 622,283.4 621.1,283.3 620.2,283.3 619.3,283.3 618.4,283.3 617.5,283.4 616.6,283.5 615.8,283.7 615,283.8 614.2,284 613.5,284.3 612.8,284.5 612.1,284.8 611.6,285.1 611,285.5 610.6,285.8 610.2,286.2 609.9,286.6 609.7,287 609.5,287.4 609.5,287.8 609.5,288.3 609.5,288.7" fill="#3585bf"/>
<polygon points="610,287.9 610.2,288.3 610.6,288.6 610.9,289 611.4,289.4 611.9,289.7 612.5,290 613.1,290.3 613.8,290.6 614.5,290.8 615.3,291 616.1,291.2 616.9,291.3 617.8,291.4 618.7,291.5 619.6,291.5 620.4,291.5 621.3,291.5 622.2,291.4 623.1,291.3 623.9,291.2 624.7,291 625.4,290.8 626.2,290.6 626.8,290.3 627.5,290 628,289.7 628.5,289.4 628.9,289 629.3,288.7 629.6,288.3 629.8,287.9 629.9,287.5 630,287.1 630,286.7 629.9,286.3 629.7,285.9 629.5,285.5 629.2,285.1 628.8,284.7 628.3,284.4 627.8,284.1 627.2,283.8 626.6,283.5 625.9,283.2 625.2,283 624.4,282.8 623.6,282.6 622.8,282.5 621.9,282.4 621.1,282.3 620.2,282.3 619.3,282.3 618.5,282.3 617.6,282.4 616.7,282.5 615.9,282.6 615.1,282.8 614.4,283 613.7,283.2 613,283.5 612.4,283.8 611.8,284.1 611.3,284.4 610.9,284.7 610.5,285.1 610.2,285.5 610,285.9 609.8,286.3 609.8,286.7 609.8,287.1 609.9,287.5" fill="#3080bd"/>
<polygon points="610.3,286.7 610.5,287 610.8,287.4 611.2,287.8 611.6,288.1 612.1,288.4 612.7,288.7 613.3,289 614,289.3 614.7,289.5 615.4,289.7 616.2,289.8 617,290 617.9,290.1 618.7,290.2 619.6,290.2 620.4,290.2 621.3,290.2 622.1,290.1 623,290 623.8,289.8 624.5,289.7 625.3,289.5 626,289.3 626.6,289 627.2,288.7 627.8,288.4 628.2,288.1 628.6,287.8 629,287.4 629.3,287 629.5,286.7 629.6,286.3 629.7,285.9 629.7,285.5 629.6,285.1 629.4,284.7 629.2,284.3 628.9,284 628.5,283.6 628.1,283.3 627.6,283 627,282.7 626.4,282.4 625.7,282.1 625,281.9 624.3,281.7 623.5,281.6 622.7,281.4 621.9,281.3 621,281.3 620.2,281.2 619.3,281.2 618.5,281.3 617.7,281.3 616.8,281.4 616,281.6 615.3,281.7 614.5,281.9 613.8,282.1 613.2,282.4 612.6,282.7 612.1,283 611.6,283.3 611.2,283.6 610.8,284 610.5,284.3 610.3,284.7 610.2,285.1 610.1,285.5 610.1,285.9 610.2,286.3" fill="#2c7cba"/>
<polygon points="610.6,285.4 610.9,285.8 611.1,286.2 611.5,286.5 611.9,286.8 612.4,287.1 612.9,287.4 613.5,287.7 614.2,287.9 614.9,288.2 615.6,288.3 616.3,288.5 617.1,288.6 617.9,288.7 618.7,288.8 619.6,288.8 620.4,288.8 621.2,288.8 622,288.7 622.8,288.6 623.6,288.5 624.4,288.4 625.1,288.2 625.8,287.9 626.4,287.7 627,287.4 627.5,287.1 627.9,286.8 628.4,286.5 628.7,286.2 629,285.8 629.2,285.4 629.3,285.1 629.3,284.7 629.3,284.3 629.2,283.9 629.1,283.6 628.9,283.2 628.6,282.8 628.2,282.5 627.8,282.2 627.3,281.9 626.8,281.6 626.2,281.3 625.5,281.1 624.9,280.9 624.1,280.7 623.4,280.5 622.6,280.4 621.8,280.3 621,280.2 620.2,280.2 619.4,280.2 618.5,280.2 617.7,280.3 616.9,280.4 616.2,280.5 615.4,280.7 614.7,280.9 614,281.1 613.4,281.3 612.8,281.6 612.3,281.9 611.8,282.2 611.4,282.5 611.1,282.8 610.8,283.2 610.6,283.6 610.5,283.9 610.4,284.3 610.4,284.7 610.5,285.1" fill="#2777b8"/>
<polygon points="611,284.2 611.2,284.6 611.4,284.9 611.8,285.2 612.2,285.5 612.7,285.8 613.2,286.1 613.7,286.4 614.4,286.6 615,286.8 615.7,287 616.5,287.2 617.2,287.3 618,287.4 618.8,287.5 619.6,287.5 620.4,287.5 621.2,287.5 622,287.4 622.7,287.3 623.5,287.2 624.2,287 624.9,286.8 625.5,286.6 626.2,286.4 626.7,286.1 627.2,285.9 627.7,285.6 628.1,285.2 628.4,284.9 628.6,284.6 628.8,284.2 629,283.9 629,283.5 629,283.1 628.9,282.8 628.8,282.4 628.5,282.1 628.3,281.7 627.9,281.4 627.5,281.1 627,280.8 626.5,280.5 625.9,280.2 625.3,280 624.7,279.8 624,279.6 623.3,279.5 622.5,279.4 621.7,279.3 621,279.2 620.2,279.2 619.4,279.2 618.6,279.2 617.8,279.3 617,279.3 616.3,279.5 615.6,279.6 614.9,279.8 614.2,280 613.6,280.2 613.1,280.5 612.6,280.8 612.1,281.1 611.7,281.4 611.4,281.7 611.1,282.1 610.9,282.4 610.8,282.8 610.7,283.1 610.7,283.5 610.8,283.8" fill="#2373b6"/>
<polygon points="611.3,283 611.5,283.3 611.8,283.6 612.1,284 612.5,284.3 612.9,284.6 613.4,284.8 614,285.1 614.6,285.3 615.2,285.5 615.9,285.7 616.6,285.8 617.3,286 618.1,286 618.8,286.1 619.6,286.1 620.4,286.1 621.1,286.1 621.9,286 622.6,286 623.3,285.8 624,285.7 624.7,285.5 625.3,285.3 625.9,285.1 626.5,284.8 626.9,284.6 627.4,284.3 627.7,284 628.1,283.7 628.3,283.3 628.5,283 628.6,282.6 628.7,282.3 628.7,281.9 628.6,281.6 628.4,281.2 628.2,280.9 628,280.6 627.6,280.3 627.2,280 626.8,279.7 626.3,279.4 625.7,279.2 625.1,278.9 624.5,278.7 623.8,278.6 623.1,278.4 622.4,278.3 621.7,278.2 620.9,278.2 620.1,278.1 619.4,278.1 618.6,278.2 617.9,278.2 617.1,278.3 616.4,278.4 615.7,278.6 615.1,278.7 614.4,278.9 613.9,279.2 613.3,279.4 612.8,279.7 612.4,280 612,280.3 611.7,280.6 611.4,280.9 611.3,281.2 611.1,281.6 611.1,281.9 611.1,282.3 611.1,282.6" fill="#1f6eb3"/>
<polygon points="611.6,281.7 611.8,282.1 612.1,282.4 612.4,282.7 612.8,283 613.2,283.3 613.7,283.5 614.2,283.8 614.8,284 615.4,284.2 616,284.3 616.7,284.5 617.4,284.6 618.1,284.7 618.9,284.7 619.6,284.8 620.3,284.8 621.1,284.7 621.8,284.7 622.5,284.6 623.2,284.5 623.9,284.3 624.5,284.2 625.1,284 625.7,283.8 626.2,283.5 626.7,283.3 627.1,283 627.4,282.7 627.7,282.4 628,282.1 628.2,281.8 628.3,281.4 628.3,281.1 628.3,280.8 628.2,280.4 628.1,280.1 627.9,279.8 627.6,279.4 627.3,279.1 626.9,278.9 626.5,278.6 626,278.3 625.5,278.1 624.9,277.9 624.3,277.7 623.7,277.5 623,277.4 622.3,277.3 621.6,277.2 620.9,277.1 620.1,277.1 619.4,277.1 618.7,277.1 617.9,277.2 617.2,277.3 616.5,277.4 615.9,277.5 615.2,277.7 614.6,277.9 614.1,278.1 613.6,278.3 613.1,278.6 612.7,278.9 612.3,279.1 612,279.4 611.8,279.8 611.6,280.1 611.5,280.4 611.4,280.7 611.4,281.1 611.5,281.4" fill="#1c6ab0"/>
<polygon points="612,280.5 612.1,280.8 612.4,281.1 612.7,281.4 613.1,281.7 613.5,282 613.9,282.2 614.4,282.4 615,282.6 615.6,282.8 616.2,283 616.8,283.1 617.5,283.2 618.2,283.3 618.9,283.4 619.6,283.4 620.3,283.4 621,283.4 621.7,283.3 622.4,283.2 623.1,283.1 623.7,283 624.3,282.8 624.9,282.7 625.4,282.4 625.9,282.2 626.4,282 626.8,281.7 627.1,281.4 627.4,281.1 627.6,280.8 627.8,280.5 627.9,280.2 628,279.9 628,279.6 627.9,279.2 627.8,278.9 627.6,278.6 627.3,278.3 627,278 626.6,277.7 626.2,277.5 625.8,277.2 625.3,277 624.7,276.8 624.1,276.6 623.5,276.5 622.9,276.3 622.2,276.2 621.5,276.1 620.8,276.1 620.1,276.1 619.4,276.1 618.7,276.1 618,276.1 617.3,276.2 616.7,276.3 616,276.5 615.4,276.6 614.9,276.8 614.3,277 613.8,277.2 613.4,277.5 613,277.7 612.6,278 612.3,278.3 612.1,278.6 611.9,278.9 611.8,279.2 611.8,279.6 611.8,279.9 611.8,280.2" fill="#1966ad"/>
<polygon points="612.3,279.3 612.5,279.6 612.7,279.9 613,280.1 613.4,280.4 613.7,280.7 614.2,280.9 614.7,281.1 615.2,281.3 615.8,281.5 616.3,281.6 617,281.8 617.6,281.9 618.3,282 618.9,282 619.6,282 620.3,282 621,282 621.6,282 622.3,281.9 622.9,281.8 623.5,281.6 624.1,281.5 624.7,281.3 625.2,281.1 625.6,280.9 626.1,280.7 626.5,280.4 626.8,280.1 627.1,279.9 627.3,279.6 627.4,279.3 627.6,279 627.6,278.7 627.6,278.4 627.5,278.1 627.4,277.8 627.2,277.5 627,277.2 626.7,276.9 626.3,276.6 625.9,276.4 625.5,276.2 625,275.9 624.5,275.7 623.9,275.6 623.3,275.4 622.7,275.3 622.1,275.2 621.4,275.1 620.8,275 620.1,275 619.4,275 618.8,275 618.1,275.1 617.4,275.2 616.8,275.3 616.2,275.4 615.6,275.6 615.1,275.7 614.6,275.9 614.1,276.1 613.7,276.4 613.3,276.6 612.9,276.9 612.7,277.2 612.4,277.5 612.3,277.8 612.2,278.1 612.1,278.4 612.1,278.7 612.2,279" fill="#1562a9"/>
<polygon points="612.7,278 612.8,278.3 613.1,278.6 613.3,278.9 613.7,279.1 614,279.3 614.5,279.6 614.9,279.8 615.4,280 615.9,280.1 616.5,280.3 617.1,280.4 617.7,280.5 618.3,280.6 619,280.6 619.6,280.7 620.3,280.7 620.9,280.6 621.5,280.6 622.2,280.5 622.8,280.4 623.3,280.3 623.9,280.1 624.4,280 624.9,279.8 625.4,279.6 625.8,279.4 626.1,279.1 626.4,278.9 626.7,278.6 626.9,278.3 627.1,278 627.2,277.8 627.2,277.5 627.2,277.2 627.1,276.9 627,276.6 626.9,276.3 626.6,276 626.3,275.8 626,275.5 625.6,275.3 625.2,275.1 624.8,274.9 624.3,274.7 623.7,274.5 623.2,274.4 622.6,274.2 622,274.1 621.4,274.1 620.7,274 620.1,274 619.4,274 618.8,274 618.2,274.1 617.6,274.1 617,274.2 616.4,274.4 615.8,274.5 615.3,274.7 614.8,274.9 614.4,275.1 614,275.3 613.6,275.5 613.3,275.8 613,276 612.8,276.3 612.6,276.6 612.5,276.9 612.5,277.2 612.5,277.5 612.5,277.7" fill="#125da6"/>
<polygon points="613,276.8 613.2,277.1 613.4,277.3 613.7,277.6 614,277.8 614.3,278 614.7,278.2 615.2,278.4 615.6,278.6 616.1,278.8 616.7,278.9 617.2,279 617.8,279.1 618.4,279.2 619,279.3 619.6,279.3 620.2,279.3 620.8,279.3 621.4,279.2 622,279.1 622.6,279 623.2,278.9 623.7,278.8 624.2,278.6 624.6,278.4 625.1,278.2 625.5,278 625.8,277.8 626.1,277.6 626.3,277.3 626.5,277.1 626.7,276.8 626.8,276.5 626.8,276.2 626.8,276 626.8,275.7 626.6,275.4 626.5,275.2 626.3,274.9 626,274.7 625.7,274.4 625.3,274.2 624.9,274 624.5,273.8 624,273.6 623.5,273.5 623,273.3 622.4,273.2 621.9,273.1 621.3,273 620.7,273 620.1,273 619.5,273 618.9,273 618.3,273 617.7,273.1 617.1,273.2 616.6,273.3 616,273.4 615.5,273.6 615.1,273.8 614.6,274 614.3,274.2 613.9,274.4 613.6,274.6 613.4,274.9 613.2,275.2 613,275.4 612.9,275.7 612.9,276 612.9,276.2 612.9,276.5" fill="#0e59a2"/>
<polygon points="613.4,275.5 613.6,275.8 613.8,276 614,276.3 614.3,276.5 614.6,276.7 615,276.9 615.4,277.1 615.9,277.3 616.4,277.4 616.9,277.5 617.4,277.7 617.9,277.7 618.5,277.8 619.1,277.9 619.6,277.9 620.2,277.9 620.8,277.9 621.3,277.8 621.9,277.7 622.4,277.7 623,277.5 623.5,277.4 623.9,277.3 624.4,277.1 624.8,276.9 625.1,276.7 625.4,276.5 625.7,276.3 626,276 626.2,275.8 626.3,275.5 626.4,275.3 626.4,275 626.4,274.8 626.4,274.5 626.3,274.3 626.1,274 625.9,273.8 625.6,273.5 625.3,273.3 625,273.1 624.6,272.9 624.2,272.7 623.8,272.5 623.3,272.4 622.8,272.3 622.3,272.2 621.7,272.1 621.2,272 620.6,272 620.1,271.9 619.5,271.9 618.9,272 618.3,272 617.8,272.1 617.3,272.2 616.7,272.3 616.2,272.4 615.8,272.5 615.3,272.7 614.9,272.9 614.6,273.1 614.3,273.3 614,273.5 613.7,273.8 613.5,274 613.4,274.3 613.3,274.5 613.3,274.8 613.3,275 613.3,275.3" fill="#0b559f"/>
<polygon points="613.8,274.3 614,274.5 614.2,274.8 614.4,275 614.7,275.2 615,275.4 615.3,275.6 615.7,275.7 616.1,275.9 616.6,276 617,276.2 617.5,276.3 618,276.3 618.6,276.4 619.1,276.5 619.6,276.5 620.2,276.5 620.7,276.5 621.2,276.4 621.8,276.3 622.3,276.3 622.8,276.2 623.2,276 623.7,275.9 624.1,275.7 624.4,275.6 624.8,275.4 625.1,275.2 625.3,275 625.6,274.8 625.7,274.5 625.9,274.3 626,274.1 626,273.8 626,273.6 625.9,273.3 625.8,273.1 625.7,272.9 625.5,272.6 625.3,272.4 625,272.2 624.7,272 624.3,271.8 623.9,271.6 623.5,271.5 623.1,271.3 622.6,271.2 622.1,271.1 621.6,271 621.1,271 620.6,270.9 620,270.9 619.5,270.9 619,270.9 618.4,271 617.9,271 617.4,271.1 616.9,271.2 616.5,271.3 616,271.5 615.6,271.6 615.3,271.8 614.9,272 614.6,272.2 614.3,272.4 614.1,272.6 613.9,272.9 613.8,273.1 613.7,273.3 613.7,273.6 613.7,273.8 613.7,274" fill="#08509b"/>
<polygon points="614.3,273 614.4,273.2 614.6,273.5 614.8,273.7 615,273.9 615.3,274 615.7,274.2 616,274.4 616.4,274.5 616.8,274.6 617.2,274.8 617.7,274.9 618.2,274.9 618.7,275 619.1,275 619.6,275.1 620.1,275.1 620.6,275 621.1,275 621.6,274.9 622.1,274.9 622.5,274.8 623,274.6 623.4,274.5 623.8,274.4 624.1,274.2 624.4,274 624.7,273.9 624.9,273.7 625.1,273.5 625.3,273.2 625.4,273 625.5,272.8 625.6,272.6 625.5,272.4 625.5,272.1 625.4,271.9 625.3,271.7 625.1,271.5 624.9,271.3 624.6,271.1 624.3,270.9 624,270.7 623.6,270.6 623.3,270.4 622.8,270.3 622.4,270.2 622,270.1 621.5,270 621,270 620.5,269.9 620,269.9 619.5,269.9 619,269.9 618.5,270 618.1,270 617.6,270.1 617.1,270.2 616.7,270.3 616.3,270.4 615.9,270.6 615.6,270.7 615.3,270.9 615,271.1 614.7,271.3 614.5,271.5 614.4,271.7 614.2,271.9 614.2,272.1 614.1,272.4 614.1,272.6 614.2,272.8" fill="#084c95"/>
<polygon points="614.7,271.8 614.8,272 615,272.2 615.2,272.3 615.4,272.5 615.7,272.7 616,272.8 616.3,273 616.7,273.1 617.1,273.2 617.5,273.4 617.9,273.4 618.3,273.5 618.7,273.6 619.2,273.6 619.7,273.6 620.1,273.6 620.6,273.6 621,273.6 621.5,273.5 621.9,273.4 622.3,273.4 622.7,273.2 623.1,273.1 623.4,273 623.7,272.9 624,272.7 624.3,272.5 624.5,272.3 624.7,272.2 624.9,272 625,271.8 625,271.6 625.1,271.4 625.1,271.2 625,270.9 624.9,270.7 624.8,270.5 624.6,270.4 624.4,270.2 624.2,270 623.9,269.8 623.6,269.7 623.3,269.5 623,269.4 622.6,269.3 622.2,269.2 621.8,269.1 621.3,269 620.9,269 620.4,268.9 620,268.9 619.5,268.9 619.1,268.9 618.6,269 618.2,269 617.8,269.1 617.4,269.2 617,269.3 616.6,269.4 616.2,269.5 615.9,269.7 615.6,269.8 615.4,270 615.2,270.2 615,270.4 614.8,270.5 614.7,270.7 614.6,270.9 614.6,271.2 614.6,271.4 614.6,271.6" fill="#08488e"/>
<polygon points="615.2,270.5 615.3,270.7 615.5,270.8 615.7,271 615.9,271.2 616.1,271.3 616.4,271.5 616.7,271.6 617,271.7 617.3,271.8 617.7,271.9 618.1,272 618.5,272.1 618.9,272.1 619.3,272.1 619.7,272.2 620.1,272.2 620.5,272.1 620.9,272.1 621.3,272.1 621.7,272 622.1,271.9 622.4,271.8 622.8,271.7 623.1,271.6 623.4,271.5 623.6,271.3 623.8,271.2 624,271 624.2,270.8 624.4,270.7 624.5,270.5 624.5,270.3 624.5,270.1 624.5,269.9 624.5,269.8 624.4,269.6 624.3,269.4 624.2,269.2 624,269.1 623.8,268.9 623.5,268.7 623.3,268.6 623,268.5 622.7,268.4 622.3,268.3 622,268.2 621.6,268.1 621.2,268 620.8,268 620.4,267.9 620,267.9 619.6,267.9 619.2,267.9 618.7,268 618.4,268 618,268.1 617.6,268.2 617.2,268.2 616.9,268.4 616.6,268.5 616.3,268.6 616,268.7 615.8,268.9 615.6,269.1 615.4,269.2 615.3,269.4 615.2,269.6 615.1,269.8 615.1,269.9 615.1,270.1 615.1,270.3" fill="#084488"/>
<polygon points="615.8,269.2 615.9,269.4 616,269.5 616.2,269.7 616.3,269.8 616.5,269.9 616.8,270.1 617,270.2 617.3,270.3 617.6,270.4 617.9,270.5 618.3,270.5 618.6,270.6 619,270.6 619.3,270.7 619.7,270.7 620,270.7 620.4,270.7 620.8,270.6 621.1,270.6 621.5,270.5 621.8,270.5 622.1,270.4 622.4,270.3 622.7,270.2 622.9,270.1 623.2,269.9 623.4,269.8 623.5,269.7 623.7,269.5 623.8,269.4 623.9,269.2 623.9,269.1 624,268.9 624,268.7 623.9,268.6 623.9,268.4 623.8,268.3 623.6,268.1 623.5,268 623.3,267.8 623.1,267.7 622.8,267.6 622.6,267.4 622.3,267.3 622,267.2 621.7,267.2 621.4,267.1 621,267 620.7,267 620.3,267 620,267 619.6,267 619.2,267 618.9,267 618.5,267 618.2,267.1 617.9,267.2 617.5,267.2 617.3,267.3 617,267.4 616.7,267.6 616.5,267.7 616.3,267.8 616.1,268 616,268.1 615.8,268.3 615.8,268.4 615.7,268.6 615.7,268.7 615.7,268.9 615.7,269.1" fill="#083e81"/>
<polygon points="616.4,267.9 616.5,268.1 616.6,268.2 616.7,268.3 616.9,268.4 617.1,268.5 617.3,268.6 617.5,268.7 617.7,268.8 618,268.9 618.2,269 618.5,269 618.8,269.1 619.1,269.1 619.4,269.1 619.7,269.2 620,269.2 620.3,269.1 620.6,269.1 620.9,269.1 621.2,269 621.5,269 621.7,268.9 622,268.8 622.2,268.7 622.4,268.6 622.6,268.5 622.8,268.4 622.9,268.3 623.1,268.2 623.2,268.1 623.2,267.9 623.3,267.8 623.3,267.7 623.3,267.5 623.3,267.4 623.2,267.2 623.1,267.1 623,267 622.9,266.9 622.7,266.7 622.6,266.6 622.4,266.5 622.1,266.4 621.9,266.3 621.7,266.3 621.4,266.2 621.1,266.1 620.8,266.1 620.5,266.1 620.2,266 619.9,266 619.6,266 619.3,266 619,266.1 618.7,266.1 618.4,266.1 618.2,266.2 617.9,266.3 617.7,266.3 617.4,266.4 617.2,266.5 617,266.6 616.8,266.7 616.7,266.9 616.6,267 616.5,267.1 616.4,267.2 616.3,267.4 616.3,267.5 616.3,267.7 616.3,267.8" fill="#083a7a"/>
<polygon points="617.2,266.6 617.2,266.7 617.3,266.8 617.4,266.9 617.5,267 617.7,267.1 617.8,267.2 618,267.3 618.2,267.3 618.4,267.4 618.6,267.4 618.8,267.5 619,267.5 619.3,267.5 619.5,267.6 619.7,267.6 620,267.6 620.2,267.6 620.4,267.5 620.7,267.5 620.9,267.5 621.1,267.4 621.3,267.4 621.5,267.3 621.7,267.3 621.8,267.2 622,267.1 622.1,267 622.2,266.9 622.3,266.8 622.4,266.7 622.5,266.6 622.5,266.5 622.5,266.4 622.5,266.3 622.5,266.2 622.4,266.1 622.4,266 622.3,265.9 622.2,265.8 622.1,265.7 621.9,265.6 621.8,265.5 621.6,265.5 621.4,265.4 621.2,265.3 621,265.3 620.8,265.2 620.6,265.2 620.4,265.2 620.1,265.2 619.9,265.2 619.7,265.2 619.4,265.2 619.2,265.2 619,265.2 618.7,265.2 618.5,265.3 618.3,265.3 618.1,265.4 618,265.5 617.8,265.5 617.6,265.6 617.5,265.7 617.4,265.8 617.3,265.9 617.2,266 617.2,266.1 617.1,266.2 617.1,266.3 617.1,266.4 617.1,266.5" fill="#083674"/>
<polygon points="618.3,265.3 618.3,265.3 618.4,265.4 618.4,265.5 618.5,265.5 618.6,265.6 618.7,265.6 618.8,265.6 618.9,265.7 619,265.7 619.1,265.7 619.2,265.8 619.4,265.8 619.5,265.8 619.6,265.8 619.8,265.8 619.9,265.8 620,265.8 620.2,265.8 620.3,265.8 620.4,265.8 620.5,265.7 620.7,265.7 620.8,265.7 620.9,265.6 621,265.6 621.1,265.6 621.1,265.5 621.2,265.5 621.3,265.4 621.3,265.3 621.3,265.3 621.4,265.2 621.4,265.2 621.4,265.1 621.3,265 621.3,265 621.3,264.9 621.2,264.9 621.2,264.8 621.1,264.8 621,264.7 620.9,264.7 620.8,264.6 620.7,264.6 620.6,264.5 620.5,264.5 620.4,264.5 620.3,264.5 620.1,264.5 620,264.4 619.9,264.4 619.7,264.4 619.6,264.4 619.5,264.5 619.3,264.5 619.2,264.5 619.1,264.5 619,264.5 618.8,264.6 618.7,264.6 618.6,264.7 618.6,264.7 618.5,264.8 618.4,264.8 618.4,264.9 618.3,264.9 618.3,265 618.3,265 618.3,265.1 618.3,265.2 618.3,265.2" fill="#08326e"/>
<polygon points="591.8,334.4 592.5,335.6 593.3,336.7 594.4,337.8 595.7,338.9 597.1,339.9 598.8,340.9 600.6,341.8 602.5,342.6 604.6,343.3 606.8,343.9 609.1,344.4 611.6,344.8 614,345.2 616.6,345.4 619.1,345.5 621.7,345.5 624.2,345.4 626.7,345.2 629.2,344.9 631.6,344.4 633.9,343.9 636.1,343.3 638.1,342.6 640,341.8 641.8,340.9 643.4,340 644.8,339 646,337.9 647,336.8 647.8,335.6 648.4,334.5 648.8,333.3 648.9,332 648.9,330.8 648.6,329.6 648.1,328.4 647.4,327.3 646.4,326.1 645.3,325.1 644,324 642.5,323 640.9,322.1 639.1,321.3 637.1,320.5 635.1,319.8 632.9,319.3 630.6,318.8 628.3,318.4 625.9,318 623.4,317.8 620.9,317.7 618.5,317.7 616,317.8 613.6,318 611.2,318.3 608.8,318.7 606.6,319.2 604.4,319.8 602.4,320.5 600.5,321.3 598.7,322.1 597.1,323 595.7,324 594.5,325 593.4,326.1 592.5,327.2 591.9,328.4 591.4,329.6 591.2,330.8 591.2,332 591.4,333.2" fill="none" stroke="#f5f6f8" stroke-width="0.7" stroke-opacity="0.85"/>
<polygon points="595,331.5 595.5,332.6 596.3,333.6 597.2,334.6 598.4,335.5 599.7,336.4 601.1,337.3 602.7,338 604.5,338.8 606.3,339.4 608.3,339.9 610.4,340.4 612.5,340.8 614.7,341.1 616.9,341.3 619.2,341.4 621.5,341.4 623.7,341.3 626,341.1 628.1,340.8 630.3,340.4 632.3,340 634.2,339.4 636.1,338.8 637.8,338.1 639.4,337.3 640.8,336.5 642,335.6 643.1,334.6 644,333.7 644.7,332.6 645.3,331.6 645.6,330.5 645.7,329.4 645.7,328.4 645.4,327.3 645,326.2 644.3,325.2 643.5,324.2 642.5,323.2 641.4,322.3 640.1,321.5 638.6,320.6 637,319.9 635.3,319.2 633.4,318.6 631.5,318.1 629.5,317.6 627.4,317.3 625.2,317 623,316.8 620.8,316.7 618.6,316.7 616.4,316.8 614.2,317 612.1,317.3 610,317.6 608,318.1 606.1,318.6 604.3,319.2 602.6,319.9 601.1,320.6 599.6,321.4 598.4,322.3 597.3,323.2 596.3,324.2 595.5,325.2 595,326.2 594.6,327.3 594.4,328.3 594.4,329.4 594.6,330.5" fill="none" stroke="#f3f5f8" stroke-width="0.7" stroke-opacity="0.85"/>
<polygon points="597,328.8 597.5,329.7 598.2,330.7 599.1,331.6 600.1,332.5 601.3,333.3 602.6,334 604.1,334.8 605.7,335.4 607.4,336 609.2,336.5 611.1,336.9 613.1,337.3 615.1,337.5 617.2,337.7 619.3,337.8 621.3,337.8 623.4,337.7 625.5,337.5 627.5,337.3 629.4,336.9 631.3,336.5 633.1,336 634.8,335.4 636.3,334.8 637.8,334.1 639.1,333.3 640.2,332.5 641.2,331.6 642.1,330.7 642.7,329.8 643.2,328.8 643.5,327.9 643.7,326.9 643.6,325.9 643.4,324.9 643,323.9 642.4,323 641.6,322.1 640.7,321.2 639.7,320.3 638.5,319.5 637.1,318.8 635.6,318.1 634,317.5 632.3,316.9 630.6,316.4 628.7,316 626.8,315.7 624.8,315.5 622.8,315.3 620.8,315.2 618.7,315.2 616.7,315.3 614.7,315.4 612.7,315.7 610.8,316 609,316.4 607.2,316.9 605.6,317.5 604,318.1 602.6,318.8 601.3,319.5 600.1,320.3 599.1,321.1 598.2,322 597.5,322.9 597,323.9 596.6,324.9 596.4,325.8 596.4,326.8 596.6,327.8" fill="none" stroke="#eef3f8" stroke-width="0.7" stroke-opacity="0.85"/>
<polygon points="598.5,326.1 599,327 599.7,327.8 600.5,328.7 601.4,329.5 602.6,330.2 603.8,331 605.2,331.6 606.7,332.2 608.3,332.8 610,333.2 611.7,333.6 613.6,333.9 615.4,334.2 617.4,334.4 619.3,334.4 621.2,334.4 623.2,334.4 625.1,334.2 627,334 628.8,333.6 630.5,333.2 632.2,332.8 633.8,332.2 635.2,331.6 636.6,331 637.8,330.3 638.9,329.5 639.8,328.7 640.6,327.9 641.2,327 641.7,326.1 641.9,325.2 642.1,324.3 642,323.4 641.8,322.5 641.4,321.6 640.9,320.7 640.2,319.8 639.3,319 638.4,318.2 637.2,317.5 636,316.8 634.6,316.1 633.1,315.5 631.5,315 629.9,314.6 628.1,314.2 626.3,313.9 624.5,313.7 622.6,313.5 620.7,313.4 618.8,313.4 616.9,313.5 615,313.6 613.2,313.9 611.4,314.2 609.7,314.6 608.1,315 606.5,315.5 605.1,316.1 603.7,316.7 602.5,317.4 601.4,318.2 600.4,319 599.6,319.8 599,320.6 598.5,321.5 598.2,322.4 598,323.3 598,324.2 598.2,325.2" fill="none" stroke="#e6eef7" stroke-width="0.7" stroke-opacity="0.85"/>
<polygon points="599.8,323.4 600.2,324.2 600.9,325 601.6,325.8 602.5,326.6 603.6,327.3 604.8,328 606.1,328.6 607.5,329.1 609,329.6 610.6,330.1 612.2,330.5 613.9,330.8 615.7,331 617.5,331.1 619.3,331.2 621.2,331.2 623,331.1 624.8,331 626.5,330.8 628.2,330.5 629.9,330.1 631.5,329.7 632.9,329.2 634.3,328.6 635.6,328 636.7,327.3 637.7,326.6 638.6,325.8 639.3,325.1 639.9,324.2 640.4,323.4 640.6,322.6 640.7,321.7 640.7,320.8 640.5,320 640.2,319.1 639.6,318.3 639,317.5 638.2,316.7 637.3,316 636.2,315.3 635,314.6 633.7,314 632.3,313.5 630.8,313 629.3,312.6 627.6,312.2 625.9,311.9 624.2,311.7 622.4,311.6 620.7,311.5 618.9,311.5 617.1,311.6 615.3,311.7 613.6,311.9 611.9,312.2 610.3,312.6 608.8,313 607.3,313.5 605.9,314 604.7,314.6 603.5,315.3 602.5,316 601.6,316.7 600.8,317.5 600.2,318.3 599.8,319.1 599.4,319.9 599.3,320.8 599.3,321.7 599.4,322.5" fill="none" stroke="#dce8f4" stroke-width="0.7" stroke-opacity="0.85"/>
<polygon points="600.9,320.7 601.3,321.5 601.9,322.2 602.6,323 603.5,323.7 604.5,324.4 605.6,325 606.8,325.6 608.1,326.1 609.6,326.6 611.1,327 612.6,327.3 614.3,327.6 615.9,327.8 617.6,328 619.4,328.1 621.1,328.1 622.8,328 624.5,327.9 626.2,327.6 627.8,327.4 629.3,327 630.8,326.6 632.2,326.1 633.5,325.6 634.7,325 635.8,324.4 636.8,323.7 637.6,323 638.3,322.3 638.8,321.5 639.2,320.7 639.5,319.9 639.6,319.1 639.6,318.3 639.4,317.5 639,316.7 638.6,315.9 638,315.1 637.2,314.4 636.3,313.7 635.3,313.1 634.2,312.4 633,311.9 631.7,311.4 630.2,310.9 628.8,310.5 627.2,310.2 625.6,309.9 624,309.7 622.3,309.5 620.6,309.5 618.9,309.5 617.2,309.5 615.6,309.7 613.9,309.9 612.3,310.2 610.8,310.5 609.4,310.9 608,311.3 606.7,311.9 605.5,312.4 604.4,313 603.4,313.7 602.6,314.4 601.9,315.1 601.3,315.9 600.8,316.7 600.6,317.5 600.4,318.3 600.4,319.1 600.6,319.9" fill="none" stroke="#cfe1f1" stroke-width="0.7" stroke-opacity="0.85"/>
<polygon points="601.8,318 602.3,318.7 602.8,319.5 603.5,320.2 604.3,320.8 605.3,321.5 606.3,322.1 607.5,322.6 608.8,323.1 610.1,323.6 611.5,324 613,324.3 614.6,324.6 616.1,324.8 617.8,324.9 619.4,325 621,325 622.7,324.9 624.3,324.8 625.8,324.6 627.4,324.3 628.8,324 630.2,323.6 631.6,323.1 632.8,322.6 633.9,322.1 635,321.5 635.9,320.9 636.7,320.2 637.3,319.5 637.8,318.8 638.2,318 638.5,317.3 638.6,316.5 638.5,315.7 638.4,315 638.1,314.2 637.6,313.5 637,312.8 636.3,312.1 635.5,311.4 634.5,310.8 633.5,310.2 632.3,309.7 631,309.2 629.7,308.7 628.3,308.4 626.8,308 625.3,307.8 623.8,307.6 622.2,307.5 620.6,307.4 619,307.4 617.4,307.5 615.8,307.6 614.2,307.8 612.7,308 611.3,308.4 609.9,308.7 608.6,309.2 607.4,309.6 606.2,310.2 605.2,310.8 604.3,311.4 603.5,312 602.8,312.7 602.2,313.4 601.8,314.2 601.5,314.9 601.4,315.7 601.4,316.5 601.6,317.2" fill="none" stroke="#c2daed" stroke-width="0.7" stroke-opacity="0.85"/>
<polygon points="602.7,315.3 603.1,316 603.7,316.7 604.3,317.4 605.1,318 606,318.6 607,319.2 608.1,319.7 609.3,320.1 610.6,320.6 611.9,320.9 613.3,321.3 614.8,321.5 616.3,321.7 617.9,321.8 619.4,321.9 621,321.9 622.5,321.8 624,321.7 625.5,321.5 627,321.3 628.4,321 629.7,320.6 631,320.2 632.1,319.7 633.2,319.2 634.2,318.6 635.1,318 635.8,317.4 636.4,316.7 636.9,316 637.3,315.3 637.5,314.6 637.6,313.9 637.6,313.1 637.4,312.4 637.1,311.7 636.7,311 636.2,310.3 635.5,309.7 634.7,309.1 633.8,308.5 632.8,307.9 631.7,307.4 630.5,306.9 629.2,306.5 627.9,306.2 626.5,305.9 625,305.6 623.6,305.4 622.1,305.3 620.5,305.2 619,305.2 617.5,305.3 616,305.4 614.5,305.6 613.1,305.9 611.7,306.2 610.4,306.5 609.1,306.9 608,307.4 606.9,307.9 605.9,308.4 605,309 604.3,309.7 603.6,310.3 603.1,311 602.7,311.7 602.5,312.4 602.3,313.1 602.3,313.8 602.5,314.6" fill="none" stroke="#b4d3e9" stroke-width="0.7" stroke-opacity="0.85"/>
<polygon points="603.6,312.6 604,313.3 604.5,313.9 605.1,314.5 605.8,315.1 606.7,315.7 607.6,316.3 608.7,316.7 609.8,317.2 611,317.6 612.3,317.9 613.7,318.2 615.1,318.5 616.5,318.7 618,318.8 619.4,318.9 620.9,318.9 622.4,318.8 623.8,318.7 625.3,318.5 626.6,318.3 628,318 629.2,317.6 630.4,317.2 631.5,316.8 632.6,316.3 633.5,315.7 634.3,315.2 635,314.6 635.6,313.9 636.1,313.3 636.4,312.6 636.7,311.9 636.8,311.2 636.7,310.6 636.6,309.9 636.3,309.2 635.9,308.5 635.4,307.9 634.7,307.3 634,306.7 633.1,306.1 632.1,305.6 631.1,305.1 630,304.7 628.8,304.3 627.5,303.9 626.2,303.7 624.8,303.4 623.4,303.2 621.9,303.1 620.5,303.1 619,303.1 617.6,303.1 616.2,303.2 614.8,303.4 613.4,303.6 612.1,303.9 610.8,304.3 609.7,304.7 608.5,305.1 607.5,305.6 606.6,306.1 605.8,306.7 605,307.2 604.4,307.9 603.9,308.5 603.6,309.2 603.3,309.8 603.2,310.5 603.2,311.2 603.3,311.9" fill="none" stroke="#a8cee4" stroke-width="0.7" stroke-opacity="0.85"/>
<polygon points="604.4,309.9 604.7,310.5 605.2,311.1 605.8,311.7 606.5,312.3 607.3,312.8 608.2,313.4 609.2,313.8 610.3,314.2 611.5,314.6 612.7,315 614,315.2 615.3,315.5 616.7,315.6 618,315.8 619.4,315.8 620.8,315.8 622.2,315.8 623.6,315.6 625,315.5 626.3,315.3 627.6,315 628.8,314.6 629.9,314.3 631,313.8 631.9,313.4 632.8,312.9 633.6,312.3 634.3,311.8 634.8,311.2 635.3,310.5 635.6,309.9 635.8,309.3 635.9,308.6 635.9,307.9 635.8,307.3 635.5,306.7 635.1,306 634.6,305.4 634,304.8 633.3,304.3 632.5,303.7 631.5,303.2 630.6,302.8 629.5,302.4 628.3,302 627.1,301.7 625.9,301.4 624.5,301.2 623.2,301 621.8,300.9 620.5,300.8 619.1,300.8 617.7,300.9 616.3,301 615,301.2 613.7,301.4 612.5,301.7 611.3,302 610.1,302.4 609.1,302.8 608.1,303.2 607.2,303.7 606.4,304.3 605.8,304.8 605.2,305.4 604.7,306 604.3,306.6 604.1,307.3 604,307.9 604,308.6 604.1,309.2" fill="none" stroke="#9ac8e0" stroke-width="0.7" stroke-opacity="0.85"/>
<polygon points="605.1,307.2 605.5,307.8 605.9,308.4 606.5,308.9 607.2,309.5 607.9,310 608.8,310.5 609.7,310.9 610.8,311.3 611.9,311.7 613,312 614.3,312.2 615.5,312.5 616.8,312.6 618.1,312.7 619.5,312.8 620.8,312.8 622.1,312.7 623.4,312.6 624.7,312.5 626,312.3 627.2,312 628.3,311.7 629.4,311.3 630.4,310.9 631.3,310.5 632.2,310 632.9,309.5 633.6,308.9 634.1,308.4 634.5,307.8 634.9,307.2 635.1,306.6 635.2,306 635.1,305.3 635,304.7 634.7,304.1 634.4,303.5 633.9,302.9 633.3,302.4 632.6,301.8 631.8,301.3 631,300.9 630,300.4 629,300 627.9,299.7 626.8,299.4 625.6,299.1 624.3,298.9 623,298.7 621.7,298.6 620.4,298.6 619.1,298.6 617.8,298.6 616.5,298.7 615.2,298.9 614,299.1 612.8,299.4 611.7,299.7 610.6,300 609.6,300.4 608.7,300.9 607.8,301.3 607.1,301.8 606.4,302.4 605.9,302.9 605.4,303.5 605.1,304.1 604.9,304.7 604.8,305.3 604.8,305.9 604.9,306.6" fill="none" stroke="#8abfdd" stroke-width="0.7" stroke-opacity="0.85"/>
<polygon points="605.8,304.4 606.2,305 606.6,305.6 607.2,306.1 607.8,306.6 608.5,307.1 609.3,307.6 610.2,308 611.2,308.4 612.3,308.7 613.4,309 614.5,309.2 615.7,309.5 617,309.6 618.2,309.7 619.5,309.8 620.7,309.8 622,309.7 623.3,309.6 624.5,309.5 625.7,309.3 626.8,309 627.9,308.7 628.9,308.4 629.9,308 630.8,307.6 631.6,307.1 632.3,306.6 632.9,306.1 633.4,305.6 633.8,305 634.1,304.5 634.3,303.9 634.4,303.3 634.4,302.7 634.2,302.1 634,301.5 633.6,301 633.2,300.4 632.6,299.9 632,299.4 631.2,298.9 630.4,298.5 629.5,298.1 628.5,297.7 627.5,297.3 626.4,297.1 625.3,296.8 624.1,296.6 622.9,296.5 621.6,296.4 620.4,296.3 619.1,296.3 617.9,296.4 616.7,296.5 615.5,296.6 614.3,296.8 613.2,297 612.1,297.3 611.1,297.7 610.1,298 609.2,298.5 608.4,298.9 607.7,299.4 607.1,299.9 606.6,300.4 606.1,301 605.8,301.5 605.6,302.1 605.5,302.7 605.5,303.3 605.6,303.9" fill="none" stroke="#7ab6d9" stroke-width="0.7" stroke-opacity="0.85"/>
<polygon points="606.6,301.7 606.9,302.2 607.3,302.8 607.8,303.3 608.4,303.8 609.1,304.2 609.9,304.6 610.7,305 611.7,305.4 612.7,305.7 613.7,306 614.8,306.3 615.9,306.4 617.1,306.6 618.3,306.7 619.5,306.7 620.7,306.7 621.9,306.7 623.1,306.6 624.2,306.4 625.4,306.3 626.4,306 627.5,305.7 628.5,305.4 629.4,305.1 630.2,304.7 631,304.2 631.6,303.8 632.2,303.3 632.7,302.8 633.1,302.3 633.4,301.7 633.6,301.2 633.6,300.6 633.6,300.1 633.5,299.5 633.3,299 632.9,298.4 632.5,297.9 632,297.4 631.4,296.9 630.7,296.5 629.9,296 629,295.7 628.1,295.3 627.1,295 626.1,294.7 625,294.5 623.9,294.3 622.7,294.1 621.5,294.1 620.4,294 619.2,294 618,294.1 616.8,294.1 615.7,294.3 614.6,294.5 613.5,294.7 612.5,295 611.5,295.3 610.6,295.6 609.8,296 609,296.5 608.3,296.9 607.7,297.4 607.2,297.9 606.8,298.4 606.5,298.9 606.3,299.5 606.2,300 606.2,300.6 606.3,301.2" fill="none" stroke="#6aaed6" stroke-width="0.7" stroke-opacity="0.85"/>
<polygon points="607.3,299 607.6,299.5 607.9,300 608.4,300.4 609,300.9 609.7,301.3 610.4,301.7 611.2,302.1 612.1,302.5 613,302.8 614,303 615.1,303.2 616.1,303.4 617.2,303.6 618.4,303.7 619.5,303.7 620.6,303.7 621.8,303.7 622.9,303.6 624,303.4 625.1,303.3 626.1,303 627.1,302.8 628,302.5 628.9,302.1 629.6,301.7 630.4,301.3 631,300.9 631.6,300.4 632,300 632.4,299.5 632.7,299 632.8,298.4 632.9,297.9 632.9,297.4 632.8,296.9 632.6,296.4 632.2,295.9 631.8,295.4 631.3,294.9 630.8,294.4 630.1,294 629.4,293.6 628.5,293.2 627.7,292.9 626.7,292.6 625.7,292.3 624.7,292.1 623.7,292 622.6,291.8 621.5,291.7 620.3,291.7 619.2,291.7 618.1,291.7 617,291.8 615.9,291.9 614.8,292.1 613.8,292.3 612.9,292.6 611.9,292.9 611.1,293.2 610.3,293.6 609.6,294 608.9,294.4 608.4,294.9 607.9,295.3 607.5,295.8 607.2,296.3 607,296.9 606.9,297.4 606.9,297.9 607,298.4" fill="none" stroke="#5fa6d1" stroke-width="0.7" stroke-opacity="0.85"/>
<polygon points="607.9,296.2 608.2,296.7 608.6,297.1 609.1,297.6 609.6,298 610.2,298.4 610.9,298.8 611.7,299.2 612.5,299.5 613.4,299.8 614.3,300 615.3,300.2 616.3,300.4 617.4,300.5 618.4,300.6 619.5,300.7 620.6,300.7 621.7,300.6 622.7,300.5 623.8,300.4 624.8,300.2 625.7,300 626.7,299.8 627.5,299.5 628.4,299.2 629.1,298.8 629.8,298.4 630.4,298 630.9,297.6 631.3,297.1 631.7,296.7 631.9,296.2 632.1,295.7 632.2,295.2 632.2,294.7 632.1,294.2 631.8,293.7 631.6,293.3 631.2,292.8 630.7,292.4 630.2,291.9 629.5,291.5 628.8,291.2 628.1,290.8 627.2,290.5 626.3,290.2 625.4,290 624.4,289.8 623.4,289.6 622.4,289.5 621.4,289.4 620.3,289.3 619.2,289.3 618.2,289.4 617.1,289.5 616.1,289.6 615.1,289.8 614.1,290 613.2,290.2 612.4,290.5 611.6,290.8 610.8,291.1 610.1,291.5 609.5,291.9 609,292.4 608.5,292.8 608.2,293.3 607.9,293.7 607.7,294.2 607.6,294.7 607.7,295.2 607.7,295.7" fill="none" stroke="#529dcc" stroke-width="0.7" stroke-opacity="0.85"/>
<polygon points="608.6,293.4 608.9,293.9 609.2,294.3 609.7,294.7 610.2,295.1 610.8,295.5 611.4,295.9 612.2,296.2 612.9,296.5 613.8,296.8 614.7,297 615.6,297.2 616.5,297.4 617.5,297.5 618.5,297.6 619.5,297.6 620.5,297.6 621.6,297.6 622.6,297.5 623.5,297.4 624.5,297.2 625.4,297 626.3,296.8 627.1,296.5 627.8,296.2 628.6,295.9 629.2,295.5 629.8,295.1 630.2,294.7 630.7,294.3 631,293.9 631.2,293.4 631.4,293 631.5,292.5 631.4,292 631.3,291.6 631.1,291.1 630.9,290.7 630.5,290.2 630.1,289.8 629.5,289.4 629,289 628.3,288.7 627.6,288.4 626.8,288.1 626,287.8 625.1,287.6 624.2,287.4 623.2,287.2 622.3,287.1 621.3,287 620.3,287 619.3,287 618.3,287 617.3,287.1 616.3,287.2 615.4,287.4 614.5,287.6 613.6,287.8 612.8,288.1 612,288.4 611.3,288.7 610.7,289 610.1,289.4 609.6,289.8 609.2,290.2 608.9,290.7 608.6,291.1 608.4,291.6 608.3,292 608.4,292.5 608.4,293" fill="none" stroke="#4594c7" stroke-width="0.7" stroke-opacity="0.85"/>
<polygon points="609.3,290.6 609.6,291 609.9,291.5 610.3,291.9 610.8,292.2 611.3,292.6 612,292.9 612.6,293.2 613.4,293.5 614.1,293.8 615,294 615.8,294.2 616.7,294.3 617.7,294.4 618.6,294.5 619.5,294.6 620.5,294.6 621.4,294.5 622.4,294.4 623.3,294.3 624.2,294.2 625,294 625.9,293.8 626.6,293.5 627.3,293.2 628,292.9 628.6,292.6 629.1,292.2 629.6,291.9 630,291.5 630.3,291.1 630.5,290.6 630.7,290.2 630.7,289.8 630.7,289.3 630.6,288.9 630.4,288.5 630.2,288.1 629.8,287.7 629.4,287.3 628.9,286.9 628.4,286.5 627.8,286.2 627.1,285.9 626.4,285.6 625.6,285.4 624.8,285.2 623.9,285 623,284.8 622.1,284.7 621.2,284.6 620.2,284.6 619.3,284.6 618.4,284.6 617.4,284.7 616.5,284.8 615.6,285 614.8,285.2 614,285.4 613.2,285.6 612.5,285.9 611.8,286.2 611.2,286.5 610.7,286.9 610.2,287.3 609.8,287.6 609.5,288.1 609.3,288.5 609.1,288.9 609.1,289.3 609.1,289.8 609.2,290.2" fill="none" stroke="#3a8ac2" stroke-width="0.7" stroke-opacity="0.85"/>
<polygon points="610,287.8 610.3,288.2 610.6,288.6 610.9,289 611.4,289.3 611.9,289.6 612.5,290 613.1,290.2 613.8,290.5 614.5,290.7 615.3,290.9 616.1,291.1 616.9,291.3 617.8,291.4 618.7,291.4 619.6,291.5 620.4,291.5 621.3,291.4 622.2,291.4 623.1,291.3 623.9,291.1 624.7,291 625.4,290.7 626.2,290.5 626.8,290.3 627.4,290 628,289.7 628.5,289.3 628.9,289 629.3,288.6 629.6,288.2 629.8,287.8 629.9,287.4 630,287 630,286.6 629.9,286.2 629.7,285.8 629.5,285.4 629.2,285.1 628.8,284.7 628.3,284.3 627.8,284 627.2,283.7 626.6,283.4 625.9,283.2 625.2,282.9 624.4,282.7 623.6,282.6 622.8,282.4 621.9,282.3 621.1,282.3 620.2,282.2 619.3,282.2 618.5,282.3 617.6,282.3 616.7,282.4 615.9,282.6 615.1,282.7 614.4,282.9 613.7,283.2 613,283.4 612.4,283.7 611.8,284 611.3,284.3 610.9,284.7 610.5,285.1 610.2,285.4 610,285.8 609.8,286.2 609.8,286.6 609.8,287 609.9,287.4" fill="none" stroke="#3080bd" stroke-width="0.7" stroke-opacity="0.85"/>
<polygon points="610.7,285 611,285.4 611.2,285.7 611.6,286.1 612,286.4 612.5,286.7 613,287 613.6,287.2 614.2,287.5 614.9,287.7 615.6,287.9 616.4,288 617.1,288.2 617.9,288.3 618.8,288.3 619.6,288.4 620.4,288.4 621.2,288.3 622,288.3 622.8,288.2 623.6,288.1 624.3,287.9 625,287.7 625.7,287.5 626.3,287.2 626.9,287 627.4,286.7 627.8,286.4 628.2,286.1 628.6,285.7 628.8,285.4 629,285 629.2,284.6 629.2,284.3 629.2,283.9 629.1,283.5 629,283.2 628.8,282.8 628.5,282.5 628.1,282.1 627.7,281.8 627.2,281.5 626.7,281.2 626.1,280.9 625.5,280.7 624.8,280.5 624.1,280.3 623.3,280.2 622.6,280 621.8,279.9 621,279.9 620.2,279.8 619.4,279.8 618.5,279.9 617.7,279.9 617,280 616.2,280.2 615.5,280.3 614.8,280.5 614.1,280.7 613.5,280.9 612.9,281.2 612.4,281.5 611.9,281.8 611.5,282.1 611.2,282.5 610.9,282.8 610.7,283.2 610.6,283.5 610.5,283.9 610.5,284.3 610.6,284.6" fill="none" stroke="#2575b7" stroke-width="0.7" stroke-opacity="0.85"/>
<polygon points="611.5,282.2 611.7,282.5 612,282.8 612.3,283.1 612.7,283.4 613.1,283.7 613.6,284 614.1,284.2 614.7,284.4 615.3,284.6 616,284.8 616.7,285 617.4,285.1 618.1,285.2 618.8,285.2 619.6,285.2 620.3,285.2 621.1,285.2 621.8,285.2 622.6,285.1 623.3,285 623.9,284.8 624.6,284.6 625.2,284.4 625.8,284.2 626.3,284 626.8,283.7 627.2,283.4 627.5,283.1 627.8,282.8 628.1,282.5 628.3,282.2 628.4,281.8 628.4,281.5 628.4,281.2 628.4,280.8 628.2,280.5 628,280.2 627.7,279.8 627.4,279.5 627,279.2 626.6,279 626.1,278.7 625.6,278.5 625,278.2 624.4,278.1 623.7,277.9 623,277.7 622.3,277.6 621.6,277.5 620.9,277.5 620.1,277.4 619.4,277.4 618.6,277.5 617.9,277.5 617.2,277.6 616.5,277.7 615.8,277.9 615.2,278.1 614.6,278.2 614,278.5 613.5,278.7 613,279 612.6,279.2 612.2,279.5 611.9,279.8 611.7,280.2 611.5,280.5 611.3,280.8 611.3,281.2 611.3,281.5 611.4,281.8" fill="none" stroke="#1d6cb1" stroke-width="0.7" stroke-opacity="0.85"/>
<polygon points="612.3,279.3 612.5,279.6 612.7,279.9 613,280.2 613.3,280.5 613.7,280.7 614.2,280.9 614.7,281.2 615.2,281.4 615.7,281.5 616.3,281.7 617,281.8 617.6,281.9 618.3,282 618.9,282.1 619.6,282.1 620.3,282.1 621,282.1 621.6,282 622.3,281.9 622.9,281.8 623.5,281.7 624.1,281.5 624.7,281.4 625.2,281.2 625.7,280.9 626.1,280.7 626.5,280.5 626.8,280.2 627.1,279.9 627.3,279.6 627.5,279.3 627.6,279 627.6,278.7 627.6,278.4 627.5,278.1 627.4,277.8 627.2,277.5 627,277.2 626.7,276.9 626.3,276.7 625.9,276.4 625.5,276.2 625,276 624.5,275.8 623.9,275.6 623.3,275.5 622.7,275.3 622.1,275.2 621.4,275.1 620.8,275.1 620.1,275.1 619.4,275.1 618.8,275.1 618.1,275.1 617.4,275.2 616.8,275.3 616.2,275.5 615.6,275.6 615.1,275.8 614.6,276 614.1,276.2 613.7,276.4 613.3,276.7 612.9,276.9 612.7,277.2 612.4,277.5 612.3,277.8 612.1,278.1 612.1,278.4 612.1,278.7 612.2,279" fill="none" stroke="#1562a9" stroke-width="0.7" stroke-opacity="0.85"/>
<polygon points="613.1,276.5 613.3,276.7 613.5,277 613.8,277.2 614.1,277.5 614.4,277.7 614.8,277.9 615.2,278.1 615.7,278.3 616.2,278.4 616.7,278.5 617.3,278.7 617.8,278.8 618.4,278.8 619,278.9 619.6,278.9 620.2,278.9 620.8,278.9 621.4,278.8 622,278.8 622.6,278.7 623.1,278.6 623.6,278.4 624.1,278.3 624.6,278.1 625,277.9 625.4,277.7 625.7,277.5 626,277.2 626.2,277 626.4,276.7 626.6,276.5 626.7,276.2 626.7,275.9 626.7,275.6 626.7,275.4 626.5,275.1 626.4,274.8 626.2,274.6 625.9,274.3 625.6,274.1 625.2,273.9 624.9,273.7 624.4,273.5 624,273.3 623.5,273.2 622.9,273 622.4,272.9 621.8,272.8 621.2,272.8 620.7,272.7 620.1,272.7 619.5,272.7 618.9,272.7 618.3,272.8 617.7,272.8 617.1,272.9 616.6,273 616.1,273.2 615.6,273.3 615.1,273.5 614.7,273.7 614.3,273.9 614,274.1 613.7,274.3 613.5,274.6 613.3,274.8 613.1,275.1 613,275.4 613,275.6 613,275.9 613,276.2" fill="none" stroke="#0e58a2" stroke-width="0.7" stroke-opacity="0.85"/>
<polygon points="614.1,273.6 614.2,273.8 614.4,274 614.6,274.2 614.9,274.4 615.2,274.6 615.5,274.8 615.9,275 616.3,275.1 616.7,275.2 617.2,275.4 617.6,275.5 618.1,275.5 618.6,275.6 619.1,275.6 619.6,275.7 620.2,275.7 620.7,275.6 621.2,275.6 621.7,275.5 622.2,275.5 622.6,275.4 623.1,275.2 623.5,275.1 623.9,275 624.2,274.8 624.6,274.6 624.9,274.4 625.1,274.2 625.3,274 625.5,273.8 625.6,273.6 625.7,273.3 625.7,273.1 625.7,272.9 625.7,272.6 625.6,272.4 625.4,272.2 625.3,272 625,271.8 624.8,271.6 624.5,271.4 624.1,271.2 623.8,271 623.4,270.9 622.9,270.7 622.5,270.6 622,270.5 621.5,270.5 621,270.4 620.5,270.4 620,270.3 619.5,270.3 619,270.4 618.5,270.4 618,270.5 617.5,270.5 617.1,270.6 616.6,270.7 616.2,270.9 615.8,271 615.4,271.2 615.1,271.4 614.8,271.6 614.6,271.8 614.4,272 614.2,272.2 614.1,272.4 614,272.6 613.9,272.9 613.9,273.1 614,273.3" fill="none" stroke="#084e98" stroke-width="0.7" stroke-opacity="0.85"/>
<polygon points="615.2,270.6 615.3,270.8 615.4,271 615.6,271.2 615.8,271.3 616.1,271.5 616.3,271.6 616.6,271.8 616.9,271.9 617.3,272 617.7,272.1 618,272.2 618.4,272.2 618.8,272.3 619.3,272.3 619.7,272.3 620.1,272.3 620.5,272.3 620.9,272.3 621.3,272.2 621.7,272.2 622.1,272.1 622.5,272 622.8,271.9 623.1,271.8 623.4,271.6 623.7,271.5 623.9,271.3 624.1,271.2 624.3,271 624.4,270.8 624.5,270.6 624.6,270.5 624.6,270.3 624.6,270.1 624.6,269.9 624.5,269.7 624.4,269.5 624.2,269.4 624,269.2 623.8,269 623.6,268.9 623.3,268.7 623,268.6 622.7,268.5 622.3,268.4 622,268.3 621.6,268.2 621.2,268.1 620.8,268.1 620.4,268.1 620,268 619.6,268 619.1,268.1 618.7,268.1 618.3,268.1 617.9,268.2 617.6,268.3 617.2,268.4 616.9,268.5 616.6,268.6 616.3,268.7 616,268.9 615.8,269 615.6,269.2 615.4,269.4 615.2,269.5 615.1,269.7 615.1,269.9 615,270.1 615,270.3 615.1,270.5" fill="none" stroke="#084488" stroke-width="0.7" stroke-opacity="0.85"/>
<polygon points="616.5,267.7 616.6,267.8 616.7,267.9 616.8,268 617,268.2 617.2,268.3 617.4,268.4 617.6,268.5 617.8,268.5 618,268.6 618.3,268.7 618.6,268.7 618.8,268.8 619.1,268.8 619.4,268.8 619.7,268.9 620,268.9 620.3,268.8 620.6,268.8 620.9,268.8 621.1,268.7 621.4,268.7 621.7,268.6 621.9,268.5 622.1,268.5 622.3,268.4 622.5,268.3 622.7,268.2 622.8,268 622.9,267.9 623,267.8 623.1,267.7 623.2,267.5 623.2,267.4 623.2,267.3 623.1,267.2 623.1,267 623,266.9 622.9,266.8 622.8,266.7 622.6,266.5 622.5,266.4 622.3,266.3 622.1,266.2 621.8,266.2 621.6,266.1 621.3,266 621.1,266 620.8,265.9 620.5,265.9 620.2,265.9 619.9,265.9 619.6,265.9 619.3,265.9 619,265.9 618.8,265.9 618.5,266 618.2,266 618,266.1 617.7,266.2 617.5,266.2 617.3,266.3 617.1,266.4 617,266.5 616.8,266.7 616.7,266.8 616.6,266.9 616.5,267 616.5,267.2 616.5,267.3 616.5,267.4 616.5,267.5" fill="none" stroke="#083979" stroke-width="0.7" stroke-opacity="0.85"/>
<line x1="711.1" y1="361.9" x2="562.6" y2="378.3" stroke="#000" stroke-width="0.9"/>
<line x1="534.4" y1="307.8" x2="562.6" y2="378.3" stroke="#000" stroke-width="0.9"/>
<line x1="534.4" y1="307.8" x2="528.4" y2="235.7" stroke="#000" stroke-width="0.9"/>
<line x1="708.2" y1="362.2" x2="709.4" y2="364.5" stroke="#000" stroke-width="0.8"/>
<line x1="673" y1="366.1" x2="674.1" y2="368.4" stroke="#000" stroke-width="0.8"/>
<line x1="637.5" y1="370.1" x2="638.5" y2="372.3" stroke="#000" stroke-width="0.8"/>
<line x1="601.7" y1="374" x2="602.7" y2="376.3" stroke="#000" stroke-width="0.8"/>
<line x1="565.6" y1="378" x2="566.6" y2="380.3" stroke="#000" stroke-width="0.8"/>
<line x1="534.9" y1="309.1" x2="529.9" y2="309.7" stroke="#000" stroke-width="0.8"/>
<line x1="541.3" y1="325.1" x2="536.2" y2="325.7" stroke="#000" stroke-width="0.8"/>
<line x1="548" y1="341.7" x2="542.7" y2="342.3" stroke="#000" stroke-width="0.8"/>
<line x1="554.9" y1="358.9" x2="549.5" y2="359.5" stroke="#000" stroke-width="0.8"/>
<line x1="562" y1="376.8" x2="556.6" y2="377.4" stroke="#000" stroke-width="0.8"/>
<line x1="531.8" y1="308" x2="536.9" y2="307.4" stroke="#000" stroke-width="0.8"/>
<line x1="529.6" y1="281.2" x2="534.7" y2="280.7" stroke="#000" stroke-width="0.8"/>
<line x1="527.2" y1="253.1" x2="532.5" y2="252.6" stroke="#000" stroke-width="0.8"/>
<linearGradient id="g732_26" x1="0" y1="0" x2="0" y2="1"><stop offset="0" stop-color="#08306b"/><stop offset="0.1" stop-color="#084a91"/><stop offset="0.2" stop-color="#1764ab"/><stop offset="0.3" stop-color="#2e7ebc"/><stop offset="0.4" stop-color="#4a98c9"/><stop offset="0.5" stop-color="#6aaed6"/><stop offset="0.6" stop-color="#94c4df"/><stop offset="0.7" stop-color="#b7d4ea"/><stop offset="0.8" stop-color="#d0e1f2"/><stop offset="0.9" stop-color="#e3eef9"/><stop offset="1" stop-color="#f7fbff"/></linearGradient>
<rect x="732.6" y="26.2" width="7.4" height="136.6" fill="url(#g732_26)"/>
<rect x="732.6" y="26.2" width="7.4" height="136.6" fill="none" stroke="#000" stroke-width="1"/>
<linearGradient id="g732_236" x1="0" y1="0" x2="0" y2="1"><stop offset="0" stop-color="#08306b"/><stop offset="0.1" stop-color="#084a91"/><stop offset="0.2" stop-color="#1764ab"/><stop offset="0.3" stop-color="#2e7ebc"/><stop offset="0.4" stop-color="#4a98c9"/><stop offset="0.5" stop-color="#6aaed6"/><stop offset="0.6" stop-color="#94c4df"/><stop offset="0.7" stop-color="#b7d4ea"/><stop offset="0.8" stop-color="#d0e1f2"/><stop offset="0.9" stop-color="#e3eef9"/><stop offset="1" stop-color="#f7fbff"/></linearGradient>
<rect x="732.4" y="236" width="7.4" height="136.7" fill="url(#g732_236)"/>
<rect x="732.4" y="236" width="7.4" height="136.7" fill="none" stroke="#000" stroke-width="1"/>
<line x1="742.5" y1="148.3" x2="742.5" y2="151.3" stroke="#777" stroke-width="0.8"/>
<g style="font-family:'Liberation Serif',serif" fill="#000">
<text x="1.66" y="21.48" font-size="18" style="">(a)</text>
<text x="76.36" y="15.3" font-size="17.5" style="font-weight:bold;font-style:italic">Q</text>
<text x="90.88" y="16.27" font-size="19" style="stroke:#000;stroke-width:0.1">(</text>
<text x="98.3" y="15.45" font-size="17.5" style="font-weight:bold;font-style:italic">x</text>
<text font-size="7.5" style="font-weight:bold" transform="translate(108.58 21.3) scale(1.4 1)">1</text>
<text x="115.62" y="15.3" font-size="18" style="">,</text>
<text x="127.2" y="15.45" font-size="17.5" style="font-weight:bold;font-style:italic">x</text>
<text font-size="7.5" style="font-weight:bold" transform="translate(137.78 21.3) scale(1.4 1)">2</text>
<text x="143.6" y="16.27" font-size="19" style="stroke:#000;stroke-width:0.1">)</text>
<text x="30.27" y="33.69" font-size="17" style="">4</text>
<text x="30.94" y="67.65" font-size="17" style="">2</text>
<text x="30.65" y="101.52" font-size="17" style="">0</text>
<text x="25.28" y="135.5" font-size="17" style="">-2</text>
<text x="24.6" y="169.39" font-size="17" style="">-4</text>
<text x="38.44" y="179.2" font-size="17" style="">-4</text>
<text x="72.9" y="179.2" font-size="17" style="">-2</text>
<text x="109.7" y="179.2" font-size="17" style="">0</text>
<text x="143.92" y="179.2" font-size="17" style="">2</text>
<text x="176.92" y="179.2" font-size="17" style="">4</text>
<text x="109.45" y="194.7" font-size="17.5" style="font-weight:bold;font-style:italic">x</text>
<text font-size="7.5" style="font-weight:bold" transform="translate(119.53 200.5) scale(1.4 1)">1</text>
<text x="190.98" y="23.48" font-size="17" style="">0.273</text>
<text x="204.75" y="179.57" font-size="17" style="">0</text>
<text x="235.41" y="21.33" font-size="18" style="">(c)</text>
<text x="311.46" y="15.3" font-size="17.5" style="font-weight:bold;font-style:italic">Q</text>
<text x="326.13" y="16.27" font-size="19" style="stroke:#000;stroke-width:0.1">(</text>
<text x="333.51" y="15.45" font-size="17.5" style="font-weight:bold;font-style:italic">p</text>
<text font-size="7.5" style="font-weight:bold" transform="translate(343.43 21.3) scale(1.4 1)">1</text>
<text x="349.97" y="15.3" font-size="18" style="">,</text>
<text x="361.66" y="15.45" font-size="17.5" style="font-weight:bold;font-style:italic">p</text>
<text font-size="7.5" style="font-weight:bold" transform="translate(371.18 21.3) scale(1.4 1)">2</text>
<text x="376.75" y="16.27" font-size="19" style="stroke:#000;stroke-width:0.1">)</text>
<text x="265.27" y="33.69" font-size="17" style="">4</text>
<text x="265.94" y="67.65" font-size="17" style="">2</text>
<text x="265.65" y="101.52" font-size="17" style="">0</text>
<text x="260.28" y="135.5" font-size="17" style="">-2</text>
<text x="259.6" y="169.39" font-size="17" style="">-4</text>
<text x="274.44" y="179.2" font-size="17" style="">-4</text>
<text x="308.77" y="179.2" font-size="17" style="">-2</text>
<text x="345.45" y="179.2" font-size="17" style="">0</text>
<text x="379.55" y="179.2" font-size="17" style="">2</text>
<text x="412.42" y="179.2" font-size="17" style="">4</text>
<text x="345.31" y="195.5" font-size="17.5" style="font-weight:bold;font-style:italic">p</text>
<text font-size="7.5" style="font-weight:bold" transform="translate(354.53 200.1) scale(1.4 1)">1</text>
<text x="418" y="23.48" font-size="17" style="">0.307</text>
<text x="438.25" y="179.12" font-size="17" style="">0</text>
<text x="0.91" y="227.28" font-size="18" style="">(b)</text>
<text x="76.36" y="223.5" font-size="17.5" style="font-weight:bold;font-style:italic">Q</text>
<text x="90.88" y="224.47" font-size="19" style="stroke:#000;stroke-width:0.1">(</text>
<text x="98.3" y="223.65" font-size="17.5" style="font-weight:bold;font-style:italic">x</text>
<text font-size="7.5" style="font-weight:bold" transform="translate(108.58 229.5) scale(1.4 1)">1</text>
<text x="115.62" y="223.5" font-size="18" style="">,</text>
<text x="127.2" y="223.65" font-size="17.5" style="font-weight:bold;font-style:italic">x</text>
<text font-size="7.5" style="font-weight:bold" transform="translate(137.78 229.5) scale(1.4 1)">2</text>
<text x="143.6" y="224.47" font-size="19" style="stroke:#000;stroke-width:0.1">)</text>
<text x="30.27" y="241.59" font-size="17" style="">4</text>
<text x="30.94" y="275.73" font-size="17" style="">2</text>
<text x="30.65" y="309.77" font-size="17" style="">0</text>
<text x="25.28" y="343.93" font-size="17" style="">-2</text>
<text x="24.6" y="377.99" font-size="17" style="">-4</text>
<text x="38.44" y="387.8" font-size="17" style="">-4</text>
<text x="72.77" y="387.8" font-size="17" style="">-2</text>
<text x="109.45" y="387.8" font-size="17" style="">0</text>
<text x="143.55" y="387.8" font-size="17" style="">2</text>
<text x="176.42" y="387.8" font-size="17" style="">4</text>
<text x="109.45" y="403.3" font-size="17.5" style="font-weight:bold;font-style:italic">x</text>
<text font-size="7.5" style="font-weight:bold" transform="translate(119.53 409.1) scale(1.4 1)">1</text>
<text x="190.76" y="232.48" font-size="17" style="">0.261</text>
<text x="205.95" y="387.87" font-size="17" style="">0</text>
<text x="237.41" y="227.28" font-size="18" style="">(d)</text>
<text x="311.46" y="224.1" font-size="17.5" style="font-weight:bold;font-style:italic">Q</text>
<text x="326.13" y="225.07" font-size="19" style="stroke:#000;stroke-width:0.1">(</text>
<text x="333.51" y="224.25" font-size="17.5" style="font-weight:bold;font-style:italic">p</text>
<text font-size="7.5" style="font-weight:bold" transform="translate(343.43 230.1) scale(1.4 1)">1</text>
<text x="349.97" y="224.1" font-size="18" style="">,</text>
<text x="361.66" y="224.25" font-size="17.5" style="font-weight:bold;font-style:italic">p</text>
<text font-size="7.5" style="font-weight:bold" transform="translate(371.18 230.1) scale(1.4 1)">2</text>
<text x="376.75" y="225.07" font-size="19" style="stroke:#000;stroke-width:0.1">)</text>
<text x="265.27" y="242.69" font-size="17" style="">4</text>
<text x="265.94" y="276.7" font-size="17" style="">2</text>
<text x="265.65" y="310.62" font-size="17" style="">0</text>
<text x="260.28" y="344.65" font-size="17" style="">-2</text>
<text x="259.6" y="378.59" font-size="17" style="">-4</text>
<text x="274.44" y="388.4" font-size="17" style="">-4</text>
<text x="308.77" y="388.4" font-size="17" style="">-2</text>
<text x="345.45" y="388.4" font-size="17" style="">0</text>
<text x="379.55" y="388.4" font-size="17" style="">2</text>
<text x="412.42" y="388.4" font-size="17" style="">4</text>
<text x="345.31" y="404.7" font-size="17.5" style="font-weight:bold;font-style:italic">p</text>
<text font-size="7.5" style="font-weight:bold" transform="translate(354.53 409.3) scale(1.4 1)">1</text>
<text x="418.08" y="232.48" font-size="17" style="">0.315</text>
<text x="438.25" y="387.67" font-size="17" style="">0</text>
<text x="470.76" y="21.38" font-size="18" style="">(e)</text>
<text x="720.53" y="22.88" font-size="17" style="">0.63</text>
<text x="731.65" y="178.22" font-size="17" style="">0</text>
<text x="504.13" y="49.13" font-size="17" style="">0.5</text>
<text x="495.03" y="78.73" font-size="17" style="">0.25</text>
<text x="515.55" y="105.02" font-size="17" style="">0</text>
<text x="516.94" y="113.64" font-size="17" style="">-4</text>
<text x="521.07" y="127.63" font-size="17" style="">-2</text>
<text x="533.15" y="143.72" font-size="17" style="">0</text>
<text x="540.2" y="160.83" font-size="17" style="">2</text>
<text x="547.02" y="179.09" font-size="17" style="">4</text>
<text x="563.02" y="188.64" font-size="17" style="">4</text>
<text x="598.85" y="184.63" font-size="17" style="">2</text>
<text x="634.65" y="180.02" font-size="17" style="">0</text>
<text x="668.27" y="175.68" font-size="17" style="">-2</text>
<text x="702.74" y="172.04" font-size="17" style="">-4</text>
<text x="635.8" y="192" font-size="17.5" style="font-weight:bold;font-style:italic">x</text>
<text font-size="7.5" style="font-weight:bold;letter-spacing:0.9px" transform="translate(646.11 198.6) scale(1.3 1)">1,2</text>
<text x="509.01" y="143.7" font-size="17.5" style="font-weight:bold;font-style:italic">p</text>
<text font-size="7.5" style="font-weight:bold;letter-spacing:0.9px" transform="translate(517.71 150.6) scale(1.3 1)">1,2</text>
<text x="471.16" y="227.22" font-size="18" style="">(f)</text>
<text x="720.42" y="231.78" font-size="17" style="">0.62</text>
<text x="731.95" y="386.77" font-size="17" style="">0</text>
<text x="504.13" y="255.63" font-size="17" style="">0.5</text>
<text x="495.03" y="285.23" font-size="17" style="">0.25</text>
<text x="515.55" y="311.52" font-size="17" style="">0</text>
<text x="516.94" y="320.14" font-size="17" style="">-4</text>
<text x="521.07" y="334.13" font-size="17" style="">-2</text>
<text x="533.15" y="350.22" font-size="17" style="">0</text>
<text x="540.2" y="367.33" font-size="17" style="">2</text>
<text x="547.02" y="385.59" font-size="17" style="">4</text>
<text x="563.02" y="395.14" font-size="17" style="">4</text>
<text x="598.85" y="391.13" font-size="17" style="">2</text>
<text x="634.65" y="386.52" font-size="17" style="">0</text>
<text x="668.27" y="382.18" font-size="17" style="">-2</text>
<text x="702.74" y="378.54" font-size="17" style="">-4</text>
<text x="635.8" y="398.5" font-size="17.5" style="font-weight:bold;font-style:italic">x</text>
<text font-size="7.5" style="font-weight:bold;letter-spacing:0.9px" transform="translate(646.11 405.1) scale(1.3 1)">1,2</text>
<text x="509.01" y="350.2" font-size="17.5" style="font-weight:bold;font-style:italic">p</text>
<text font-size="7.5" style="font-weight:bold;letter-spacing:0.9px" transform="translate(517.71 357.1) scale(1.3 1)">1,2</text>
<text x="-4.05" y="0" font-size="17.5" style="font-weight:bold;font-style:italic" transform="translate(17.8 93.95) rotate(-90)">x</text>
<text font-size="7.5" style="font-weight:bold" transform="translate(17.8 93.95) rotate(-90) translate(5.88 6.2) scale(1.4 1)">2</text>
<text x="-3.49" y="0" font-size="17.5" style="font-weight:bold;font-style:italic" transform="translate(251.4 94.55) rotate(-90)">p</text>
<text font-size="7.5" style="font-weight:bold" transform="translate(251.4 94.55) rotate(-90) translate(5.43 7.1) scale(1.4 1)">2</text>
<text x="-4.05" y="0" font-size="17.5" style="font-weight:bold;font-style:italic" transform="translate(17.8 301.85) rotate(-90)">x</text>
<text font-size="7.5" style="font-weight:bold" transform="translate(17.8 301.85) rotate(-90) translate(5.88 6.2) scale(1.4 1)">2</text>
<text x="-3.49" y="0" font-size="17.5" style="font-weight:bold;font-style:italic" transform="translate(251.4 303.55) rotate(-90)">p</text>
<text font-size="7.5" style="font-weight:bold" transform="translate(251.4 303.55) rotate(-90) translate(5.43 7.1) scale(1.4 1)">2</text>
<text x="0.25" y="0" font-size="17.5" style="font-weight:bold;font-style:italic" transform="translate(488.4 136.6) rotate(-90)">W</text>
<text x="18.48" y="-0.03" font-size="19" style="stroke:#000;stroke-width:0.1" transform="translate(488.4 136.6) rotate(-90)">(</text>
<text x="26.25" y="0.1" font-size="17.5" style="font-weight:bold;font-style:italic" transform="translate(488.4 136.6) rotate(-90)">x</text>
<text font-size="7.5" style="font-weight:bold;letter-spacing:0.9px" transform="translate(488.4 136.6) rotate(-90) translate(35.81 6) scale(1.3 1)">1,2</text>
<text x="49.47" y="0" font-size="18" style="" transform="translate(488.4 136.6) rotate(-90)">,</text>
<text x="63.11" y="0.1" font-size="17.5" style="font-weight:bold;font-style:italic" transform="translate(488.4 136.6) rotate(-90)">p</text>
<text font-size="7.5" style="font-weight:bold;letter-spacing:0.9px" transform="translate(488.4 136.6) rotate(-90) translate(75.16 6) scale(1.3 1)">1,2</text>
<text x="87.45" y="-0.03" font-size="19" style="stroke:#000;stroke-width:0.1" transform="translate(488.4 136.6) rotate(-90)">)</text>
<text x="0.25" y="0" font-size="17.5" style="font-weight:bold;font-style:italic" transform="translate(488.4 343.1) rotate(-90)">W</text>
<text x="18.48" y="-0.03" font-size="19" style="stroke:#000;stroke-width:0.1" transform="translate(488.4 343.1) rotate(-90)">(</text>
<text x="26.25" y="0.1" font-size="17.5" style="font-weight:bold;font-style:italic" transform="translate(488.4 343.1) rotate(-90)">x</text>
<text font-size="7.5" style="font-weight:bold;letter-spacing:0.9px" transform="translate(488.4 343.1) rotate(-90) translate(35.81 6) scale(1.3 1)">1,2</text>
<text x="49.47" y="0" font-size="18" style="" transform="translate(488.4 343.1) rotate(-90)">,</text>
<text x="63.11" y="0.1" font-size="17.5" style="font-weight:bold;font-style:italic" transform="translate(488.4 343.1) rotate(-90)">p</text>
<text font-size="7.5" style="font-weight:bold;letter-spacing:0.9px" transform="translate(488.4 343.1) rotate(-90) translate(75.16 6) scale(1.3 1)">1,2</text>
<text x="87.45" y="-0.03" font-size="19" style="stroke:#000;stroke-width:0.1" transform="translate(488.4 343.1) rotate(-90)">)</text>
</g></svg>
</body></html>
